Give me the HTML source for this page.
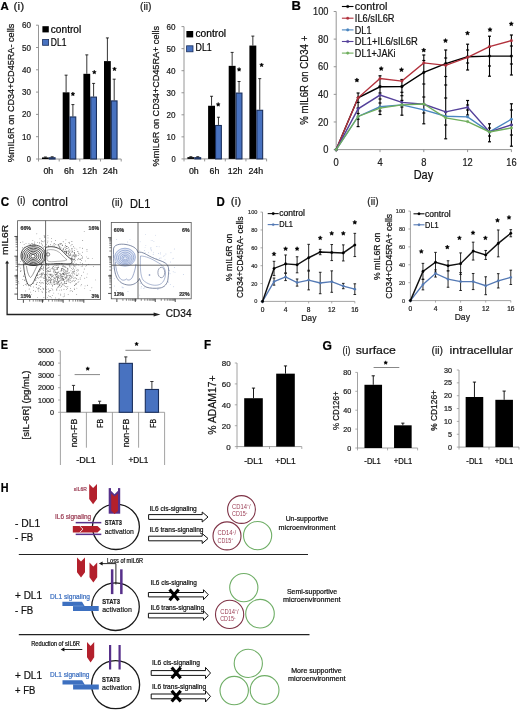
<!DOCTYPE html>
<html><head><meta charset="utf-8"><title>Figure</title>
<style>
html,body{margin:0;padding:0;background:#fff;}
body{width:520px;height:710px;overflow:hidden;}
svg{display:block;font-family:"Liberation Sans", sans-serif;filter:blur(0.3px);}
</style></head>
<body>
<svg width="520" height="710" viewBox="0 0 520 710">
<rect x="0" y="0" width="520" height="710" fill="#fff"/>
<line x1="38.5" y1="25.2" x2="38.5" y2="159" stroke="#8a8a8a" stroke-width="0.9" />
<line x1="38.5" y1="159" x2="121.2" y2="159" stroke="#8a8a8a" stroke-width="0.9" />
<line x1="36" y1="159" x2="38.5" y2="159" stroke="#8a8a8a" stroke-width="0.9" />
<text x="31" y="162.02" font-size="8.4" fill="#222" stroke="#222" stroke-width="0.22" text-anchor="end" textLength="4.2" lengthAdjust="spacingAndGlyphs">0</text>
<line x1="36" y1="136.7" x2="38.5" y2="136.7" stroke="#8a8a8a" stroke-width="0.9" />
<text x="31" y="139.72" font-size="8.4" fill="#222" stroke="#222" stroke-width="0.22" text-anchor="end" textLength="9" lengthAdjust="spacingAndGlyphs">10</text>
<line x1="36" y1="114.4" x2="38.5" y2="114.4" stroke="#8a8a8a" stroke-width="0.9" />
<text x="31" y="117.42" font-size="8.4" fill="#222" stroke="#222" stroke-width="0.22" text-anchor="end" textLength="9" lengthAdjust="spacingAndGlyphs">20</text>
<line x1="36" y1="92.1" x2="38.5" y2="92.1" stroke="#8a8a8a" stroke-width="0.9" />
<text x="31" y="95.12" font-size="8.4" fill="#222" stroke="#222" stroke-width="0.22" text-anchor="end" textLength="9" lengthAdjust="spacingAndGlyphs">30</text>
<line x1="36" y1="69.8" x2="38.5" y2="69.8" stroke="#8a8a8a" stroke-width="0.9" />
<text x="31" y="72.82" font-size="8.4" fill="#222" stroke="#222" stroke-width="0.22" text-anchor="end" textLength="9" lengthAdjust="spacingAndGlyphs">40</text>
<line x1="36" y1="47.5" x2="38.5" y2="47.5" stroke="#8a8a8a" stroke-width="0.9" />
<text x="31" y="50.52" font-size="8.4" fill="#222" stroke="#222" stroke-width="0.22" text-anchor="end" textLength="9" lengthAdjust="spacingAndGlyphs">50</text>
<line x1="36" y1="25.2" x2="38.5" y2="25.2" stroke="#8a8a8a" stroke-width="0.9" />
<text x="31" y="28.22" font-size="8.4" fill="#222" stroke="#222" stroke-width="0.22" text-anchor="end" textLength="9" lengthAdjust="spacingAndGlyphs">60</text>
<line x1="38.5" y1="159" x2="38.5" y2="161.5" stroke="#8a8a8a" stroke-width="0.9" />
<line x1="59.2" y1="159" x2="59.2" y2="161.5" stroke="#8a8a8a" stroke-width="0.9" />
<line x1="79.8" y1="159" x2="79.8" y2="161.5" stroke="#8a8a8a" stroke-width="0.9" />
<line x1="100.5" y1="159" x2="100.5" y2="161.5" stroke="#8a8a8a" stroke-width="0.9" />
<line x1="121.2" y1="159" x2="121.2" y2="161.5" stroke="#8a8a8a" stroke-width="0.9" />
<rect x="42" y="157.44" width="6.8" height="1.56" fill="#000" />
<rect x="49.35" y="157.77" width="5.7" height="1.23" fill="#4872c0" stroke="#1a2f5c" stroke-width="1.1" />
<line x1="45.4" y1="156.99" x2="45.4" y2="157.44" stroke="#000" stroke-width="0.8" />
<line x1="43.9" y1="156.99" x2="46.9" y2="156.99" stroke="#000" stroke-width="0.8" />
<line x1="52.2" y1="156.77" x2="52.2" y2="157.22" stroke="#000" stroke-width="0.8" />
<line x1="50.7" y1="156.77" x2="53.7" y2="156.77" stroke="#000" stroke-width="0.8" />
<rect x="62.7" y="92.32" width="6.8" height="66.68" fill="#000" />
<rect x="70.05" y="116.96" width="5.7" height="42.04" fill="#4872c0" stroke="#1a2f5c" stroke-width="1.1" />
<line x1="66.1" y1="75.15" x2="66.1" y2="92.32" stroke="#000" stroke-width="0.8" />
<line x1="64.6" y1="75.15" x2="67.6" y2="75.15" stroke="#000" stroke-width="0.8" />
<line x1="72.9" y1="104.59" x2="72.9" y2="116.41" stroke="#000" stroke-width="0.8" />
<line x1="71.4" y1="104.59" x2="74.4" y2="104.59" stroke="#000" stroke-width="0.8" />
<rect x="83.4" y="73.81" width="6.8" height="85.19" fill="#000" />
<rect x="90.75" y="97.11" width="5.7" height="61.89" fill="#4872c0" stroke="#1a2f5c" stroke-width="1.1" />
<line x1="86.8" y1="54.86" x2="86.8" y2="73.81" stroke="#000" stroke-width="0.8" />
<line x1="85.3" y1="54.86" x2="88.3" y2="54.86" stroke="#000" stroke-width="0.8" />
<line x1="93.6" y1="83.4" x2="93.6" y2="96.56" stroke="#000" stroke-width="0.8" />
<line x1="92.1" y1="83.4" x2="95.1" y2="83.4" stroke="#000" stroke-width="0.8" />
<rect x="104" y="61.1" width="6.8" height="97.9" fill="#000" />
<rect x="111.35" y="100.9" width="5.7" height="58.1" fill="#4872c0" stroke="#1a2f5c" stroke-width="1.1" />
<line x1="107.4" y1="37.91" x2="107.4" y2="61.1" stroke="#000" stroke-width="0.8" />
<line x1="105.9" y1="37.91" x2="108.9" y2="37.91" stroke="#000" stroke-width="0.8" />
<line x1="114.2" y1="79.17" x2="114.2" y2="100.35" stroke="#000" stroke-width="0.8" />
<line x1="112.7" y1="79.17" x2="115.7" y2="79.17" stroke="#000" stroke-width="0.8" />
<text x="48.3" y="174.2" font-size="8.8" fill="#111" stroke="#111" stroke-width="0.22" text-anchor="middle">0h</text>
<text x="69" y="174.2" font-size="8.8" fill="#111" stroke="#111" stroke-width="0.22" text-anchor="middle">6h</text>
<text x="89.7" y="174.2" font-size="8.8" fill="#111" stroke="#111" stroke-width="0.22" text-anchor="middle">12h</text>
<text x="110.3" y="174.2" font-size="8.8" fill="#111" stroke="#111" stroke-width="0.22" text-anchor="middle">24h</text>
<polygon points="72.9,91.97 73.5,93.18 74.83,93.37 73.86,94.31 74.09,95.64 72.9,95.01 71.71,95.64 71.94,94.31 70.97,93.37 72.3,93.18" fill="#000" stroke="#000" stroke-width="0.5" stroke-linejoin="round"/>
<polygon points="94.3,70.17 94.9,71.38 96.23,71.57 95.26,72.51 95.49,73.84 94.3,73.21 93.11,73.84 93.34,72.51 92.37,71.57 93.7,71.38" fill="#000" stroke="#000" stroke-width="0.5" stroke-linejoin="round"/>
<polygon points="114.5,66.97 115.1,68.18 116.43,68.37 115.46,69.31 115.69,70.64 114.5,70.01 113.31,70.64 113.54,69.31 112.57,68.37 113.9,68.18" fill="#000" stroke="#000" stroke-width="0.5" stroke-linejoin="round"/>
<rect x="42.4" y="26.2" width="6.4" height="6.2" fill="#000" />
<text x="50.8" y="32.6" font-size="10.6" fill="#000" stroke="#000" stroke-width="0.22" textLength="30.4" lengthAdjust="spacingAndGlyphs">control</text>
<rect x="42.6" y="39.4" width="6" height="5.9" fill="#4872c0" stroke="#1a2f5c" stroke-width="0.8" />
<text x="50.8" y="45.8" font-size="10.6" fill="#000" stroke="#000" stroke-width="0.22" textLength="15.6" lengthAdjust="spacingAndGlyphs">DL1</text>
<text x="0.6" y="9.6" font-size="11.2" fill="#000" stroke="#000" stroke-width="0.22" font-weight="bold" textLength="8.3" lengthAdjust="spacingAndGlyphs">A</text>
<text x="13.6" y="10" font-size="10.6" fill="#222" stroke="#222" stroke-width="0.22" textLength="10.6" lengthAdjust="spacingAndGlyphs">(i)</text>
<text transform="translate(14.2,93) rotate(-90)" font-size="9.8" fill="#111" stroke="#111" stroke-width="0.22" text-anchor="middle" textLength="138.5" lengthAdjust="spacingAndGlyphs">%mIL6R on CD34+CD45RA- cells</text>
<line x1="184" y1="26.6" x2="184" y2="158.9" stroke="#8a8a8a" stroke-width="0.9" />
<line x1="184" y1="158.9" x2="266.6" y2="158.9" stroke="#8a8a8a" stroke-width="0.9" />
<line x1="181.5" y1="158.9" x2="184" y2="158.9" stroke="#8a8a8a" stroke-width="0.9" />
<text x="175.6" y="161.92" font-size="8.4" fill="#222" stroke="#222" stroke-width="0.22" text-anchor="end" textLength="4.2" lengthAdjust="spacingAndGlyphs">0</text>
<line x1="181.5" y1="136.85" x2="184" y2="136.85" stroke="#8a8a8a" stroke-width="0.9" />
<text x="175.6" y="139.87" font-size="8.4" fill="#222" stroke="#222" stroke-width="0.22" text-anchor="end" textLength="9" lengthAdjust="spacingAndGlyphs">10</text>
<line x1="181.5" y1="114.8" x2="184" y2="114.8" stroke="#8a8a8a" stroke-width="0.9" />
<text x="175.6" y="117.82" font-size="8.4" fill="#222" stroke="#222" stroke-width="0.22" text-anchor="end" textLength="9" lengthAdjust="spacingAndGlyphs">20</text>
<line x1="181.5" y1="92.75" x2="184" y2="92.75" stroke="#8a8a8a" stroke-width="0.9" />
<text x="175.6" y="95.77" font-size="8.4" fill="#222" stroke="#222" stroke-width="0.22" text-anchor="end" textLength="9" lengthAdjust="spacingAndGlyphs">30</text>
<line x1="181.5" y1="70.7" x2="184" y2="70.7" stroke="#8a8a8a" stroke-width="0.9" />
<text x="175.6" y="73.72" font-size="8.4" fill="#222" stroke="#222" stroke-width="0.22" text-anchor="end" textLength="9" lengthAdjust="spacingAndGlyphs">40</text>
<line x1="181.5" y1="48.65" x2="184" y2="48.65" stroke="#8a8a8a" stroke-width="0.9" />
<text x="175.6" y="51.67" font-size="8.4" fill="#222" stroke="#222" stroke-width="0.22" text-anchor="end" textLength="9" lengthAdjust="spacingAndGlyphs">50</text>
<line x1="181.5" y1="26.6" x2="184" y2="26.6" stroke="#8a8a8a" stroke-width="0.9" />
<text x="175.6" y="29.62" font-size="8.4" fill="#222" stroke="#222" stroke-width="0.22" text-anchor="end" textLength="9" lengthAdjust="spacingAndGlyphs">60</text>
<line x1="184" y1="158.9" x2="184" y2="161.4" stroke="#8a8a8a" stroke-width="0.9" />
<line x1="204.65" y1="158.9" x2="204.65" y2="161.4" stroke="#8a8a8a" stroke-width="0.9" />
<line x1="225.3" y1="158.9" x2="225.3" y2="161.4" stroke="#8a8a8a" stroke-width="0.9" />
<line x1="245.95" y1="158.9" x2="245.95" y2="161.4" stroke="#8a8a8a" stroke-width="0.9" />
<line x1="266.6" y1="158.9" x2="266.6" y2="161.4" stroke="#8a8a8a" stroke-width="0.9" />
<rect x="187.4" y="157.14" width="6.9" height="1.76" fill="#000" />
<rect x="194.85" y="157.69" width="5.8" height="1.21" fill="#4872c0" stroke="#1a2f5c" stroke-width="1.1" />
<line x1="190.85" y1="156.69" x2="190.85" y2="157.14" stroke="#000" stroke-width="0.8" />
<line x1="189.35" y1="156.69" x2="192.35" y2="156.69" stroke="#000" stroke-width="0.8" />
<line x1="197.75" y1="156.69" x2="197.75" y2="157.14" stroke="#000" stroke-width="0.8" />
<line x1="196.25" y1="156.69" x2="199.25" y2="156.69" stroke="#000" stroke-width="0.8" />
<rect x="208.1" y="105.76" width="6.9" height="53.14" fill="#000" />
<rect x="215.55" y="125.49" width="5.8" height="33.41" fill="#4872c0" stroke="#1a2f5c" stroke-width="1.1" />
<line x1="211.55" y1="96.28" x2="211.55" y2="105.76" stroke="#000" stroke-width="0.8" />
<line x1="210.05" y1="96.28" x2="213.05" y2="96.28" stroke="#000" stroke-width="0.8" />
<line x1="218.45" y1="117.23" x2="218.45" y2="124.94" stroke="#000" stroke-width="0.8" />
<line x1="216.95" y1="117.23" x2="219.95" y2="117.23" stroke="#000" stroke-width="0.8" />
<rect x="228.7" y="65.85" width="6.9" height="93.05" fill="#000" />
<rect x="236.15" y="93.08" width="5.8" height="65.82" fill="#4872c0" stroke="#1a2f5c" stroke-width="1.1" />
<line x1="232.15" y1="52.4" x2="232.15" y2="65.85" stroke="#000" stroke-width="0.8" />
<line x1="230.65" y1="52.4" x2="233.65" y2="52.4" stroke="#000" stroke-width="0.8" />
<line x1="239.05" y1="81.5" x2="239.05" y2="92.53" stroke="#000" stroke-width="0.8" />
<line x1="237.55" y1="81.5" x2="240.55" y2="81.5" stroke="#000" stroke-width="0.8" />
<rect x="249.4" y="45.56" width="6.9" height="113.34" fill="#000" />
<rect x="256.85" y="110.28" width="5.8" height="48.62" fill="#4872c0" stroke="#1a2f5c" stroke-width="1.1" />
<line x1="252.85" y1="36.08" x2="252.85" y2="45.56" stroke="#000" stroke-width="0.8" />
<line x1="251.35" y1="36.08" x2="254.35" y2="36.08" stroke="#000" stroke-width="0.8" />
<line x1="259.75" y1="78.64" x2="259.75" y2="109.73" stroke="#000" stroke-width="0.8" />
<line x1="258.25" y1="78.64" x2="261.25" y2="78.64" stroke="#000" stroke-width="0.8" />
<text x="193.8" y="174.2" font-size="8.8" fill="#111" stroke="#111" stroke-width="0.22" text-anchor="middle">0h</text>
<text x="214.5" y="174.2" font-size="8.8" fill="#111" stroke="#111" stroke-width="0.22" text-anchor="middle">6h</text>
<text x="235.1" y="174.2" font-size="8.8" fill="#111" stroke="#111" stroke-width="0.22" text-anchor="middle">12h</text>
<text x="255.8" y="174.2" font-size="8.8" fill="#111" stroke="#111" stroke-width="0.22" text-anchor="middle">24h</text>
<polygon points="218.2,102.47 218.8,103.68 220.13,103.87 219.16,104.81 219.39,106.14 218.2,105.51 217.01,106.14 217.24,104.81 216.27,103.87 217.6,103.68" fill="#000" stroke="#000" stroke-width="0.5" stroke-linejoin="round"/>
<polygon points="239.1,67.47 239.7,68.68 241.03,68.87 240.06,69.81 240.29,71.14 239.1,70.51 237.91,71.14 238.14,69.81 237.17,68.87 238.5,68.68" fill="#000" stroke="#000" stroke-width="0.5" stroke-linejoin="round"/>
<polygon points="261.6,62.98 262.2,64.18 263.53,64.37 262.56,65.31 262.79,66.64 261.6,66.01 260.41,66.64 260.64,65.31 259.67,64.37 261,64.18" fill="#000" stroke="#000" stroke-width="0.5" stroke-linejoin="round"/>
<rect x="186.4" y="31" width="6.8" height="6.4" fill="#000" />
<text x="195.5" y="37.2" font-size="10.6" fill="#000" stroke="#000" stroke-width="0.22" textLength="30.6" lengthAdjust="spacingAndGlyphs">control</text>
<rect x="186.6" y="45.8" width="6.4" height="6" fill="#4872c0" stroke="#1a2f5c" stroke-width="0.8" />
<text x="195.5" y="50.8" font-size="10.6" fill="#000" stroke="#000" stroke-width="0.22" textLength="16.2" lengthAdjust="spacingAndGlyphs">DL1</text>
<text x="140" y="10" font-size="10.6" fill="#222" stroke="#222" stroke-width="0.22" textLength="11.5" lengthAdjust="spacingAndGlyphs">(ii)</text>
<text transform="translate(159,96.2) rotate(-90)" font-size="9.8" fill="#111" stroke="#111" stroke-width="0.22" text-anchor="middle" textLength="140.5" lengthAdjust="spacingAndGlyphs">%mIL6R on CD34+CD45RA+ cells</text>
<line x1="336.2" y1="11.5" x2="336.2" y2="149.6" stroke="#8a8a8a" stroke-width="0.9" />
<line x1="336.2" y1="149.6" x2="511.4" y2="149.6" stroke="#8a8a8a" stroke-width="0.9" />
<line x1="333.7" y1="149.6" x2="336.2" y2="149.6" stroke="#8a8a8a" stroke-width="0.9" />
<text x="328.4" y="153.2" font-size="10.2" fill="#222" stroke="#222" stroke-width="0.22" text-anchor="end" textLength="5.2" lengthAdjust="spacingAndGlyphs">0</text>
<line x1="333.7" y1="121.98" x2="336.2" y2="121.98" stroke="#8a8a8a" stroke-width="0.9" />
<text x="328.4" y="125.58" font-size="10.2" fill="#222" stroke="#222" stroke-width="0.22" text-anchor="end" textLength="10.3" lengthAdjust="spacingAndGlyphs">20</text>
<line x1="333.7" y1="94.36" x2="336.2" y2="94.36" stroke="#8a8a8a" stroke-width="0.9" />
<text x="328.4" y="97.96" font-size="10.2" fill="#222" stroke="#222" stroke-width="0.22" text-anchor="end" textLength="10.3" lengthAdjust="spacingAndGlyphs">40</text>
<line x1="333.7" y1="66.74" x2="336.2" y2="66.74" stroke="#8a8a8a" stroke-width="0.9" />
<text x="328.4" y="70.34" font-size="10.2" fill="#222" stroke="#222" stroke-width="0.22" text-anchor="end" textLength="10.3" lengthAdjust="spacingAndGlyphs">60</text>
<line x1="333.7" y1="39.12" x2="336.2" y2="39.12" stroke="#8a8a8a" stroke-width="0.9" />
<text x="328.4" y="42.72" font-size="10.2" fill="#222" stroke="#222" stroke-width="0.22" text-anchor="end" textLength="10.3" lengthAdjust="spacingAndGlyphs">80</text>
<line x1="333.7" y1="11.5" x2="336.2" y2="11.5" stroke="#8a8a8a" stroke-width="0.9" />
<text x="328.4" y="15.1" font-size="10.2" fill="#222" stroke="#222" stroke-width="0.22" text-anchor="end" textLength="15.4" lengthAdjust="spacingAndGlyphs">100</text>
<line x1="336.2" y1="149.6" x2="336.2" y2="152.1" stroke="#8a8a8a" stroke-width="0.9" />
<text x="336.2" y="165.6" font-size="10.2" fill="#222" stroke="#222" stroke-width="0.22" text-anchor="middle" textLength="5.2" lengthAdjust="spacingAndGlyphs">0</text>
<line x1="380" y1="149.6" x2="380" y2="152.1" stroke="#8a8a8a" stroke-width="0.9" />
<text x="380" y="165.6" font-size="10.2" fill="#222" stroke="#222" stroke-width="0.22" text-anchor="middle" textLength="5.2" lengthAdjust="spacingAndGlyphs">4</text>
<line x1="423.8" y1="149.6" x2="423.8" y2="152.1" stroke="#8a8a8a" stroke-width="0.9" />
<text x="423.8" y="165.6" font-size="10.2" fill="#222" stroke="#222" stroke-width="0.22" text-anchor="middle" textLength="5.2" lengthAdjust="spacingAndGlyphs">8</text>
<line x1="467.6" y1="149.6" x2="467.6" y2="152.1" stroke="#8a8a8a" stroke-width="0.9" />
<text x="467.6" y="165.6" font-size="10.2" fill="#222" stroke="#222" stroke-width="0.22" text-anchor="middle" textLength="10.3" lengthAdjust="spacingAndGlyphs">12</text>
<line x1="511.4" y1="149.6" x2="511.4" y2="152.1" stroke="#8a8a8a" stroke-width="0.9" />
<text x="511.4" y="165.6" font-size="10.2" fill="#222" stroke="#222" stroke-width="0.22" text-anchor="middle" textLength="10.3" lengthAdjust="spacingAndGlyphs">16</text>
<text x="423.4" y="178.8" font-size="12.6" fill="#111" stroke="#111" stroke-width="0.22" text-anchor="middle" textLength="19.5" lengthAdjust="spacingAndGlyphs">Day</text>
<text transform="translate(307.8,80.2) rotate(-90)" font-size="11.2" fill="#111" stroke="#111" stroke-width="0.22" text-anchor="middle" textLength="89" lengthAdjust="spacingAndGlyphs">% mIL6R on CD34 +</text>
<text x="291.4" y="10.4" font-size="12.8" fill="#000" stroke="#000" stroke-width="0.22" font-weight="bold" textLength="9.4" lengthAdjust="spacingAndGlyphs">B</text>
<line x1="358.1" y1="93" x2="358.1" y2="126.6" stroke="#000" stroke-width="1.1" />
<line x1="356.6" y1="93" x2="359.6" y2="93" stroke="#000" stroke-width="1.2" />
<line x1="356.6" y1="102.4" x2="359.6" y2="102.4" stroke="#000" stroke-width="1.2" />
<line x1="356.6" y1="108" x2="359.6" y2="108" stroke="#000" stroke-width="1.2" />
<line x1="356.6" y1="113.5" x2="359.6" y2="113.5" stroke="#000" stroke-width="1.2" />
<line x1="356.6" y1="119.2" x2="359.6" y2="119.2" stroke="#000" stroke-width="1.2" />
<line x1="356.6" y1="126.6" x2="359.6" y2="126.6" stroke="#000" stroke-width="1.2" />
<line x1="380" y1="75.8" x2="380" y2="114.5" stroke="#000" stroke-width="1.1" />
<line x1="378.5" y1="75.8" x2="381.5" y2="75.8" stroke="#000" stroke-width="1.2" />
<line x1="378.5" y1="86.2" x2="381.5" y2="86.2" stroke="#000" stroke-width="1.2" />
<line x1="378.5" y1="93" x2="381.5" y2="93" stroke="#000" stroke-width="1.2" />
<line x1="378.5" y1="99" x2="381.5" y2="99" stroke="#000" stroke-width="1.2" />
<line x1="378.5" y1="103" x2="381.5" y2="103" stroke="#000" stroke-width="1.2" />
<line x1="378.5" y1="111" x2="381.5" y2="111" stroke="#000" stroke-width="1.2" />
<line x1="378.5" y1="114.5" x2="381.5" y2="114.5" stroke="#000" stroke-width="1.2" />
<line x1="401.9" y1="79.5" x2="401.9" y2="115.2" stroke="#000" stroke-width="1.1" />
<line x1="400.4" y1="79.5" x2="403.4" y2="79.5" stroke="#000" stroke-width="1.2" />
<line x1="400.4" y1="86.2" x2="403.4" y2="86.2" stroke="#000" stroke-width="1.2" />
<line x1="400.4" y1="92.3" x2="403.4" y2="92.3" stroke="#000" stroke-width="1.2" />
<line x1="400.4" y1="95.7" x2="403.4" y2="95.7" stroke="#000" stroke-width="1.2" />
<line x1="400.4" y1="100.4" x2="403.4" y2="100.4" stroke="#000" stroke-width="1.2" />
<line x1="400.4" y1="107" x2="403.4" y2="107" stroke="#000" stroke-width="1.2" />
<line x1="400.4" y1="115.2" x2="403.4" y2="115.2" stroke="#000" stroke-width="1.2" />
<line x1="423.8" y1="55" x2="423.8" y2="123.8" stroke="#000" stroke-width="1.1" />
<line x1="422.3" y1="55" x2="425.3" y2="55" stroke="#000" stroke-width="1.2" />
<line x1="422.3" y1="60.5" x2="425.3" y2="60.5" stroke="#000" stroke-width="1.2" />
<line x1="422.3" y1="84" x2="425.3" y2="84" stroke="#000" stroke-width="1.2" />
<line x1="422.3" y1="97" x2="425.3" y2="97" stroke="#000" stroke-width="1.2" />
<line x1="422.3" y1="104" x2="425.3" y2="104" stroke="#000" stroke-width="1.2" />
<line x1="422.3" y1="113" x2="425.3" y2="113" stroke="#000" stroke-width="1.2" />
<line x1="422.3" y1="123.8" x2="425.3" y2="123.8" stroke="#000" stroke-width="1.2" />
<line x1="445.7" y1="50" x2="445.7" y2="138.8" stroke="#000" stroke-width="1.1" />
<line x1="444.2" y1="50" x2="447.2" y2="50" stroke="#000" stroke-width="1.2" />
<line x1="444.2" y1="58" x2="447.2" y2="58" stroke="#000" stroke-width="1.2" />
<line x1="444.2" y1="76.5" x2="447.2" y2="76.5" stroke="#000" stroke-width="1.2" />
<line x1="444.2" y1="85" x2="447.2" y2="85" stroke="#000" stroke-width="1.2" />
<line x1="444.2" y1="98" x2="447.2" y2="98" stroke="#000" stroke-width="1.2" />
<line x1="444.2" y1="112" x2="447.2" y2="112" stroke="#000" stroke-width="1.2" />
<line x1="444.2" y1="125" x2="447.2" y2="125" stroke="#000" stroke-width="1.2" />
<line x1="444.2" y1="138.8" x2="447.2" y2="138.8" stroke="#000" stroke-width="1.2" />
<line x1="467.6" y1="44.2" x2="467.6" y2="70" stroke="#000" stroke-width="1.1" />
<line x1="467.6" y1="100.5" x2="467.6" y2="115" stroke="#000" stroke-width="1.1" />
<line x1="466.1" y1="44.2" x2="469.1" y2="44.2" stroke="#000" stroke-width="1.2" />
<line x1="466.1" y1="50" x2="469.1" y2="50" stroke="#000" stroke-width="1.2" />
<line x1="466.1" y1="63" x2="469.1" y2="63" stroke="#000" stroke-width="1.2" />
<line x1="466.1" y1="70" x2="469.1" y2="70" stroke="#000" stroke-width="1.2" />
<line x1="466.1" y1="100.5" x2="469.1" y2="100.5" stroke="#000" stroke-width="1.2" />
<line x1="466.1" y1="105" x2="469.1" y2="105" stroke="#000" stroke-width="1.2" />
<line x1="466.1" y1="110" x2="469.1" y2="110" stroke="#000" stroke-width="1.2" />
<line x1="466.1" y1="115" x2="469.1" y2="115" stroke="#000" stroke-width="1.2" />
<line x1="489.5" y1="36.2" x2="489.5" y2="76.2" stroke="#000" stroke-width="1.1" />
<line x1="489.5" y1="123.8" x2="489.5" y2="141.8" stroke="#000" stroke-width="1.1" />
<line x1="488" y1="36.2" x2="491" y2="36.2" stroke="#000" stroke-width="1.2" />
<line x1="488" y1="47" x2="491" y2="47" stroke="#000" stroke-width="1.2" />
<line x1="488" y1="66" x2="491" y2="66" stroke="#000" stroke-width="1.2" />
<line x1="488" y1="76.2" x2="491" y2="76.2" stroke="#000" stroke-width="1.2" />
<line x1="488" y1="123.8" x2="491" y2="123.8" stroke="#000" stroke-width="1.2" />
<line x1="488" y1="128" x2="491" y2="128" stroke="#000" stroke-width="1.2" />
<line x1="488" y1="136" x2="491" y2="136" stroke="#000" stroke-width="1.2" />
<line x1="488" y1="141.8" x2="491" y2="141.8" stroke="#000" stroke-width="1.2" />
<line x1="511.4" y1="35" x2="511.4" y2="75" stroke="#000" stroke-width="1.1" />
<line x1="511.4" y1="103.8" x2="511.4" y2="146.2" stroke="#000" stroke-width="1.1" />
<line x1="509.9" y1="35" x2="512.9" y2="35" stroke="#000" stroke-width="1.2" />
<line x1="509.9" y1="46" x2="512.9" y2="46" stroke="#000" stroke-width="1.2" />
<line x1="509.9" y1="64" x2="512.9" y2="64" stroke="#000" stroke-width="1.2" />
<line x1="509.9" y1="75" x2="512.9" y2="75" stroke="#000" stroke-width="1.2" />
<line x1="509.9" y1="103.8" x2="512.9" y2="103.8" stroke="#000" stroke-width="1.2" />
<line x1="509.9" y1="110" x2="512.9" y2="110" stroke="#000" stroke-width="1.2" />
<line x1="509.9" y1="125" x2="512.9" y2="125" stroke="#000" stroke-width="1.2" />
<line x1="509.9" y1="135" x2="512.9" y2="135" stroke="#000" stroke-width="1.2" />
<line x1="509.9" y1="146.2" x2="512.9" y2="146.2" stroke="#000" stroke-width="1.2" />
<polyline points="336.2,149.6 358.1,97.81 380,86.76 401.9,86.63 423.8,72.4 445.7,63.56 467.6,56.8 489.5,56.11 511.4,56.11" fill="none" stroke="#000000" stroke-width="1.4" />
<circle cx="336.2" cy="149.6" r="1.3" fill="#000000" stroke="#000000" stroke-width="0.3"/>
<circle cx="358.1" cy="97.81" r="1.3" fill="#000000" stroke="#000000" stroke-width="0.3"/>
<circle cx="380" cy="86.76" r="1.3" fill="#000000" stroke="#000000" stroke-width="0.3"/>
<circle cx="401.9" cy="86.63" r="1.3" fill="#000000" stroke="#000000" stroke-width="0.3"/>
<circle cx="423.8" cy="72.4" r="1.3" fill="#000000" stroke="#000000" stroke-width="0.3"/>
<circle cx="445.7" cy="63.56" r="1.3" fill="#000000" stroke="#000000" stroke-width="0.3"/>
<circle cx="467.6" cy="56.8" r="1.3" fill="#000000" stroke="#000000" stroke-width="0.3"/>
<circle cx="489.5" cy="56.11" r="1.3" fill="#000000" stroke="#000000" stroke-width="0.3"/>
<circle cx="511.4" cy="56.11" r="1.3" fill="#000000" stroke="#000000" stroke-width="0.3"/>
<polyline points="336.2,149.6 358.1,97.81 380,78.48 401.9,81.1 423.8,62.87 445.7,65.36 467.6,57.35 489.5,46.58 511.4,40.64" fill="none" stroke="#b2313c" stroke-width="1.4" />
<circle cx="336.2" cy="149.6" r="1.3" fill="#b2313c" stroke="#b2313c" stroke-width="0.3"/>
<circle cx="358.1" cy="97.81" r="1.3" fill="#b2313c" stroke="#b2313c" stroke-width="0.3"/>
<circle cx="380" cy="78.48" r="1.3" fill="#b2313c" stroke="#b2313c" stroke-width="0.3"/>
<circle cx="401.9" cy="81.1" r="1.3" fill="#b2313c" stroke="#b2313c" stroke-width="0.3"/>
<circle cx="423.8" cy="62.87" r="1.3" fill="#b2313c" stroke="#b2313c" stroke-width="0.3"/>
<circle cx="445.7" cy="65.36" r="1.3" fill="#b2313c" stroke="#b2313c" stroke-width="0.3"/>
<circle cx="467.6" cy="57.35" r="1.3" fill="#b2313c" stroke="#b2313c" stroke-width="0.3"/>
<circle cx="489.5" cy="46.58" r="1.3" fill="#b2313c" stroke="#b2313c" stroke-width="0.3"/>
<circle cx="511.4" cy="40.64" r="1.3" fill="#b2313c" stroke="#b2313c" stroke-width="0.3"/>
<polyline points="336.2,149.6 358.1,116.46 380,106.79 401.9,104.86 423.8,109.83 445.7,116.18 467.6,116.87 489.5,131.92 511.4,119.22" fill="none" stroke="#4a86c0" stroke-width="1.4" />
<circle cx="336.2" cy="149.6" r="1.3" fill="#4a86c0" stroke="#4a86c0" stroke-width="0.3"/>
<circle cx="358.1" cy="116.46" r="1.3" fill="#4a86c0" stroke="#4a86c0" stroke-width="0.3"/>
<circle cx="380" cy="106.79" r="1.3" fill="#4a86c0" stroke="#4a86c0" stroke-width="0.3"/>
<circle cx="401.9" cy="104.86" r="1.3" fill="#4a86c0" stroke="#4a86c0" stroke-width="0.3"/>
<circle cx="423.8" cy="109.83" r="1.3" fill="#4a86c0" stroke="#4a86c0" stroke-width="0.3"/>
<circle cx="445.7" cy="116.18" r="1.3" fill="#4a86c0" stroke="#4a86c0" stroke-width="0.3"/>
<circle cx="467.6" cy="116.87" r="1.3" fill="#4a86c0" stroke="#4a86c0" stroke-width="0.3"/>
<circle cx="489.5" cy="131.92" r="1.3" fill="#4a86c0" stroke="#4a86c0" stroke-width="0.3"/>
<circle cx="511.4" cy="119.22" r="1.3" fill="#4a86c0" stroke="#4a86c0" stroke-width="0.3"/>
<polyline points="336.2,149.6 358.1,108.86 380,95.05 401.9,102.37 423.8,104.3 445.7,111.9 467.6,107.34 489.5,131.92 511.4,124.88" fill="none" stroke="#54409a" stroke-width="1.4" />
<circle cx="336.2" cy="149.6" r="1.3" fill="#54409a" stroke="#54409a" stroke-width="0.3"/>
<circle cx="358.1" cy="108.86" r="1.3" fill="#54409a" stroke="#54409a" stroke-width="0.3"/>
<circle cx="380" cy="95.05" r="1.3" fill="#54409a" stroke="#54409a" stroke-width="0.3"/>
<circle cx="401.9" cy="102.37" r="1.3" fill="#54409a" stroke="#54409a" stroke-width="0.3"/>
<circle cx="423.8" cy="104.3" r="1.3" fill="#54409a" stroke="#54409a" stroke-width="0.3"/>
<circle cx="445.7" cy="111.9" r="1.3" fill="#54409a" stroke="#54409a" stroke-width="0.3"/>
<circle cx="467.6" cy="107.34" r="1.3" fill="#54409a" stroke="#54409a" stroke-width="0.3"/>
<circle cx="489.5" cy="131.92" r="1.3" fill="#54409a" stroke="#54409a" stroke-width="0.3"/>
<circle cx="511.4" cy="124.88" r="1.3" fill="#54409a" stroke="#54409a" stroke-width="0.3"/>
<polyline points="336.2,149.6 358.1,116.46 380,108.17 401.9,104.86 423.8,104.03 445.7,117.84 467.6,121.57 489.5,131.92 511.4,127.92" fill="none" stroke="#6fae5d" stroke-width="1.4" />
<circle cx="336.2" cy="149.6" r="1.3" fill="#6fae5d" stroke="#6fae5d" stroke-width="0.3"/>
<circle cx="358.1" cy="116.46" r="1.3" fill="#6fae5d" stroke="#6fae5d" stroke-width="0.3"/>
<circle cx="380" cy="108.17" r="1.3" fill="#6fae5d" stroke="#6fae5d" stroke-width="0.3"/>
<circle cx="401.9" cy="104.86" r="1.3" fill="#6fae5d" stroke="#6fae5d" stroke-width="0.3"/>
<circle cx="423.8" cy="104.03" r="1.3" fill="#6fae5d" stroke="#6fae5d" stroke-width="0.3"/>
<circle cx="445.7" cy="117.84" r="1.3" fill="#6fae5d" stroke="#6fae5d" stroke-width="0.3"/>
<circle cx="467.6" cy="121.57" r="1.3" fill="#6fae5d" stroke="#6fae5d" stroke-width="0.3"/>
<circle cx="489.5" cy="131.92" r="1.3" fill="#6fae5d" stroke="#6fae5d" stroke-width="0.3"/>
<circle cx="511.4" cy="127.92" r="1.3" fill="#6fae5d" stroke="#6fae5d" stroke-width="0.3"/>
<polygon points="356.9,77.95 357.56,79.29 359.04,79.5 357.97,80.55 358.22,82.02 356.9,81.33 355.58,82.02 355.83,80.55 354.76,79.5 356.24,79.29" fill="#000" stroke="#000" stroke-width="0.5" stroke-linejoin="round"/>
<polygon points="381.2,66.45 381.86,67.79 383.34,68 382.27,69.05 382.52,70.52 381.2,69.83 379.88,70.52 380.13,69.05 379.06,68 380.54,67.79" fill="#000" stroke="#000" stroke-width="0.5" stroke-linejoin="round"/>
<polygon points="401.5,67.55 402.16,68.89 403.64,69.1 402.57,70.15 402.82,71.62 401.5,70.92 400.18,71.62 400.43,70.15 399.36,69.1 400.84,68.89" fill="#000" stroke="#000" stroke-width="0.5" stroke-linejoin="round"/>
<polygon points="423.75,47.95 424.41,49.29 425.89,49.5 424.82,50.55 425.07,52.02 423.75,51.33 422.43,52.02 422.68,50.55 421.61,49.5 423.09,49.29" fill="#000" stroke="#000" stroke-width="0.5" stroke-linejoin="round"/>
<polygon points="445.5,38.45 446.16,39.79 447.64,40 446.57,41.05 446.82,42.52 445.5,41.83 444.18,42.52 444.43,41.05 443.36,40 444.84,39.79" fill="#000" stroke="#000" stroke-width="0.5" stroke-linejoin="round"/>
<polygon points="467.5,30.95 468.16,32.29 469.64,32.5 468.57,33.55 468.82,35.02 467.5,34.33 466.18,35.02 466.43,33.55 465.36,32.5 466.84,32.29" fill="#000" stroke="#000" stroke-width="0.5" stroke-linejoin="round"/>
<polygon points="490,27.45 490.66,28.79 492.14,29 491.07,30.05 491.32,31.52 490,30.82 488.68,31.52 488.93,30.05 487.86,29 489.34,28.79" fill="#000" stroke="#000" stroke-width="0.5" stroke-linejoin="round"/>
<polygon points="511.25,21.7 511.91,23.04 513.39,23.25 512.32,24.3 512.57,25.77 511.25,25.07 509.93,25.77 510.18,24.3 509.11,23.25 510.59,23.04" fill="#000" stroke="#000" stroke-width="0.5" stroke-linejoin="round"/>
<line x1="341.9" y1="6.5" x2="353.5" y2="6.5" stroke="#000000" stroke-width="1.1" />
<circle cx="347.7" cy="6.5" r="1.3" fill="#000000" stroke="#000000" stroke-width="0.3"/>
<text x="354.8" y="10.3" font-size="10.6" fill="#111" stroke="#111" stroke-width="0.22" textLength="32.7" lengthAdjust="spacingAndGlyphs">control</text>
<line x1="341.9" y1="18.2" x2="353.5" y2="18.2" stroke="#b2313c" stroke-width="1.1" />
<circle cx="347.7" cy="18.2" r="1.3" fill="#b2313c" stroke="#b2313c" stroke-width="0.3"/>
<text x="354.8" y="22" font-size="10.6" fill="#111" stroke="#111" stroke-width="0.22" textLength="39.8" lengthAdjust="spacingAndGlyphs">IL6/sIL6R</text>
<line x1="341.9" y1="29.9" x2="353.5" y2="29.9" stroke="#4a86c0" stroke-width="1.1" />
<circle cx="347.7" cy="29.9" r="1.3" fill="#4a86c0" stroke="#4a86c0" stroke-width="0.3"/>
<text x="354.8" y="33.7" font-size="10.6" fill="#111" stroke="#111" stroke-width="0.22" textLength="16.7" lengthAdjust="spacingAndGlyphs">DL1</text>
<line x1="341.9" y1="41.5" x2="353.5" y2="41.5" stroke="#54409a" stroke-width="1.1" />
<circle cx="347.7" cy="41.5" r="1.3" fill="#54409a" stroke="#54409a" stroke-width="0.3"/>
<text x="354.8" y="45.3" font-size="10.6" fill="#111" stroke="#111" stroke-width="0.22" textLength="63" lengthAdjust="spacingAndGlyphs">DL1+IL6/sIL6R</text>
<line x1="341.9" y1="53.1" x2="353.5" y2="53.1" stroke="#6fae5d" stroke-width="1.1" />
<circle cx="347.7" cy="53.1" r="1.3" fill="#6fae5d" stroke="#6fae5d" stroke-width="0.3"/>
<text x="354.8" y="56.9" font-size="10.6" fill="#111" stroke="#111" stroke-width="0.22" textLength="40.8" lengthAdjust="spacingAndGlyphs">DL1+JAKi</text>
<text x="0.8" y="206" font-size="12.4" fill="#000" stroke="#000" stroke-width="0.22" font-weight="bold" textLength="8.4" lengthAdjust="spacingAndGlyphs">C</text>
<text x="17" y="204" font-size="11" fill="#222" stroke="#222" stroke-width="0.22" textLength="8.4" lengthAdjust="spacingAndGlyphs">(i)</text>
<text x="32.3" y="205.7" font-size="12.6" fill="#111" stroke="#111" stroke-width="0.22" textLength="35.6" lengthAdjust="spacingAndGlyphs">control</text>
<text x="111.6" y="206.2" font-size="11" fill="#222" stroke="#222" stroke-width="0.22" textLength="11.2" lengthAdjust="spacingAndGlyphs">(ii)</text>
<text x="130" y="207.5" font-size="12.6" fill="#111" stroke="#111" stroke-width="0.22" textLength="20.3" lengthAdjust="spacingAndGlyphs">DL1</text>
<text transform="translate(8.4,239.9) rotate(-90)" font-size="9.2" fill="#111" stroke="#111" stroke-width="0.22" text-anchor="middle" textLength="30.4" lengthAdjust="spacingAndGlyphs">mIL6R</text>
<polyline points="7.1,262.5 7.1,314.5 154,314.5" fill="none" stroke="#222" stroke-width="1.3" />
<polygon points="7.1,260.4 5.1,263.6 9.1,263.6" fill="#222" />
<polygon points="160.4,314.5 153.6,312.4 153.6,316.6" fill="#222" />
<text x="165.8" y="316.6" font-size="10" fill="#111" stroke="#111" stroke-width="0.22" textLength="25.7" lengthAdjust="spacingAndGlyphs">CD34</text>
<rect x="17.6" y="220.7" width="82.8" height="78.9" fill="#fff" stroke="#555" stroke-width="0.8" />
<line x1="14.4" y1="294.08" x2="17.6" y2="294.08" stroke="#222" stroke-width="0.8" />
<line x1="15.6" y1="288.14" x2="17.6" y2="288.14" stroke="#333" stroke-width="0.6" />
<line x1="15.6" y1="284.67" x2="17.6" y2="284.67" stroke="#333" stroke-width="0.6" />
<line x1="15.6" y1="282.2" x2="17.6" y2="282.2" stroke="#333" stroke-width="0.6" />
<line x1="15.6" y1="280.29" x2="17.6" y2="280.29" stroke="#333" stroke-width="0.6" />
<line x1="15.6" y1="278.73" x2="17.6" y2="278.73" stroke="#333" stroke-width="0.6" />
<line x1="15.6" y1="277.41" x2="17.6" y2="277.41" stroke="#333" stroke-width="0.6" />
<line x1="15.6" y1="276.26" x2="17.6" y2="276.26" stroke="#333" stroke-width="0.6" />
<line x1="15.6" y1="275.25" x2="17.6" y2="275.25" stroke="#333" stroke-width="0.6" />
<line x1="14.4" y1="275.93" x2="17.6" y2="275.93" stroke="#222" stroke-width="0.8" />
<line x1="15.6" y1="269.99" x2="17.6" y2="269.99" stroke="#333" stroke-width="0.6" />
<line x1="15.6" y1="266.52" x2="17.6" y2="266.52" stroke="#333" stroke-width="0.6" />
<line x1="15.6" y1="264.05" x2="17.6" y2="264.05" stroke="#333" stroke-width="0.6" />
<line x1="15.6" y1="262.14" x2="17.6" y2="262.14" stroke="#333" stroke-width="0.6" />
<line x1="15.6" y1="260.58" x2="17.6" y2="260.58" stroke="#333" stroke-width="0.6" />
<line x1="15.6" y1="259.26" x2="17.6" y2="259.26" stroke="#333" stroke-width="0.6" />
<line x1="15.6" y1="258.12" x2="17.6" y2="258.12" stroke="#333" stroke-width="0.6" />
<line x1="15.6" y1="257.11" x2="17.6" y2="257.11" stroke="#333" stroke-width="0.6" />
<line x1="14.4" y1="256.2" x2="17.6" y2="256.2" stroke="#222" stroke-width="0.8" />
<line x1="15.6" y1="250.27" x2="17.6" y2="250.27" stroke="#333" stroke-width="0.6" />
<line x1="15.6" y1="246.79" x2="17.6" y2="246.79" stroke="#333" stroke-width="0.6" />
<line x1="15.6" y1="244.33" x2="17.6" y2="244.33" stroke="#333" stroke-width="0.6" />
<line x1="15.6" y1="242.42" x2="17.6" y2="242.42" stroke="#333" stroke-width="0.6" />
<line x1="15.6" y1="240.86" x2="17.6" y2="240.86" stroke="#333" stroke-width="0.6" />
<line x1="15.6" y1="239.54" x2="17.6" y2="239.54" stroke="#333" stroke-width="0.6" />
<line x1="15.6" y1="238.39" x2="17.6" y2="238.39" stroke="#333" stroke-width="0.6" />
<line x1="15.6" y1="237.38" x2="17.6" y2="237.38" stroke="#333" stroke-width="0.6" />
<line x1="14.4" y1="236.48" x2="17.6" y2="236.48" stroke="#222" stroke-width="0.8" />
<line x1="23.4" y1="299.6" x2="23.4" y2="302.8" stroke="#222" stroke-width="0.8" />
<line x1="29.63" y1="299.6" x2="29.63" y2="301.6" stroke="#333" stroke-width="0.6" />
<line x1="33.27" y1="299.6" x2="33.27" y2="301.6" stroke="#333" stroke-width="0.6" />
<line x1="35.86" y1="299.6" x2="35.86" y2="301.6" stroke="#333" stroke-width="0.6" />
<line x1="37.86" y1="299.6" x2="37.86" y2="301.6" stroke="#333" stroke-width="0.6" />
<line x1="39.5" y1="299.6" x2="39.5" y2="301.6" stroke="#333" stroke-width="0.6" />
<line x1="40.89" y1="299.6" x2="40.89" y2="301.6" stroke="#333" stroke-width="0.6" />
<line x1="42.09" y1="299.6" x2="42.09" y2="301.6" stroke="#333" stroke-width="0.6" />
<line x1="43.15" y1="299.6" x2="43.15" y2="301.6" stroke="#333" stroke-width="0.6" />
<line x1="42.44" y1="299.6" x2="42.44" y2="302.8" stroke="#222" stroke-width="0.8" />
<line x1="48.67" y1="299.6" x2="48.67" y2="301.6" stroke="#333" stroke-width="0.6" />
<line x1="52.32" y1="299.6" x2="52.32" y2="301.6" stroke="#333" stroke-width="0.6" />
<line x1="54.9" y1="299.6" x2="54.9" y2="301.6" stroke="#333" stroke-width="0.6" />
<line x1="56.91" y1="299.6" x2="56.91" y2="301.6" stroke="#333" stroke-width="0.6" />
<line x1="58.55" y1="299.6" x2="58.55" y2="301.6" stroke="#333" stroke-width="0.6" />
<line x1="59.93" y1="299.6" x2="59.93" y2="301.6" stroke="#333" stroke-width="0.6" />
<line x1="61.13" y1="299.6" x2="61.13" y2="301.6" stroke="#333" stroke-width="0.6" />
<line x1="62.19" y1="299.6" x2="62.19" y2="301.6" stroke="#333" stroke-width="0.6" />
<line x1="63.14" y1="299.6" x2="63.14" y2="302.8" stroke="#222" stroke-width="0.8" />
<line x1="69.37" y1="299.6" x2="69.37" y2="301.6" stroke="#333" stroke-width="0.6" />
<line x1="73.02" y1="299.6" x2="73.02" y2="301.6" stroke="#333" stroke-width="0.6" />
<line x1="75.6" y1="299.6" x2="75.6" y2="301.6" stroke="#333" stroke-width="0.6" />
<line x1="77.61" y1="299.6" x2="77.61" y2="301.6" stroke="#333" stroke-width="0.6" />
<line x1="79.25" y1="299.6" x2="79.25" y2="301.6" stroke="#333" stroke-width="0.6" />
<line x1="80.63" y1="299.6" x2="80.63" y2="301.6" stroke="#333" stroke-width="0.6" />
<line x1="81.83" y1="299.6" x2="81.83" y2="301.6" stroke="#333" stroke-width="0.6" />
<line x1="82.89" y1="299.6" x2="82.89" y2="301.6" stroke="#333" stroke-width="0.6" />
<line x1="83.84" y1="299.6" x2="83.84" y2="302.8" stroke="#222" stroke-width="0.8" />
<circle cx="55.19" cy="279.6" r="0.42" fill="#4a4a4a"/>
<circle cx="55.51" cy="272.16" r="0.42" fill="#4a4a4a"/>
<circle cx="47.77" cy="273.08" r="0.42" fill="#4a4a4a"/>
<circle cx="70.23" cy="278.82" r="0.42" fill="#4a4a4a"/>
<circle cx="69.41" cy="277.24" r="0.42" fill="#4a4a4a"/>
<circle cx="62.34" cy="276.67" r="0.42" fill="#4a4a4a"/>
<circle cx="39.67" cy="282.7" r="0.42" fill="#4a4a4a"/>
<circle cx="63.57" cy="279.49" r="0.42" fill="#4a4a4a"/>
<circle cx="39.39" cy="259.31" r="0.42" fill="#4a4a4a"/>
<circle cx="48.21" cy="270.79" r="0.42" fill="#4a4a4a"/>
<circle cx="61.36" cy="274.59" r="0.42" fill="#4a4a4a"/>
<circle cx="63.73" cy="269.22" r="0.42" fill="#4a4a4a"/>
<circle cx="61.4" cy="278.55" r="0.42" fill="#4a4a4a"/>
<circle cx="50.73" cy="290.46" r="0.42" fill="#4a4a4a"/>
<circle cx="64.12" cy="285.77" r="0.42" fill="#4a4a4a"/>
<circle cx="51.18" cy="268.34" r="0.42" fill="#4a4a4a"/>
<circle cx="54.22" cy="274.04" r="0.42" fill="#4a4a4a"/>
<circle cx="64.95" cy="277.24" r="0.42" fill="#4a4a4a"/>
<circle cx="53.08" cy="266.39" r="0.42" fill="#4a4a4a"/>
<circle cx="52.27" cy="285.99" r="0.42" fill="#4a4a4a"/>
<circle cx="49.11" cy="277.2" r="0.42" fill="#4a4a4a"/>
<circle cx="62.69" cy="261.59" r="0.42" fill="#4a4a4a"/>
<circle cx="58.53" cy="286.76" r="0.42" fill="#4a4a4a"/>
<circle cx="35.84" cy="272.11" r="0.42" fill="#4a4a4a"/>
<circle cx="56.83" cy="267.64" r="0.42" fill="#4a4a4a"/>
<circle cx="63.47" cy="274.44" r="0.42" fill="#4a4a4a"/>
<circle cx="41.89" cy="282.45" r="0.42" fill="#4a4a4a"/>
<circle cx="65.36" cy="283.51" r="0.42" fill="#4a4a4a"/>
<circle cx="73.85" cy="278.26" r="0.42" fill="#4a4a4a"/>
<circle cx="59.31" cy="263.31" r="0.42" fill="#4a4a4a"/>
<circle cx="64.77" cy="269.49" r="0.42" fill="#4a4a4a"/>
<circle cx="53.02" cy="263.62" r="0.42" fill="#4a4a4a"/>
<circle cx="47.36" cy="270.22" r="0.42" fill="#4a4a4a"/>
<circle cx="72.18" cy="256.71" r="0.42" fill="#4a4a4a"/>
<circle cx="41.97" cy="277.15" r="0.42" fill="#4a4a4a"/>
<circle cx="73.88" cy="280.21" r="0.42" fill="#4a4a4a"/>
<circle cx="37.1" cy="252.34" r="0.42" fill="#4a4a4a"/>
<circle cx="61.93" cy="268.37" r="0.42" fill="#4a4a4a"/>
<circle cx="45.68" cy="283.8" r="0.42" fill="#4a4a4a"/>
<circle cx="70.12" cy="276.42" r="0.42" fill="#4a4a4a"/>
<circle cx="60.7" cy="278.91" r="0.42" fill="#4a4a4a"/>
<circle cx="75.53" cy="280.57" r="0.42" fill="#4a4a4a"/>
<circle cx="63.71" cy="279.93" r="0.42" fill="#4a4a4a"/>
<circle cx="40.75" cy="286.54" r="0.42" fill="#4a4a4a"/>
<circle cx="68.51" cy="279.77" r="0.42" fill="#4a4a4a"/>
<circle cx="36.29" cy="269.3" r="0.42" fill="#4a4a4a"/>
<circle cx="67.27" cy="258.7" r="0.42" fill="#4a4a4a"/>
<circle cx="55.98" cy="284.18" r="0.42" fill="#4a4a4a"/>
<circle cx="43.58" cy="289.49" r="0.42" fill="#4a4a4a"/>
<circle cx="64.07" cy="273.65" r="0.42" fill="#4a4a4a"/>
<circle cx="61.57" cy="280.85" r="0.42" fill="#4a4a4a"/>
<circle cx="59.32" cy="285.31" r="0.42" fill="#4a4a4a"/>
<circle cx="50.72" cy="271.27" r="0.42" fill="#4a4a4a"/>
<circle cx="69.46" cy="275.24" r="0.42" fill="#4a4a4a"/>
<circle cx="48.31" cy="283.52" r="0.42" fill="#4a4a4a"/>
<circle cx="74.12" cy="271" r="0.42" fill="#4a4a4a"/>
<circle cx="42.82" cy="273.79" r="0.42" fill="#4a4a4a"/>
<circle cx="56.36" cy="272.32" r="0.42" fill="#4a4a4a"/>
<circle cx="73.45" cy="265.76" r="0.42" fill="#4a4a4a"/>
<circle cx="71.87" cy="263.59" r="0.42" fill="#4a4a4a"/>
<circle cx="49.34" cy="280.68" r="0.42" fill="#4a4a4a"/>
<circle cx="70.42" cy="282.73" r="0.42" fill="#4a4a4a"/>
<circle cx="61.8" cy="276.28" r="0.42" fill="#4a4a4a"/>
<circle cx="59.68" cy="280.18" r="0.42" fill="#4a4a4a"/>
<circle cx="56.06" cy="277.5" r="0.42" fill="#4a4a4a"/>
<circle cx="64.3" cy="275.01" r="0.42" fill="#4a4a4a"/>
<circle cx="66.4" cy="280.09" r="0.42" fill="#4a4a4a"/>
<circle cx="80.12" cy="277.92" r="0.42" fill="#4a4a4a"/>
<circle cx="53.3" cy="271.65" r="0.42" fill="#4a4a4a"/>
<circle cx="57.86" cy="283.31" r="0.42" fill="#4a4a4a"/>
<circle cx="54.3" cy="278.47" r="0.42" fill="#4a4a4a"/>
<circle cx="78.21" cy="251.92" r="0.42" fill="#4a4a4a"/>
<circle cx="45.64" cy="277.2" r="0.42" fill="#4a4a4a"/>
<circle cx="62.38" cy="277.15" r="0.42" fill="#4a4a4a"/>
<circle cx="53.26" cy="280.9" r="0.42" fill="#4a4a4a"/>
<circle cx="61.1" cy="270.3" r="0.42" fill="#4a4a4a"/>
<circle cx="84.73" cy="278.2" r="0.42" fill="#4a4a4a"/>
<circle cx="51.9" cy="274.1" r="0.42" fill="#4a4a4a"/>
<circle cx="55.52" cy="274.44" r="0.42" fill="#4a4a4a"/>
<circle cx="27.99" cy="270.62" r="0.42" fill="#4a4a4a"/>
<circle cx="69.09" cy="264.48" r="0.42" fill="#4a4a4a"/>
<circle cx="57.27" cy="283.58" r="0.42" fill="#4a4a4a"/>
<circle cx="67.42" cy="288.42" r="0.42" fill="#4a4a4a"/>
<circle cx="39.28" cy="271.82" r="0.42" fill="#4a4a4a"/>
<circle cx="54.25" cy="280.61" r="0.42" fill="#4a4a4a"/>
<circle cx="70.01" cy="250.85" r="0.42" fill="#4a4a4a"/>
<circle cx="69.98" cy="261.97" r="0.42" fill="#4a4a4a"/>
<circle cx="65.51" cy="261.57" r="0.42" fill="#4a4a4a"/>
<circle cx="59.93" cy="285.75" r="0.42" fill="#4a4a4a"/>
<circle cx="56.36" cy="276.72" r="0.42" fill="#4a4a4a"/>
<circle cx="66.77" cy="276.27" r="0.42" fill="#4a4a4a"/>
<circle cx="57.03" cy="288.8" r="0.42" fill="#4a4a4a"/>
<circle cx="69.53" cy="272.36" r="0.42" fill="#4a4a4a"/>
<circle cx="88.2" cy="264.68" r="0.42" fill="#4a4a4a"/>
<circle cx="68.06" cy="272.61" r="0.42" fill="#4a4a4a"/>
<circle cx="59.46" cy="281.35" r="0.42" fill="#4a4a4a"/>
<circle cx="60.44" cy="280.75" r="0.42" fill="#4a4a4a"/>
<circle cx="41.2" cy="261.41" r="0.42" fill="#4a4a4a"/>
<circle cx="64.76" cy="266.33" r="0.42" fill="#4a4a4a"/>
<circle cx="46.71" cy="261.77" r="0.42" fill="#4a4a4a"/>
<circle cx="71.93" cy="281.72" r="0.42" fill="#4a4a4a"/>
<circle cx="74.2" cy="266.56" r="0.42" fill="#4a4a4a"/>
<circle cx="58.01" cy="264.74" r="0.42" fill="#4a4a4a"/>
<circle cx="66.43" cy="289.3" r="0.42" fill="#4a4a4a"/>
<circle cx="48.21" cy="289.04" r="0.42" fill="#4a4a4a"/>
<circle cx="68.87" cy="273.4" r="0.42" fill="#4a4a4a"/>
<circle cx="36.31" cy="287.66" r="0.42" fill="#4a4a4a"/>
<circle cx="56.94" cy="269.57" r="0.42" fill="#4a4a4a"/>
<circle cx="62.4" cy="278.69" r="0.42" fill="#4a4a4a"/>
<circle cx="74.48" cy="265.82" r="0.42" fill="#4a4a4a"/>
<circle cx="70.5" cy="288.39" r="0.42" fill="#4a4a4a"/>
<circle cx="73.97" cy="273.37" r="0.42" fill="#4a4a4a"/>
<circle cx="49.82" cy="284.17" r="0.42" fill="#4a4a4a"/>
<circle cx="59.27" cy="276.12" r="0.42" fill="#4a4a4a"/>
<circle cx="73.67" cy="272.63" r="0.42" fill="#4a4a4a"/>
<circle cx="32.74" cy="271.52" r="0.42" fill="#4a4a4a"/>
<circle cx="37.61" cy="282.37" r="0.42" fill="#4a4a4a"/>
<circle cx="61.49" cy="269.5" r="0.42" fill="#4a4a4a"/>
<circle cx="57.89" cy="282.49" r="0.42" fill="#4a4a4a"/>
<circle cx="58.87" cy="286.94" r="0.42" fill="#4a4a4a"/>
<circle cx="57.33" cy="284.36" r="0.42" fill="#4a4a4a"/>
<circle cx="74.41" cy="289.49" r="0.42" fill="#4a4a4a"/>
<circle cx="50.61" cy="282.92" r="0.42" fill="#4a4a4a"/>
<circle cx="37.36" cy="265.25" r="0.42" fill="#4a4a4a"/>
<circle cx="36.41" cy="284.62" r="0.42" fill="#4a4a4a"/>
<circle cx="44.45" cy="274.89" r="0.42" fill="#4a4a4a"/>
<circle cx="55.89" cy="274.74" r="0.42" fill="#4a4a4a"/>
<circle cx="51.49" cy="277.1" r="0.42" fill="#4a4a4a"/>
<circle cx="77.7" cy="275.4" r="0.42" fill="#4a4a4a"/>
<circle cx="63.84" cy="284" r="0.42" fill="#4a4a4a"/>
<circle cx="55.82" cy="263.66" r="0.42" fill="#4a4a4a"/>
<circle cx="51.89" cy="284.66" r="0.42" fill="#4a4a4a"/>
<circle cx="39.89" cy="269.62" r="0.42" fill="#4a4a4a"/>
<circle cx="69.08" cy="282.13" r="0.42" fill="#4a4a4a"/>
<circle cx="58.08" cy="282.25" r="0.42" fill="#4a4a4a"/>
<circle cx="59.83" cy="264.39" r="0.42" fill="#4a4a4a"/>
<circle cx="40.8" cy="269.25" r="0.42" fill="#4a4a4a"/>
<circle cx="68.15" cy="269.91" r="0.42" fill="#4a4a4a"/>
<circle cx="48.07" cy="268.06" r="0.42" fill="#4a4a4a"/>
<circle cx="41.15" cy="273.94" r="0.42" fill="#4a4a4a"/>
<circle cx="45.02" cy="278.28" r="0.42" fill="#4a4a4a"/>
<circle cx="32.04" cy="277.95" r="0.42" fill="#4a4a4a"/>
<circle cx="50.94" cy="257.52" r="0.42" fill="#4a4a4a"/>
<circle cx="65.97" cy="272.52" r="0.42" fill="#4a4a4a"/>
<circle cx="33.47" cy="267.12" r="0.42" fill="#4a4a4a"/>
<circle cx="61.2" cy="270.87" r="0.42" fill="#4a4a4a"/>
<circle cx="66.58" cy="281.73" r="0.42" fill="#4a4a4a"/>
<circle cx="65.33" cy="277.94" r="0.42" fill="#4a4a4a"/>
<circle cx="72.67" cy="280.94" r="0.42" fill="#4a4a4a"/>
<circle cx="62.96" cy="256.24" r="0.42" fill="#4a4a4a"/>
<circle cx="67.86" cy="286.78" r="0.42" fill="#4a4a4a"/>
<circle cx="54.73" cy="270.77" r="0.42" fill="#4a4a4a"/>
<circle cx="79.34" cy="259.18" r="0.42" fill="#4a4a4a"/>
<circle cx="63.16" cy="296.81" r="0.42" fill="#4a4a4a"/>
<circle cx="47.8" cy="281.21" r="0.42" fill="#4a4a4a"/>
<circle cx="78.75" cy="273.92" r="0.42" fill="#4a4a4a"/>
<circle cx="64.17" cy="283.12" r="0.42" fill="#4a4a4a"/>
<circle cx="48.04" cy="274.2" r="0.42" fill="#4a4a4a"/>
<circle cx="61.22" cy="282.43" r="0.42" fill="#4a4a4a"/>
<circle cx="57.62" cy="273.24" r="0.42" fill="#4a4a4a"/>
<circle cx="46.82" cy="271.77" r="0.42" fill="#4a4a4a"/>
<circle cx="67.81" cy="275.92" r="0.42" fill="#4a4a4a"/>
<circle cx="48.62" cy="267.43" r="0.42" fill="#4a4a4a"/>
<circle cx="87.33" cy="285.26" r="0.42" fill="#4a4a4a"/>
<circle cx="65.01" cy="251.66" r="0.42" fill="#4a4a4a"/>
<circle cx="64.84" cy="279.33" r="0.42" fill="#4a4a4a"/>
<circle cx="76.53" cy="278.85" r="0.42" fill="#4a4a4a"/>
<circle cx="57.26" cy="279.7" r="0.42" fill="#4a4a4a"/>
<circle cx="36.61" cy="284.3" r="0.42" fill="#4a4a4a"/>
<circle cx="61.57" cy="268.68" r="0.42" fill="#4a4a4a"/>
<circle cx="72.58" cy="291.28" r="0.42" fill="#4a4a4a"/>
<circle cx="42.57" cy="269" r="0.42" fill="#4a4a4a"/>
<circle cx="61.2" cy="276.65" r="0.42" fill="#4a4a4a"/>
<circle cx="53.62" cy="266.23" r="0.42" fill="#4a4a4a"/>
<circle cx="81.33" cy="284.34" r="0.42" fill="#4a4a4a"/>
<circle cx="44.86" cy="262.89" r="0.42" fill="#4a4a4a"/>
<circle cx="76.73" cy="283.9" r="0.42" fill="#4a4a4a"/>
<circle cx="78.03" cy="282.29" r="0.42" fill="#4a4a4a"/>
<circle cx="48.41" cy="277.35" r="0.42" fill="#4a4a4a"/>
<circle cx="34.24" cy="268.27" r="0.42" fill="#4a4a4a"/>
<circle cx="57.35" cy="279.7" r="0.42" fill="#4a4a4a"/>
<circle cx="50" cy="273.88" r="0.42" fill="#4a4a4a"/>
<circle cx="63.04" cy="278.39" r="0.42" fill="#4a4a4a"/>
<circle cx="65.02" cy="276.88" r="0.42" fill="#4a4a4a"/>
<circle cx="54.44" cy="282.1" r="0.42" fill="#4a4a4a"/>
<circle cx="58.54" cy="267.57" r="0.42" fill="#4a4a4a"/>
<circle cx="51.11" cy="275" r="0.42" fill="#4a4a4a"/>
<circle cx="56.79" cy="276.41" r="0.42" fill="#4a4a4a"/>
<circle cx="57.99" cy="276.58" r="0.42" fill="#4a4a4a"/>
<circle cx="56.52" cy="263.67" r="0.42" fill="#4a4a4a"/>
<circle cx="62.63" cy="284.48" r="0.42" fill="#4a4a4a"/>
<circle cx="62.78" cy="273.3" r="0.42" fill="#4a4a4a"/>
<circle cx="62.91" cy="266.31" r="0.42" fill="#4a4a4a"/>
<circle cx="37.14" cy="275.54" r="0.42" fill="#4a4a4a"/>
<circle cx="47.76" cy="281.66" r="0.42" fill="#4a4a4a"/>
<circle cx="46.08" cy="251.34" r="0.42" fill="#4a4a4a"/>
<circle cx="46.57" cy="289.2" r="0.42" fill="#4a4a4a"/>
<circle cx="53.8" cy="262.68" r="0.42" fill="#4a4a4a"/>
<circle cx="49.6" cy="279.69" r="0.42" fill="#4a4a4a"/>
<circle cx="63.47" cy="276.59" r="0.42" fill="#4a4a4a"/>
<circle cx="74.32" cy="281.36" r="0.42" fill="#4a4a4a"/>
<circle cx="57.77" cy="280.37" r="0.42" fill="#4a4a4a"/>
<circle cx="76.2" cy="283.74" r="0.42" fill="#4a4a4a"/>
<circle cx="69.26" cy="265.25" r="0.42" fill="#4a4a4a"/>
<circle cx="56.37" cy="281.57" r="0.42" fill="#4a4a4a"/>
<circle cx="54.74" cy="284.62" r="0.42" fill="#4a4a4a"/>
<circle cx="64.56" cy="283.17" r="0.42" fill="#4a4a4a"/>
<circle cx="55.66" cy="297.92" r="0.42" fill="#4a4a4a"/>
<circle cx="71.64" cy="273.06" r="0.42" fill="#4a4a4a"/>
<circle cx="59" cy="298.36" r="0.42" fill="#4a4a4a"/>
<circle cx="54.22" cy="282.87" r="0.42" fill="#4a4a4a"/>
<circle cx="68.78" cy="275.06" r="0.42" fill="#4a4a4a"/>
<circle cx="45.16" cy="276.69" r="0.42" fill="#4a4a4a"/>
<circle cx="61.95" cy="285.17" r="0.42" fill="#4a4a4a"/>
<circle cx="66.61" cy="275.22" r="0.42" fill="#4a4a4a"/>
<circle cx="67.39" cy="279.86" r="0.42" fill="#4a4a4a"/>
<circle cx="60.27" cy="275.5" r="0.42" fill="#4a4a4a"/>
<circle cx="55.32" cy="281.18" r="0.42" fill="#4a4a4a"/>
<circle cx="46.4" cy="269.34" r="0.42" fill="#4a4a4a"/>
<circle cx="58.05" cy="261.82" r="0.42" fill="#4a4a4a"/>
<circle cx="53.21" cy="256.92" r="0.42" fill="#4a4a4a"/>
<circle cx="50.49" cy="280.12" r="0.42" fill="#4a4a4a"/>
<circle cx="64.23" cy="274.51" r="0.42" fill="#4a4a4a"/>
<circle cx="55.45" cy="262.25" r="0.42" fill="#4a4a4a"/>
<circle cx="78.11" cy="279.64" r="0.42" fill="#4a4a4a"/>
<circle cx="70.03" cy="267.06" r="0.42" fill="#4a4a4a"/>
<circle cx="55.96" cy="258.62" r="0.42" fill="#4a4a4a"/>
<circle cx="66.59" cy="283.42" r="0.42" fill="#4a4a4a"/>
<circle cx="37.13" cy="274.53" r="0.42" fill="#4a4a4a"/>
<circle cx="64.93" cy="259.14" r="0.42" fill="#4a4a4a"/>
<circle cx="37.92" cy="265.41" r="0.42" fill="#4a4a4a"/>
<circle cx="51.08" cy="262.37" r="0.42" fill="#4a4a4a"/>
<circle cx="58.35" cy="277.25" r="0.42" fill="#4a4a4a"/>
<circle cx="64.97" cy="281.32" r="0.42" fill="#4a4a4a"/>
<circle cx="74.53" cy="285.48" r="0.42" fill="#4a4a4a"/>
<circle cx="43.57" cy="270.45" r="0.42" fill="#4a4a4a"/>
<circle cx="46.34" cy="265.31" r="0.42" fill="#4a4a4a"/>
<circle cx="57.11" cy="275.05" r="0.42" fill="#4a4a4a"/>
<circle cx="63.39" cy="260.72" r="0.42" fill="#4a4a4a"/>
<circle cx="44.39" cy="274.79" r="0.42" fill="#4a4a4a"/>
<circle cx="55.81" cy="272.2" r="0.42" fill="#4a4a4a"/>
<circle cx="57.3" cy="268.16" r="0.42" fill="#4a4a4a"/>
<circle cx="65.71" cy="278.19" r="0.42" fill="#4a4a4a"/>
<circle cx="57.03" cy="268.95" r="0.42" fill="#4a4a4a"/>
<circle cx="56.08" cy="250.51" r="0.42" fill="#4a4a4a"/>
<circle cx="47.21" cy="275.34" r="0.42" fill="#4a4a4a"/>
<circle cx="41.45" cy="276.8" r="0.42" fill="#4a4a4a"/>
<circle cx="59.62" cy="262.6" r="0.42" fill="#4a4a4a"/>
<circle cx="55.24" cy="272.18" r="0.42" fill="#4a4a4a"/>
<circle cx="63.06" cy="280.51" r="0.42" fill="#4a4a4a"/>
<circle cx="57.6" cy="267.34" r="0.42" fill="#4a4a4a"/>
<circle cx="56.41" cy="274.41" r="0.42" fill="#4a4a4a"/>
<circle cx="66.08" cy="277.65" r="0.42" fill="#4a4a4a"/>
<circle cx="50.05" cy="262.81" r="0.42" fill="#4a4a4a"/>
<circle cx="53.9" cy="268.34" r="0.42" fill="#4a4a4a"/>
<circle cx="45.77" cy="273.96" r="0.42" fill="#4a4a4a"/>
<circle cx="52.6" cy="275.95" r="0.42" fill="#4a4a4a"/>
<circle cx="63.76" cy="271.28" r="0.42" fill="#4a4a4a"/>
<circle cx="83.57" cy="272.11" r="0.42" fill="#4a4a4a"/>
<circle cx="70.12" cy="276.09" r="0.42" fill="#4a4a4a"/>
<circle cx="70.28" cy="253.62" r="0.42" fill="#4a4a4a"/>
<circle cx="49.73" cy="277.22" r="0.42" fill="#4a4a4a"/>
<circle cx="64.63" cy="296.03" r="0.42" fill="#4a4a4a"/>
<circle cx="61.55" cy="286.52" r="0.42" fill="#4a4a4a"/>
<circle cx="66.43" cy="283.53" r="0.42" fill="#4a4a4a"/>
<circle cx="63.61" cy="273.6" r="0.42" fill="#4a4a4a"/>
<circle cx="63.6" cy="265.3" r="0.42" fill="#4a4a4a"/>
<circle cx="71" cy="265.85" r="0.42" fill="#4a4a4a"/>
<circle cx="60.74" cy="294.09" r="0.42" fill="#4a4a4a"/>
<circle cx="55.54" cy="275.18" r="0.42" fill="#4a4a4a"/>
<circle cx="70.79" cy="275.24" r="0.42" fill="#4a4a4a"/>
<circle cx="49.12" cy="277.32" r="0.42" fill="#4a4a4a"/>
<circle cx="64.4" cy="281.39" r="0.42" fill="#4a4a4a"/>
<circle cx="49.5" cy="290.77" r="0.42" fill="#4a4a4a"/>
<circle cx="76.33" cy="275.16" r="0.42" fill="#4a4a4a"/>
<circle cx="60.95" cy="271.14" r="0.42" fill="#4a4a4a"/>
<circle cx="73.56" cy="268.66" r="0.42" fill="#4a4a4a"/>
<circle cx="65.42" cy="270.68" r="0.42" fill="#4a4a4a"/>
<circle cx="50.37" cy="281.47" r="0.42" fill="#4a4a4a"/>
<circle cx="72.67" cy="274.91" r="0.42" fill="#4a4a4a"/>
<circle cx="50.55" cy="282.3" r="0.42" fill="#4a4a4a"/>
<circle cx="57.46" cy="277.8" r="0.42" fill="#4a4a4a"/>
<circle cx="74.75" cy="285.18" r="0.42" fill="#4a4a4a"/>
<circle cx="52.28" cy="295.55" r="0.42" fill="#4a4a4a"/>
<circle cx="58.04" cy="282.07" r="0.42" fill="#4a4a4a"/>
<circle cx="50.88" cy="274.6" r="0.42" fill="#4a4a4a"/>
<circle cx="38.75" cy="291.08" r="0.42" fill="#4a4a4a"/>
<circle cx="73.02" cy="264.06" r="0.42" fill="#4a4a4a"/>
<circle cx="41.44" cy="260.41" r="0.42" fill="#4a4a4a"/>
<circle cx="70.93" cy="270.86" r="0.42" fill="#4a4a4a"/>
<circle cx="57.33" cy="272.19" r="0.42" fill="#4a4a4a"/>
<circle cx="56.67" cy="265.21" r="0.42" fill="#4a4a4a"/>
<circle cx="58.27" cy="262.06" r="0.42" fill="#4a4a4a"/>
<circle cx="57.21" cy="277.78" r="0.42" fill="#4a4a4a"/>
<circle cx="63.14" cy="272.91" r="0.42" fill="#4a4a4a"/>
<circle cx="48.06" cy="276.44" r="0.42" fill="#4a4a4a"/>
<circle cx="52.67" cy="289.09" r="0.42" fill="#4a4a4a"/>
<circle cx="66.44" cy="273.96" r="0.42" fill="#4a4a4a"/>
<circle cx="52.82" cy="268.68" r="0.42" fill="#4a4a4a"/>
<circle cx="47.69" cy="271.82" r="0.42" fill="#4a4a4a"/>
<circle cx="61.24" cy="279.64" r="0.42" fill="#4a4a4a"/>
<circle cx="64.26" cy="293.89" r="0.42" fill="#4a4a4a"/>
<circle cx="50.25" cy="275.12" r="0.42" fill="#4a4a4a"/>
<circle cx="88.74" cy="258.2" r="0.42" fill="#4a4a4a"/>
<circle cx="52.26" cy="276.53" r="0.42" fill="#4a4a4a"/>
<circle cx="59.7" cy="278.67" r="0.42" fill="#4a4a4a"/>
<circle cx="55.37" cy="278.3" r="0.42" fill="#4a4a4a"/>
<circle cx="58.58" cy="281.94" r="0.42" fill="#4a4a4a"/>
<circle cx="37.18" cy="267.03" r="0.42" fill="#4a4a4a"/>
<circle cx="57.98" cy="265.71" r="0.42" fill="#4a4a4a"/>
<circle cx="46.51" cy="280.65" r="0.42" fill="#4a4a4a"/>
<circle cx="50.85" cy="280.71" r="0.42" fill="#4a4a4a"/>
<circle cx="66.2" cy="277.76" r="0.42" fill="#4a4a4a"/>
<circle cx="63.59" cy="274.06" r="0.42" fill="#4a4a4a"/>
<circle cx="42.5" cy="274.73" r="0.42" fill="#4a4a4a"/>
<circle cx="63" cy="270.24" r="0.42" fill="#4a4a4a"/>
<circle cx="56.91" cy="281.74" r="0.42" fill="#4a4a4a"/>
<circle cx="48.34" cy="280.76" r="0.42" fill="#4a4a4a"/>
<circle cx="78.49" cy="270.01" r="0.42" fill="#4a4a4a"/>
<circle cx="59.61" cy="273.65" r="0.42" fill="#4a4a4a"/>
<circle cx="74.94" cy="277.85" r="0.42" fill="#4a4a4a"/>
<circle cx="67.88" cy="268.79" r="0.42" fill="#4a4a4a"/>
<circle cx="57.82" cy="274.91" r="0.42" fill="#4a4a4a"/>
<circle cx="38.46" cy="287.97" r="0.42" fill="#4a4a4a"/>
<circle cx="67.89" cy="259.26" r="0.42" fill="#4a4a4a"/>
<circle cx="66.19" cy="273.82" r="0.42" fill="#4a4a4a"/>
<circle cx="62.93" cy="278.3" r="0.42" fill="#4a4a4a"/>
<circle cx="41.51" cy="273.09" r="0.42" fill="#4a4a4a"/>
<circle cx="74.42" cy="269.83" r="0.42" fill="#4a4a4a"/>
<circle cx="46.75" cy="262.76" r="0.42" fill="#4a4a4a"/>
<circle cx="44.57" cy="278.02" r="0.42" fill="#4a4a4a"/>
<circle cx="76.62" cy="278.86" r="0.42" fill="#4a4a4a"/>
<circle cx="60.7" cy="295.1" r="0.42" fill="#4a4a4a"/>
<circle cx="52.29" cy="268.93" r="0.42" fill="#4a4a4a"/>
<circle cx="63.81" cy="279.94" r="0.42" fill="#4a4a4a"/>
<circle cx="46.84" cy="264.47" r="0.42" fill="#4a4a4a"/>
<circle cx="61.2" cy="277.23" r="0.42" fill="#4a4a4a"/>
<circle cx="43.62" cy="273.18" r="0.42" fill="#4a4a4a"/>
<circle cx="52.03" cy="279.14" r="0.42" fill="#4a4a4a"/>
<circle cx="56.72" cy="274.23" r="0.42" fill="#4a4a4a"/>
<circle cx="54.11" cy="284.48" r="0.42" fill="#4a4a4a"/>
<circle cx="73.3" cy="271.7" r="0.42" fill="#4a4a4a"/>
<circle cx="67.31" cy="268.18" r="0.42" fill="#4a4a4a"/>
<circle cx="58.79" cy="281.75" r="0.42" fill="#4a4a4a"/>
<circle cx="74.66" cy="271.56" r="0.42" fill="#4a4a4a"/>
<circle cx="57.19" cy="276.77" r="0.42" fill="#4a4a4a"/>
<circle cx="41.52" cy="275.14" r="0.42" fill="#4a4a4a"/>
<circle cx="50.57" cy="278.34" r="0.42" fill="#4a4a4a"/>
<circle cx="45.57" cy="257.21" r="0.42" fill="#4a4a4a"/>
<circle cx="58.42" cy="277.35" r="0.42" fill="#4a4a4a"/>
<circle cx="51.96" cy="283" r="0.42" fill="#4a4a4a"/>
<circle cx="55" cy="269.55" r="0.42" fill="#4a4a4a"/>
<circle cx="63.26" cy="260.89" r="0.42" fill="#4a4a4a"/>
<circle cx="50.55" cy="274.81" r="0.42" fill="#4a4a4a"/>
<circle cx="67.34" cy="273.54" r="0.42" fill="#4a4a4a"/>
<circle cx="61.39" cy="269.1" r="0.42" fill="#4a4a4a"/>
<circle cx="61.32" cy="289.97" r="0.42" fill="#4a4a4a"/>
<circle cx="50.45" cy="296.3" r="0.42" fill="#4a4a4a"/>
<circle cx="50.92" cy="275.15" r="0.42" fill="#4a4a4a"/>
<circle cx="59.91" cy="284.22" r="0.42" fill="#4a4a4a"/>
<circle cx="44.39" cy="256.1" r="0.42" fill="#4a4a4a"/>
<circle cx="64.67" cy="282.16" r="0.42" fill="#4a4a4a"/>
<circle cx="60.25" cy="277.29" r="0.42" fill="#4a4a4a"/>
<circle cx="68.22" cy="278.32" r="0.42" fill="#4a4a4a"/>
<circle cx="76.3" cy="263.86" r="0.42" fill="#4a4a4a"/>
<circle cx="53.87" cy="244" r="0.42" fill="#4a4a4a"/>
<circle cx="66.94" cy="271.65" r="0.42" fill="#4a4a4a"/>
<circle cx="68.16" cy="294.39" r="0.42" fill="#4a4a4a"/>
<circle cx="57.94" cy="272.71" r="0.42" fill="#4a4a4a"/>
<circle cx="52.5" cy="267.46" r="0.42" fill="#4a4a4a"/>
<circle cx="51.07" cy="280.75" r="0.42" fill="#4a4a4a"/>
<circle cx="58.41" cy="275.6" r="0.42" fill="#4a4a4a"/>
<circle cx="56.09" cy="283.23" r="0.42" fill="#4a4a4a"/>
<circle cx="63.43" cy="273.72" r="0.42" fill="#4a4a4a"/>
<circle cx="65.31" cy="273.63" r="0.42" fill="#4a4a4a"/>
<circle cx="45.32" cy="288.1" r="0.42" fill="#4a4a4a"/>
<circle cx="63.12" cy="266.38" r="0.42" fill="#4a4a4a"/>
<circle cx="69.87" cy="278.1" r="0.42" fill="#4a4a4a"/>
<circle cx="40.79" cy="289.49" r="0.42" fill="#4a4a4a"/>
<circle cx="61.67" cy="283.02" r="0.42" fill="#4a4a4a"/>
<circle cx="60.18" cy="273.65" r="0.42" fill="#4a4a4a"/>
<circle cx="40.97" cy="283.74" r="0.42" fill="#4a4a4a"/>
<circle cx="58.33" cy="272.42" r="0.42" fill="#4a4a4a"/>
<circle cx="61.86" cy="275.7" r="0.42" fill="#4a4a4a"/>
<circle cx="65.43" cy="271.66" r="0.42" fill="#4a4a4a"/>
<circle cx="57.6" cy="255.75" r="0.42" fill="#4a4a4a"/>
<circle cx="53.34" cy="281.08" r="0.42" fill="#4a4a4a"/>
<circle cx="72.7" cy="271.72" r="0.42" fill="#4a4a4a"/>
<circle cx="56.67" cy="289.25" r="0.42" fill="#4a4a4a"/>
<circle cx="54.42" cy="281.61" r="0.42" fill="#4a4a4a"/>
<circle cx="76.46" cy="275.36" r="0.42" fill="#4a4a4a"/>
<circle cx="71.5" cy="268.61" r="0.42" fill="#4a4a4a"/>
<circle cx="60.28" cy="274.3" r="0.42" fill="#4a4a4a"/>
<circle cx="59.26" cy="285.17" r="0.42" fill="#4a4a4a"/>
<circle cx="84.29" cy="269.01" r="0.42" fill="#4a4a4a"/>
<circle cx="51.67" cy="279.48" r="0.42" fill="#4a4a4a"/>
<circle cx="46.39" cy="279.47" r="0.42" fill="#4a4a4a"/>
<circle cx="64.29" cy="272.5" r="0.42" fill="#4a4a4a"/>
<circle cx="63.84" cy="261.06" r="0.42" fill="#4a4a4a"/>
<circle cx="66.36" cy="261.1" r="0.42" fill="#4a4a4a"/>
<circle cx="50.34" cy="269.99" r="0.42" fill="#4a4a4a"/>
<circle cx="53.59" cy="282.73" r="0.42" fill="#4a4a4a"/>
<circle cx="58.9" cy="271.42" r="0.42" fill="#4a4a4a"/>
<circle cx="63.98" cy="289.23" r="0.42" fill="#4a4a4a"/>
<circle cx="58.07" cy="278.29" r="0.42" fill="#4a4a4a"/>
<circle cx="71.64" cy="277.41" r="0.42" fill="#4a4a4a"/>
<circle cx="43.88" cy="297.41" r="0.42" fill="#4a4a4a"/>
<circle cx="82.29" cy="257.14" r="0.42" fill="#4a4a4a"/>
<circle cx="57.57" cy="278.76" r="0.42" fill="#4a4a4a"/>
<circle cx="68.62" cy="281.02" r="0.42" fill="#4a4a4a"/>
<circle cx="55.01" cy="265.52" r="0.42" fill="#4a4a4a"/>
<circle cx="59.13" cy="284.3" r="0.42" fill="#4a4a4a"/>
<circle cx="46.01" cy="265.76" r="0.42" fill="#4a4a4a"/>
<circle cx="57.73" cy="257.56" r="0.42" fill="#4a4a4a"/>
<circle cx="55.14" cy="271.07" r="0.42" fill="#4a4a4a"/>
<circle cx="62.96" cy="268.68" r="0.42" fill="#4a4a4a"/>
<circle cx="48.3" cy="271.45" r="0.42" fill="#4a4a4a"/>
<circle cx="57.45" cy="269.02" r="0.42" fill="#4a4a4a"/>
<circle cx="58.13" cy="281.75" r="0.42" fill="#4a4a4a"/>
<circle cx="71.04" cy="290.34" r="0.42" fill="#4a4a4a"/>
<circle cx="49.38" cy="271.22" r="0.42" fill="#4a4a4a"/>
<circle cx="30.69" cy="292.09" r="0.42" fill="#4a4a4a"/>
<circle cx="50.03" cy="274.7" r="0.42" fill="#4a4a4a"/>
<circle cx="63.75" cy="262.77" r="0.42" fill="#4a4a4a"/>
<circle cx="63.1" cy="274.76" r="0.42" fill="#4a4a4a"/>
<circle cx="37.91" cy="277.63" r="0.42" fill="#4a4a4a"/>
<circle cx="71.14" cy="258.19" r="0.42" fill="#4a4a4a"/>
<circle cx="66.88" cy="276.88" r="0.42" fill="#4a4a4a"/>
<circle cx="63.22" cy="278.97" r="0.42" fill="#4a4a4a"/>
<circle cx="72.34" cy="272.99" r="0.42" fill="#4a4a4a"/>
<circle cx="67.61" cy="271.31" r="0.42" fill="#4a4a4a"/>
<circle cx="66.01" cy="267.67" r="0.42" fill="#4a4a4a"/>
<circle cx="56.81" cy="290.58" r="0.42" fill="#4a4a4a"/>
<circle cx="62.9" cy="273.58" r="0.42" fill="#4a4a4a"/>
<circle cx="45.41" cy="267.89" r="0.42" fill="#4a4a4a"/>
<circle cx="60.13" cy="283.45" r="0.42" fill="#4a4a4a"/>
<circle cx="62.69" cy="279.72" r="0.42" fill="#4a4a4a"/>
<circle cx="57.54" cy="287.17" r="0.42" fill="#4a4a4a"/>
<circle cx="53.7" cy="270.05" r="0.42" fill="#4a4a4a"/>
<circle cx="67.77" cy="275.57" r="0.42" fill="#4a4a4a"/>
<circle cx="54.94" cy="269.82" r="0.42" fill="#4a4a4a"/>
<circle cx="55.17" cy="280.61" r="0.42" fill="#4a4a4a"/>
<circle cx="61.89" cy="264.11" r="0.42" fill="#4a4a4a"/>
<circle cx="62.69" cy="276.61" r="0.42" fill="#4a4a4a"/>
<circle cx="47" cy="281.96" r="0.42" fill="#4a4a4a"/>
<circle cx="54.92" cy="271.98" r="0.42" fill="#4a4a4a"/>
<circle cx="66.75" cy="286.89" r="0.42" fill="#4a4a4a"/>
<circle cx="50.43" cy="278.94" r="0.42" fill="#4a4a4a"/>
<circle cx="48.36" cy="295.83" r="0.42" fill="#4a4a4a"/>
<circle cx="52.57" cy="285.75" r="0.42" fill="#4a4a4a"/>
<circle cx="50.88" cy="282.3" r="0.42" fill="#4a4a4a"/>
<circle cx="82.41" cy="252.13" r="0.42" fill="#4a4a4a"/>
<circle cx="53.22" cy="279.5" r="0.42" fill="#4a4a4a"/>
<circle cx="56.98" cy="268.98" r="0.42" fill="#4a4a4a"/>
<circle cx="81.67" cy="275.72" r="0.42" fill="#4a4a4a"/>
<circle cx="39.91" cy="282.69" r="0.42" fill="#4a4a4a"/>
<circle cx="39.06" cy="285.36" r="0.42" fill="#4a4a4a"/>
<circle cx="51.64" cy="276.3" r="0.42" fill="#4a4a4a"/>
<circle cx="71.87" cy="276.06" r="0.42" fill="#4a4a4a"/>
<circle cx="42.7" cy="259.74" r="0.42" fill="#4a4a4a"/>
<circle cx="74.64" cy="259.07" r="0.42" fill="#333"/>
<circle cx="56.66" cy="259.73" r="0.42" fill="#333"/>
<circle cx="68.47" cy="258.56" r="0.42" fill="#333"/>
<circle cx="43.67" cy="253.34" r="0.42" fill="#333"/>
<circle cx="72.1" cy="259.03" r="0.42" fill="#333"/>
<circle cx="71.93" cy="241.49" r="0.42" fill="#333"/>
<circle cx="65.52" cy="257.71" r="0.42" fill="#333"/>
<circle cx="86.97" cy="249.75" r="0.42" fill="#333"/>
<circle cx="61.04" cy="255.2" r="0.42" fill="#333"/>
<circle cx="71.97" cy="252.56" r="0.42" fill="#333"/>
<circle cx="74.33" cy="250.67" r="0.42" fill="#333"/>
<circle cx="66.4" cy="252.1" r="0.42" fill="#333"/>
<circle cx="65.42" cy="251.2" r="0.42" fill="#333"/>
<circle cx="49.62" cy="261.01" r="0.42" fill="#333"/>
<circle cx="66.73" cy="251.93" r="0.42" fill="#333"/>
<circle cx="65.81" cy="260.45" r="0.42" fill="#333"/>
<circle cx="55.2" cy="254.39" r="0.42" fill="#333"/>
<circle cx="68.85" cy="257.89" r="0.42" fill="#333"/>
<circle cx="60.98" cy="243.41" r="0.42" fill="#333"/>
<circle cx="75.19" cy="256.81" r="0.42" fill="#333"/>
<circle cx="64.12" cy="253.47" r="0.42" fill="#333"/>
<circle cx="66.37" cy="252.66" r="0.42" fill="#333"/>
<circle cx="54.78" cy="250.93" r="0.42" fill="#333"/>
<circle cx="58.63" cy="251.63" r="0.42" fill="#333"/>
<circle cx="53.57" cy="258.5" r="0.42" fill="#333"/>
<circle cx="52.21" cy="258.63" r="0.42" fill="#333"/>
<circle cx="54.87" cy="256.94" r="0.42" fill="#333"/>
<circle cx="76.37" cy="256.12" r="0.42" fill="#333"/>
<circle cx="57.42" cy="255.27" r="0.42" fill="#333"/>
<circle cx="65.33" cy="245.46" r="0.42" fill="#333"/>
<circle cx="58.53" cy="255.9" r="0.42" fill="#333"/>
<circle cx="59.78" cy="255.44" r="0.42" fill="#333"/>
<circle cx="70.61" cy="259.22" r="0.42" fill="#333"/>
<circle cx="72.15" cy="258.24" r="0.42" fill="#333"/>
<circle cx="61.41" cy="254.9" r="0.42" fill="#333"/>
<circle cx="61.56" cy="253.28" r="0.42" fill="#333"/>
<circle cx="62.38" cy="245.51" r="0.42" fill="#333"/>
<circle cx="61" cy="254.87" r="0.42" fill="#333"/>
<circle cx="55.23" cy="254.87" r="0.42" fill="#333"/>
<circle cx="68.64" cy="254.1" r="0.42" fill="#333"/>
<circle cx="82.69" cy="240.66" r="0.42" fill="#333"/>
<circle cx="62.14" cy="244.96" r="0.42" fill="#333"/>
<circle cx="72.82" cy="269.6" r="0.42" fill="#333"/>
<circle cx="41.48" cy="255.7" r="0.42" fill="#333"/>
<circle cx="68.67" cy="253.34" r="0.42" fill="#333"/>
<circle cx="68.96" cy="242.66" r="0.42" fill="#333"/>
<circle cx="71.67" cy="257.05" r="0.42" fill="#333"/>
<circle cx="64.21" cy="251.77" r="0.42" fill="#333"/>
<circle cx="69.75" cy="252.33" r="0.42" fill="#333"/>
<circle cx="66.01" cy="252.19" r="0.42" fill="#333"/>
<circle cx="43.78" cy="254.83" r="0.42" fill="#333"/>
<circle cx="65.82" cy="259.15" r="0.42" fill="#333"/>
<circle cx="56.12" cy="254.82" r="0.42" fill="#333"/>
<circle cx="69.55" cy="255.8" r="0.42" fill="#333"/>
<circle cx="75.18" cy="265.95" r="0.42" fill="#333"/>
<circle cx="55.82" cy="244.44" r="0.42" fill="#333"/>
<circle cx="71.71" cy="263.41" r="0.42" fill="#333"/>
<circle cx="72.3" cy="259.48" r="0.42" fill="#333"/>
<circle cx="58.43" cy="251.08" r="0.42" fill="#333"/>
<circle cx="72" cy="249.99" r="0.42" fill="#333"/>
<circle cx="47.68" cy="249.51" r="0.42" fill="#333"/>
<circle cx="86.43" cy="265.58" r="0.42" fill="#333"/>
<circle cx="57.82" cy="250.99" r="0.42" fill="#333"/>
<circle cx="66.08" cy="250.88" r="0.42" fill="#333"/>
<circle cx="75.79" cy="254.57" r="0.42" fill="#333"/>
<circle cx="54.22" cy="262.2" r="0.42" fill="#333"/>
<circle cx="58.75" cy="256.22" r="0.42" fill="#333"/>
<circle cx="63.89" cy="253.27" r="0.42" fill="#333"/>
<circle cx="66.92" cy="251.19" r="0.42" fill="#333"/>
<circle cx="47.4" cy="242.86" r="0.42" fill="#333"/>
<circle cx="52.6" cy="250.83" r="0.42" fill="#333"/>
<circle cx="63.79" cy="255.3" r="0.42" fill="#333"/>
<circle cx="69" cy="255.66" r="0.42" fill="#333"/>
<circle cx="56.86" cy="251.1" r="0.42" fill="#333"/>
<circle cx="44.93" cy="254.07" r="0.42" fill="#333"/>
<circle cx="68.36" cy="257.91" r="0.42" fill="#333"/>
<circle cx="62.91" cy="254.04" r="0.42" fill="#333"/>
<circle cx="72.43" cy="255.08" r="0.42" fill="#333"/>
<circle cx="70.64" cy="258.2" r="0.42" fill="#333"/>
<circle cx="65.92" cy="262.19" r="0.42" fill="#333"/>
<circle cx="58.85" cy="253.03" r="0.42" fill="#333"/>
<circle cx="56.73" cy="250.62" r="0.42" fill="#333"/>
<circle cx="78" cy="264.68" r="0.42" fill="#333"/>
<circle cx="64.21" cy="258.13" r="0.42" fill="#333"/>
<circle cx="74.58" cy="259.44" r="0.42" fill="#333"/>
<circle cx="74.85" cy="248.05" r="0.42" fill="#333"/>
<circle cx="58.25" cy="257.49" r="0.42" fill="#333"/>
<circle cx="76.92" cy="255.57" r="0.42" fill="#333"/>
<circle cx="56.27" cy="253.05" r="0.42" fill="#333"/>
<circle cx="58.05" cy="250.28" r="0.42" fill="#333"/>
<circle cx="77.51" cy="251.56" r="0.42" fill="#333"/>
<circle cx="64.18" cy="266.89" r="0.42" fill="#333"/>
<circle cx="74.66" cy="256.85" r="0.42" fill="#333"/>
<circle cx="58.49" cy="257.26" r="0.42" fill="#333"/>
<circle cx="78.6" cy="258.43" r="0.42" fill="#333"/>
<circle cx="75.35" cy="255.54" r="0.42" fill="#333"/>
<circle cx="68.65" cy="253.89" r="0.42" fill="#333"/>
<circle cx="67.84" cy="262.15" r="0.42" fill="#333"/>
<circle cx="51.12" cy="254.66" r="0.42" fill="#333"/>
<circle cx="66.16" cy="251.86" r="0.42" fill="#333"/>
<circle cx="61.23" cy="259.33" r="0.42" fill="#333"/>
<circle cx="82.01" cy="258.46" r="0.42" fill="#333"/>
<circle cx="66.94" cy="246.47" r="0.42" fill="#333"/>
<circle cx="81.35" cy="255.42" r="0.42" fill="#333"/>
<circle cx="63.7" cy="248.85" r="0.42" fill="#333"/>
<circle cx="63.49" cy="248.97" r="0.42" fill="#333"/>
<circle cx="64.64" cy="257.56" r="0.42" fill="#333"/>
<circle cx="64.28" cy="256.54" r="0.42" fill="#333"/>
<circle cx="56.33" cy="262.86" r="0.42" fill="#333"/>
<circle cx="58.12" cy="245" r="0.42" fill="#333"/>
<circle cx="62.31" cy="250.8" r="0.42" fill="#333"/>
<circle cx="54.91" cy="253.05" r="0.42" fill="#333"/>
<circle cx="66.62" cy="248.5" r="0.42" fill="#333"/>
<circle cx="62.76" cy="262.85" r="0.42" fill="#333"/>
<circle cx="70.14" cy="254.16" r="0.42" fill="#333"/>
<circle cx="65.15" cy="254.34" r="0.42" fill="#333"/>
<circle cx="63.57" cy="259.03" r="0.42" fill="#333"/>
<circle cx="63.17" cy="241.78" r="0.42" fill="#333"/>
<circle cx="63.81" cy="250.11" r="0.42" fill="#333"/>
<circle cx="69.86" cy="251.64" r="0.42" fill="#333"/>
<circle cx="65.34" cy="266.98" r="0.42" fill="#333"/>
<circle cx="54.58" cy="248.81" r="0.42" fill="#333"/>
<circle cx="51.3" cy="241.83" r="0.42" fill="#333"/>
<circle cx="47.09" cy="257" r="0.42" fill="#333"/>
<circle cx="58.26" cy="244.73" r="0.42" fill="#333"/>
<circle cx="50.66" cy="258.39" r="0.42" fill="#333"/>
<circle cx="57.02" cy="252.98" r="0.42" fill="#333"/>
<circle cx="66.97" cy="262.46" r="0.42" fill="#333"/>
<circle cx="81.47" cy="260.68" r="0.42" fill="#333"/>
<circle cx="65.29" cy="256.01" r="0.42" fill="#333"/>
<circle cx="80.22" cy="262.86" r="0.42" fill="#333"/>
<circle cx="61.21" cy="257.52" r="0.42" fill="#333"/>
<circle cx="66.58" cy="255.29" r="0.42" fill="#333"/>
<circle cx="59.5" cy="247.7" r="0.42" fill="#333"/>
<circle cx="59.19" cy="246.51" r="0.42" fill="#333"/>
<circle cx="75.01" cy="257.95" r="0.42" fill="#333"/>
<circle cx="53.15" cy="262.68" r="0.42" fill="#333"/>
<circle cx="72.03" cy="244.5" r="0.42" fill="#333"/>
<circle cx="80.57" cy="259.45" r="0.42" fill="#333"/>
<circle cx="82.58" cy="248.23" r="0.42" fill="#333"/>
<circle cx="68.78" cy="257.33" r="0.42" fill="#333"/>
<circle cx="65.82" cy="255.94" r="0.42" fill="#333"/>
<circle cx="73.48" cy="246.78" r="0.42" fill="#333"/>
<circle cx="52.82" cy="247.33" r="0.42" fill="#333"/>
<circle cx="58.98" cy="251.67" r="0.42" fill="#333"/>
<circle cx="67.31" cy="256.47" r="0.42" fill="#333"/>
<circle cx="64.28" cy="251.28" r="0.42" fill="#333"/>
<circle cx="60.02" cy="260.24" r="0.42" fill="#333"/>
<circle cx="70.87" cy="255.56" r="0.42" fill="#333"/>
<circle cx="61.1" cy="263.54" r="0.42" fill="#333"/>
<circle cx="58.65" cy="258.57" r="0.42" fill="#333"/>
<circle cx="74.38" cy="253.54" r="0.42" fill="#333"/>
<circle cx="71.43" cy="248.86" r="0.42" fill="#333"/>
<circle cx="73.11" cy="256.1" r="0.42" fill="#333"/>
<circle cx="49.72" cy="258.68" r="0.42" fill="#333"/>
<circle cx="55.97" cy="262.05" r="0.42" fill="#333"/>
<circle cx="57.89" cy="254.09" r="0.42" fill="#333"/>
<circle cx="66.55" cy="253.17" r="0.42" fill="#333"/>
<circle cx="66.34" cy="251.96" r="0.42" fill="#333"/>
<circle cx="70.05" cy="255.03" r="0.42" fill="#333"/>
<circle cx="65.9" cy="239.86" r="0.42" fill="#333"/>
<circle cx="74.45" cy="255.18" r="0.42" fill="#333"/>
<circle cx="47.96" cy="255.53" r="0.42" fill="#333"/>
<circle cx="68.2" cy="260.89" r="0.42" fill="#333"/>
<circle cx="54.26" cy="263.51" r="0.42" fill="#333"/>
<circle cx="62.57" cy="268.17" r="0.42" fill="#333"/>
<circle cx="62.68" cy="258.74" r="0.42" fill="#333"/>
<circle cx="60.7" cy="248.86" r="0.42" fill="#333"/>
<circle cx="73.87" cy="259.98" r="0.42" fill="#333"/>
<circle cx="77.85" cy="259.71" r="0.42" fill="#333"/>
<circle cx="58.84" cy="245.86" r="0.42" fill="#333"/>
<circle cx="58.14" cy="251.29" r="0.42" fill="#333"/>
<circle cx="56.66" cy="258.2" r="0.42" fill="#333"/>
<circle cx="66.95" cy="253.52" r="0.42" fill="#333"/>
<circle cx="65.55" cy="254.2" r="0.42" fill="#333"/>
<circle cx="65.92" cy="259.14" r="0.42" fill="#333"/>
<circle cx="72.64" cy="251.23" r="0.42" fill="#333"/>
<circle cx="50.44" cy="262.85" r="0.42" fill="#333"/>
<circle cx="65.03" cy="261.08" r="0.42" fill="#333"/>
<circle cx="49.21" cy="253.19" r="0.42" fill="#333"/>
<circle cx="64.24" cy="247.07" r="0.42" fill="#333"/>
<circle cx="59.36" cy="258.98" r="0.42" fill="#333"/>
<circle cx="73.71" cy="263.77" r="0.42" fill="#333"/>
<circle cx="56.23" cy="247.29" r="0.42" fill="#333"/>
<circle cx="68.68" cy="260.17" r="0.42" fill="#333"/>
<circle cx="65.74" cy="247.84" r="0.42" fill="#333"/>
<circle cx="71.04" cy="259.36" r="0.42" fill="#333"/>
<circle cx="68.98" cy="252.32" r="0.42" fill="#333"/>
<circle cx="66.74" cy="259.35" r="0.42" fill="#333"/>
<circle cx="58.97" cy="244.86" r="0.42" fill="#333"/>
<circle cx="66.96" cy="257.64" r="0.42" fill="#333"/>
<circle cx="64.12" cy="259.89" r="0.42" fill="#333"/>
<circle cx="58.72" cy="254.55" r="0.42" fill="#333"/>
<circle cx="61.25" cy="258.14" r="0.42" fill="#333"/>
<circle cx="78.36" cy="253.62" r="0.42" fill="#333"/>
<circle cx="82.49" cy="263.41" r="0.42" fill="#333"/>
<circle cx="71.12" cy="258.23" r="0.42" fill="#333"/>
<circle cx="79.94" cy="254.01" r="0.42" fill="#333"/>
<circle cx="62.99" cy="249.16" r="0.42" fill="#333"/>
<circle cx="68.26" cy="262.4" r="0.42" fill="#333"/>
<circle cx="68.79" cy="257.33" r="0.42" fill="#333"/>
<circle cx="62.19" cy="255.93" r="0.42" fill="#333"/>
<circle cx="51.17" cy="260.77" r="0.42" fill="#333"/>
<circle cx="60.31" cy="248.92" r="0.42" fill="#333"/>
<circle cx="57.24" cy="250.46" r="0.42" fill="#333"/>
<circle cx="71.7" cy="260.82" r="0.42" fill="#333"/>
<circle cx="51.78" cy="260.09" r="0.42" fill="#333"/>
<circle cx="71.99" cy="251.81" r="0.42" fill="#333"/>
<circle cx="50.62" cy="250.9" r="0.42" fill="#333"/>
<circle cx="58.3" cy="256.88" r="0.42" fill="#333"/>
<circle cx="60.78" cy="243.84" r="0.42" fill="#333"/>
<circle cx="66.1" cy="246.56" r="0.42" fill="#333"/>
<circle cx="72.15" cy="248.36" r="0.42" fill="#333"/>
<circle cx="57.76" cy="250.3" r="0.42" fill="#333"/>
<circle cx="59.12" cy="262.14" r="0.42" fill="#333"/>
<circle cx="71.67" cy="258.31" r="0.42" fill="#333"/>
<circle cx="66.87" cy="246.49" r="0.42" fill="#333"/>
<circle cx="59.31" cy="251.97" r="0.42" fill="#333"/>
<circle cx="55.2" cy="257.8" r="0.42" fill="#333"/>
<circle cx="57.33" cy="251.1" r="0.42" fill="#333"/>
<circle cx="54.6" cy="243.68" r="0.42" fill="#333"/>
<circle cx="69.36" cy="262.32" r="0.42" fill="#333"/>
<circle cx="65.57" cy="249.63" r="0.42" fill="#333"/>
<circle cx="39.65" cy="255.95" r="0.42" fill="#333"/>
<circle cx="74.95" cy="256.63" r="0.42" fill="#333"/>
<circle cx="72.34" cy="263.13" r="0.42" fill="#333"/>
<circle cx="74.14" cy="252.57" r="0.42" fill="#333"/>
<circle cx="73.47" cy="259.27" r="0.42" fill="#333"/>
<circle cx="50.17" cy="252.77" r="0.42" fill="#333"/>
<circle cx="51.19" cy="254.4" r="0.42" fill="#333"/>
<circle cx="69.2" cy="249.13" r="0.42" fill="#333"/>
<circle cx="45.5" cy="262.14" r="0.42" fill="#333"/>
<circle cx="67.39" cy="263.09" r="0.42" fill="#333"/>
<circle cx="52.09" cy="260.83" r="0.42" fill="#333"/>
<circle cx="82.67" cy="266.04" r="0.42" fill="#333"/>
<circle cx="62.11" cy="256.48" r="0.42" fill="#333"/>
<circle cx="62.61" cy="260.49" r="0.42" fill="#333"/>
<circle cx="73.34" cy="255.48" r="0.42" fill="#333"/>
<circle cx="51.77" cy="259.08" r="0.42" fill="#333"/>
<circle cx="59.77" cy="258.46" r="0.42" fill="#333"/>
<circle cx="66.37" cy="263.93" r="0.42" fill="#333"/>
<circle cx="74.24" cy="252.52" r="0.42" fill="#333"/>
<circle cx="67.14" cy="264.7" r="0.42" fill="#333"/>
<circle cx="59.16" cy="257.38" r="0.42" fill="#333"/>
<circle cx="74.72" cy="261.91" r="0.42" fill="#333"/>
<circle cx="68.67" cy="247.74" r="0.42" fill="#333"/>
<circle cx="52.65" cy="256.36" r="0.42" fill="#333"/>
<circle cx="67.49" cy="269.01" r="0.42" fill="#333"/>
<circle cx="56.25" cy="261.26" r="0.42" fill="#333"/>
<circle cx="70.93" cy="245.81" r="0.42" fill="#333"/>
<circle cx="56.64" cy="255.91" r="0.42" fill="#333"/>
<circle cx="59.56" cy="254.15" r="0.42" fill="#333"/>
<circle cx="68.23" cy="250.55" r="0.42" fill="#333"/>
<circle cx="68.2" cy="251.5" r="0.42" fill="#333"/>
<circle cx="59.1" cy="257.95" r="0.42" fill="#333"/>
<circle cx="58.84" cy="256.58" r="0.42" fill="#333"/>
<circle cx="78.39" cy="255.15" r="0.42" fill="#333"/>
<circle cx="62.69" cy="259.04" r="0.42" fill="#333"/>
<circle cx="60.71" cy="260.96" r="0.42" fill="#333"/>
<circle cx="52.45" cy="258.4" r="0.42" fill="#333"/>
<circle cx="29.9" cy="266.01" r="0.42" fill="#444"/>
<circle cx="48.16" cy="265.5" r="0.42" fill="#444"/>
<circle cx="48.05" cy="280.58" r="0.42" fill="#444"/>
<circle cx="45.62" cy="264.23" r="0.42" fill="#444"/>
<circle cx="43.59" cy="288.57" r="0.42" fill="#444"/>
<circle cx="33.07" cy="272.71" r="0.42" fill="#444"/>
<circle cx="53.65" cy="275.77" r="0.42" fill="#444"/>
<circle cx="30.62" cy="267.7" r="0.42" fill="#444"/>
<circle cx="37.57" cy="277.3" r="0.42" fill="#444"/>
<circle cx="35.42" cy="291.21" r="0.42" fill="#444"/>
<circle cx="31.38" cy="278.73" r="0.42" fill="#444"/>
<circle cx="45.67" cy="263.96" r="0.42" fill="#444"/>
<circle cx="42.31" cy="292.32" r="0.42" fill="#444"/>
<circle cx="23.16" cy="263.02" r="0.42" fill="#444"/>
<circle cx="25.69" cy="255.54" r="0.42" fill="#444"/>
<circle cx="37.62" cy="255.44" r="0.42" fill="#444"/>
<circle cx="37.99" cy="288.53" r="0.42" fill="#444"/>
<circle cx="21.08" cy="270.84" r="0.42" fill="#444"/>
<circle cx="18.66" cy="281.79" r="0.42" fill="#444"/>
<circle cx="28.1" cy="271.34" r="0.42" fill="#444"/>
<circle cx="34.44" cy="279.45" r="0.42" fill="#444"/>
<circle cx="31.23" cy="274.15" r="0.42" fill="#444"/>
<circle cx="29.63" cy="275.15" r="0.42" fill="#444"/>
<circle cx="24.62" cy="274.64" r="0.42" fill="#444"/>
<circle cx="49.32" cy="274.8" r="0.42" fill="#444"/>
<circle cx="23.92" cy="276.57" r="0.42" fill="#444"/>
<circle cx="26.22" cy="257.49" r="0.42" fill="#444"/>
<circle cx="28.11" cy="281.37" r="0.42" fill="#444"/>
<circle cx="37.07" cy="273.03" r="0.42" fill="#444"/>
<circle cx="26.59" cy="263.21" r="0.42" fill="#444"/>
<circle cx="44.8" cy="276.45" r="0.42" fill="#444"/>
<circle cx="26.39" cy="252.89" r="0.42" fill="#444"/>
<circle cx="24.81" cy="273.23" r="0.42" fill="#444"/>
<circle cx="35.68" cy="272.42" r="0.42" fill="#444"/>
<circle cx="31.77" cy="260.27" r="0.42" fill="#444"/>
<circle cx="25.59" cy="290.89" r="0.42" fill="#444"/>
<circle cx="27.95" cy="282.45" r="0.42" fill="#444"/>
<circle cx="20.45" cy="271.26" r="0.42" fill="#444"/>
<circle cx="36.09" cy="284.37" r="0.42" fill="#444"/>
<circle cx="25.02" cy="279.95" r="0.42" fill="#444"/>
<circle cx="37.09" cy="266.62" r="0.42" fill="#444"/>
<circle cx="37.82" cy="265.02" r="0.42" fill="#444"/>
<circle cx="27.63" cy="273.81" r="0.42" fill="#444"/>
<circle cx="26" cy="259.37" r="0.42" fill="#444"/>
<circle cx="30.6" cy="281.63" r="0.42" fill="#444"/>
<circle cx="30.76" cy="286.66" r="0.42" fill="#444"/>
<circle cx="24.72" cy="260.88" r="0.42" fill="#444"/>
<circle cx="46.41" cy="277.99" r="0.42" fill="#444"/>
<circle cx="41.56" cy="265.73" r="0.42" fill="#444"/>
<circle cx="40.44" cy="276.6" r="0.42" fill="#444"/>
<circle cx="39.19" cy="274.25" r="0.42" fill="#444"/>
<circle cx="43.65" cy="267.51" r="0.42" fill="#444"/>
<circle cx="26.29" cy="259.22" r="0.42" fill="#444"/>
<circle cx="43.28" cy="266.62" r="0.42" fill="#444"/>
<circle cx="25.65" cy="264.6" r="0.42" fill="#444"/>
<circle cx="30.44" cy="261.29" r="0.42" fill="#444"/>
<circle cx="31.68" cy="267.73" r="0.42" fill="#444"/>
<circle cx="29.59" cy="264.41" r="0.42" fill="#444"/>
<circle cx="34.29" cy="269.39" r="0.42" fill="#444"/>
<circle cx="34.92" cy="276.49" r="0.42" fill="#444"/>
<circle cx="36.72" cy="252.11" r="0.42" fill="#444"/>
<circle cx="29.71" cy="266.04" r="0.42" fill="#444"/>
<circle cx="40.19" cy="258.22" r="0.42" fill="#444"/>
<circle cx="28.28" cy="271.06" r="0.42" fill="#444"/>
<circle cx="31.31" cy="283.91" r="0.42" fill="#444"/>
<circle cx="30.46" cy="283.65" r="0.42" fill="#444"/>
<circle cx="22.28" cy="255.88" r="0.42" fill="#444"/>
<circle cx="43.75" cy="278.36" r="0.42" fill="#444"/>
<circle cx="37.9" cy="275.23" r="0.42" fill="#444"/>
<circle cx="37.87" cy="261.84" r="0.42" fill="#444"/>
<circle cx="41.59" cy="268.68" r="0.42" fill="#444"/>
<circle cx="41.89" cy="274.88" r="0.42" fill="#444"/>
<circle cx="43.02" cy="272.63" r="0.42" fill="#444"/>
<circle cx="30.84" cy="276.43" r="0.42" fill="#444"/>
<circle cx="30.6" cy="268.55" r="0.42" fill="#444"/>
<circle cx="34.82" cy="275.44" r="0.42" fill="#444"/>
<circle cx="46.13" cy="274.46" r="0.42" fill="#444"/>
<circle cx="49.04" cy="292.03" r="0.42" fill="#444"/>
<circle cx="47.73" cy="284.61" r="0.42" fill="#444"/>
<circle cx="35.04" cy="275.37" r="0.42" fill="#444"/>
<circle cx="32.86" cy="266.69" r="0.42" fill="#444"/>
<circle cx="33.47" cy="267.59" r="0.42" fill="#444"/>
<circle cx="47.12" cy="279.34" r="0.42" fill="#444"/>
<circle cx="30.43" cy="254.84" r="0.42" fill="#444"/>
<circle cx="33.57" cy="269.84" r="0.42" fill="#444"/>
<circle cx="25.31" cy="262.64" r="0.42" fill="#444"/>
<circle cx="33.75" cy="272.52" r="0.42" fill="#444"/>
<circle cx="45.55" cy="275.34" r="0.42" fill="#444"/>
<circle cx="35.34" cy="270.28" r="0.42" fill="#444"/>
<circle cx="29.16" cy="288.99" r="0.42" fill="#444"/>
<circle cx="42" cy="291.16" r="0.42" fill="#444"/>
<circle cx="31.2" cy="274.3" r="0.42" fill="#444"/>
<circle cx="26.95" cy="283.67" r="0.42" fill="#444"/>
<circle cx="22.86" cy="279.65" r="0.42" fill="#444"/>
<circle cx="42.77" cy="288.11" r="0.42" fill="#444"/>
<circle cx="26.48" cy="284.9" r="0.42" fill="#444"/>
<circle cx="28.29" cy="266.43" r="0.42" fill="#444"/>
<circle cx="23.42" cy="285.56" r="0.42" fill="#444"/>
<circle cx="47.19" cy="268.06" r="0.42" fill="#444"/>
<circle cx="27.92" cy="270.61" r="0.42" fill="#444"/>
<circle cx="54.06" cy="284.04" r="0.42" fill="#444"/>
<circle cx="29.66" cy="256.06" r="0.42" fill="#444"/>
<circle cx="28.62" cy="285.87" r="0.42" fill="#444"/>
<circle cx="48.94" cy="271.34" r="0.42" fill="#444"/>
<circle cx="28.47" cy="268.9" r="0.42" fill="#444"/>
<circle cx="18.91" cy="283.08" r="0.42" fill="#444"/>
<circle cx="25.31" cy="284.63" r="0.42" fill="#444"/>
<circle cx="20.34" cy="261.3" r="0.42" fill="#444"/>
<circle cx="36.31" cy="266.36" r="0.42" fill="#444"/>
<circle cx="40.25" cy="274.08" r="0.42" fill="#444"/>
<circle cx="24.6" cy="280.22" r="0.42" fill="#444"/>
<circle cx="40.74" cy="254.87" r="0.42" fill="#444"/>
<circle cx="48.61" cy="278.97" r="0.42" fill="#444"/>
<circle cx="40.08" cy="255.4" r="0.42" fill="#444"/>
<circle cx="28.24" cy="270.51" r="0.42" fill="#444"/>
<circle cx="42.62" cy="259.4" r="0.42" fill="#444"/>
<circle cx="26.93" cy="253.7" r="0.42" fill="#444"/>
<circle cx="32.07" cy="277.46" r="0.42" fill="#444"/>
<circle cx="20.51" cy="268.09" r="0.42" fill="#444"/>
<circle cx="38.08" cy="289.85" r="0.42" fill="#444"/>
<circle cx="39.31" cy="270.96" r="0.42" fill="#444"/>
<circle cx="24.58" cy="264.64" r="0.42" fill="#444"/>
<circle cx="28.69" cy="275.47" r="0.42" fill="#444"/>
<circle cx="33.6" cy="290.67" r="0.42" fill="#444"/>
<circle cx="36.3" cy="263.28" r="0.42" fill="#444"/>
<circle cx="46.35" cy="283.49" r="0.42" fill="#444"/>
<circle cx="34.81" cy="266.79" r="0.42" fill="#444"/>
<circle cx="19.03" cy="263.78" r="0.42" fill="#444"/>
<circle cx="41.29" cy="265.97" r="0.42" fill="#444"/>
<circle cx="23.44" cy="275.96" r="0.42" fill="#444"/>
<circle cx="35.95" cy="280.06" r="0.42" fill="#444"/>
<circle cx="39.24" cy="288.09" r="0.42" fill="#444"/>
<circle cx="27.29" cy="283.79" r="0.42" fill="#444"/>
<circle cx="26.1" cy="280.94" r="0.42" fill="#444"/>
<circle cx="35.43" cy="276.43" r="0.42" fill="#444"/>
<circle cx="41.74" cy="273.83" r="0.42" fill="#444"/>
<circle cx="42.9" cy="282.75" r="0.42" fill="#444"/>
<circle cx="35.08" cy="268.33" r="0.42" fill="#444"/>
<circle cx="27.97" cy="268.72" r="0.42" fill="#444"/>
<circle cx="32.38" cy="273.75" r="0.42" fill="#444"/>
<circle cx="57.85" cy="280.38" r="0.42" fill="#444"/>
<circle cx="40.15" cy="265.39" r="0.42" fill="#444"/>
<circle cx="28.32" cy="270.81" r="0.42" fill="#444"/>
<circle cx="35.54" cy="263.64" r="0.42" fill="#444"/>
<circle cx="46.9" cy="268.37" r="0.42" fill="#444"/>
<circle cx="42.63" cy="250.64" r="0.42" fill="#444"/>
<circle cx="33.94" cy="276.78" r="0.42" fill="#444"/>
<circle cx="35.53" cy="280.02" r="0.42" fill="#444"/>
<circle cx="36.24" cy="275.62" r="0.42" fill="#444"/>
<circle cx="18.86" cy="266.87" r="0.42" fill="#444"/>
<circle cx="36.46" cy="272.05" r="0.42" fill="#444"/>
<circle cx="27.43" cy="268.18" r="0.42" fill="#444"/>
<circle cx="48.76" cy="291.31" r="0.42" fill="#444"/>
<circle cx="33.53" cy="286.88" r="0.42" fill="#444"/>
<circle cx="21.3" cy="254.65" r="0.42" fill="#444"/>
<circle cx="30.14" cy="265.25" r="0.42" fill="#444"/>
<circle cx="29.53" cy="275.88" r="0.42" fill="#444"/>
<circle cx="58.2" cy="267.39" r="0.42" fill="#444"/>
<circle cx="34.4" cy="276.76" r="0.42" fill="#444"/>
<circle cx="33.73" cy="283.31" r="0.42" fill="#444"/>
<circle cx="55.53" cy="240.54" r="0.42" fill="#555"/>
<circle cx="37.78" cy="246.41" r="0.42" fill="#555"/>
<circle cx="39.92" cy="238.81" r="0.42" fill="#555"/>
<circle cx="41.78" cy="249.15" r="0.42" fill="#555"/>
<circle cx="36.81" cy="233.8" r="0.42" fill="#555"/>
<circle cx="31.89" cy="243.47" r="0.42" fill="#555"/>
<circle cx="20.45" cy="242.51" r="0.42" fill="#555"/>
<circle cx="43.67" cy="251.26" r="0.42" fill="#555"/>
<circle cx="35.75" cy="251.09" r="0.42" fill="#555"/>
<circle cx="29.36" cy="248.43" r="0.42" fill="#555"/>
<circle cx="36.44" cy="251.33" r="0.42" fill="#555"/>
<circle cx="35.23" cy="247.14" r="0.42" fill="#555"/>
<circle cx="34.52" cy="244.13" r="0.42" fill="#555"/>
<circle cx="60.57" cy="251.09" r="0.42" fill="#555"/>
<circle cx="40.72" cy="261.75" r="0.42" fill="#555"/>
<circle cx="51.43" cy="238.66" r="0.42" fill="#555"/>
<circle cx="43.65" cy="253.03" r="0.42" fill="#555"/>
<circle cx="56.73" cy="255.89" r="0.42" fill="#555"/>
<circle cx="44.48" cy="240.94" r="0.42" fill="#555"/>
<circle cx="26.42" cy="249.61" r="0.42" fill="#555"/>
<circle cx="41.55" cy="241.87" r="0.42" fill="#555"/>
<circle cx="31.77" cy="245.6" r="0.42" fill="#555"/>
<circle cx="36.67" cy="250.02" r="0.42" fill="#555"/>
<circle cx="32.84" cy="240.58" r="0.42" fill="#555"/>
<circle cx="49.67" cy="257.58" r="0.42" fill="#555"/>
<circle cx="34.83" cy="254.15" r="0.42" fill="#555"/>
<circle cx="40.89" cy="251.96" r="0.42" fill="#555"/>
<circle cx="41.3" cy="243.42" r="0.42" fill="#555"/>
<circle cx="42.31" cy="254.06" r="0.42" fill="#555"/>
<circle cx="26.14" cy="259.8" r="0.42" fill="#555"/>
<circle cx="58.99" cy="258.94" r="0.42" fill="#555"/>
<circle cx="57.88" cy="252.45" r="0.42" fill="#555"/>
<circle cx="32.28" cy="244.4" r="0.42" fill="#555"/>
<circle cx="27.06" cy="248.7" r="0.42" fill="#555"/>
<circle cx="35.64" cy="252.02" r="0.42" fill="#555"/>
<circle cx="61.04" cy="247.84" r="0.42" fill="#555"/>
<circle cx="43.44" cy="250.85" r="0.42" fill="#555"/>
<circle cx="39.01" cy="246.75" r="0.42" fill="#555"/>
<circle cx="34.65" cy="243.05" r="0.42" fill="#555"/>
<circle cx="37.96" cy="247.86" r="0.42" fill="#555"/>
<circle cx="39.52" cy="242.87" r="0.42" fill="#555"/>
<circle cx="36.43" cy="248.29" r="0.42" fill="#555"/>
<circle cx="42.65" cy="241.62" r="0.42" fill="#555"/>
<circle cx="40.61" cy="253.9" r="0.42" fill="#555"/>
<circle cx="42.57" cy="245.79" r="0.42" fill="#555"/>
<circle cx="30.6" cy="246.58" r="0.42" fill="#555"/>
<circle cx="44.02" cy="257.32" r="0.42" fill="#555"/>
<circle cx="34.26" cy="244.14" r="0.42" fill="#555"/>
<circle cx="40.13" cy="249.23" r="0.42" fill="#555"/>
<circle cx="26.01" cy="243.58" r="0.42" fill="#555"/>
<circle cx="34.88" cy="252.03" r="0.42" fill="#555"/>
<circle cx="22.88" cy="241.89" r="0.42" fill="#555"/>
<circle cx="41.49" cy="240.65" r="0.42" fill="#555"/>
<circle cx="37.2" cy="250.11" r="0.42" fill="#555"/>
<circle cx="34.78" cy="241.89" r="0.42" fill="#555"/>
<circle cx="35.34" cy="246.01" r="0.42" fill="#555"/>
<circle cx="39.7" cy="242.97" r="0.42" fill="#555"/>
<circle cx="48.01" cy="237.95" r="0.42" fill="#555"/>
<circle cx="34.06" cy="248.05" r="0.42" fill="#555"/>
<circle cx="46.58" cy="244.35" r="0.42" fill="#555"/>
<circle cx="42" cy="244.6" r="0.42" fill="#555"/>
<circle cx="44.12" cy="258.42" r="0.42" fill="#555"/>
<circle cx="31.59" cy="250.66" r="0.42" fill="#555"/>
<circle cx="25.8" cy="253.84" r="0.42" fill="#555"/>
<circle cx="49.32" cy="248.21" r="0.42" fill="#555"/>
<circle cx="23.52" cy="250.41" r="0.42" fill="#555"/>
<circle cx="48.64" cy="254.54" r="0.42" fill="#555"/>
<circle cx="44.94" cy="237.02" r="0.42" fill="#555"/>
<circle cx="28.52" cy="256.53" r="0.42" fill="#555"/>
<circle cx="22.51" cy="254.79" r="0.42" fill="#555"/>
<circle cx="56.71" cy="252.57" r="0.42" fill="#555"/>
<circle cx="48.32" cy="246" r="0.42" fill="#555"/>
<circle cx="22.52" cy="247.38" r="0.42" fill="#555"/>
<circle cx="33.81" cy="247.71" r="0.42" fill="#555"/>
<circle cx="43.66" cy="247.13" r="0.42" fill="#555"/>
<circle cx="38.11" cy="250.54" r="0.42" fill="#555"/>
<circle cx="35.94" cy="259.06" r="0.42" fill="#555"/>
<circle cx="40.87" cy="248.51" r="0.42" fill="#555"/>
<circle cx="33.72" cy="244.25" r="0.42" fill="#555"/>
<circle cx="50.79" cy="248.9" r="0.42" fill="#555"/>
<circle cx="24.13" cy="244.63" r="0.42" fill="#555"/>
<circle cx="34.5" cy="245.33" r="0.42" fill="#555"/>
<circle cx="47.93" cy="241.03" r="0.42" fill="#555"/>
<circle cx="41.41" cy="248.86" r="0.42" fill="#555"/>
<circle cx="23.04" cy="248.28" r="0.42" fill="#555"/>
<circle cx="34.96" cy="251.01" r="0.42" fill="#555"/>
<circle cx="31.05" cy="249.82" r="0.42" fill="#555"/>
<circle cx="44.63" cy="254.25" r="0.42" fill="#555"/>
<circle cx="35.86" cy="244.41" r="0.42" fill="#555"/>
<circle cx="47.91" cy="235.45" r="0.42" fill="#555"/>
<circle cx="27.2" cy="252.03" r="0.42" fill="#555"/>
<circle cx="43.18" cy="241.81" r="0.42" fill="#555"/>
<circle cx="37.68" cy="242.62" r="0.42" fill="#555"/>
<circle cx="36.6" cy="253.41" r="0.42" fill="#555"/>
<circle cx="44.14" cy="235.51" r="0.42" fill="#555"/>
<circle cx="44.48" cy="237.32" r="0.42" fill="#555"/>
<circle cx="48.53" cy="250.39" r="0.42" fill="#555"/>
<circle cx="60.78" cy="244.34" r="0.42" fill="#555"/>
<circle cx="36.05" cy="254.28" r="0.42" fill="#555"/>
<circle cx="28.96" cy="243.77" r="0.42" fill="#555"/>
<circle cx="31.91" cy="247.56" r="0.42" fill="#555"/>
<circle cx="24.1" cy="250.91" r="0.42" fill="#555"/>
<circle cx="41.98" cy="248.43" r="0.42" fill="#555"/>
<circle cx="54.7" cy="246.03" r="0.42" fill="#555"/>
<circle cx="50.37" cy="244.72" r="0.42" fill="#555"/>
<circle cx="44.31" cy="236.39" r="0.42" fill="#555"/>
<circle cx="38.18" cy="246.95" r="0.42" fill="#555"/>
<circle cx="30.55" cy="244.34" r="0.42" fill="#555"/>
<circle cx="32.18" cy="243.68" r="0.42" fill="#555"/>
<circle cx="29.95" cy="244.85" r="0.42" fill="#555"/>
<circle cx="24.36" cy="247.19" r="0.42" fill="#555"/>
<circle cx="44.63" cy="246.5" r="0.42" fill="#555"/>
<circle cx="30.58" cy="256.14" r="0.42" fill="#555"/>
<circle cx="46.75" cy="253.53" r="0.42" fill="#555"/>
<circle cx="48.71" cy="246.04" r="0.42" fill="#555"/>
<circle cx="34.58" cy="254.68" r="0.42" fill="#555"/>
<circle cx="29.91" cy="247.28" r="0.42" fill="#555"/>
<circle cx="40.16" cy="250.24" r="0.42" fill="#555"/>
<circle cx="32.96" cy="253.9" r="0.42" fill="#555"/>
<circle cx="34.04" cy="252.35" r="0.42" fill="#555"/>
<circle cx="80.2" cy="279.23" r="0.42" fill="#777"/>
<circle cx="74.47" cy="253.76" r="0.42" fill="#777"/>
<circle cx="39.71" cy="261.34" r="0.42" fill="#777"/>
<circle cx="70.08" cy="291.01" r="0.42" fill="#777"/>
<circle cx="41.22" cy="274.29" r="0.42" fill="#777"/>
<circle cx="47.48" cy="259.75" r="0.42" fill="#777"/>
<circle cx="57.3" cy="279.68" r="0.42" fill="#777"/>
<circle cx="65.62" cy="286.51" r="0.42" fill="#777"/>
<circle cx="45.24" cy="282.45" r="0.42" fill="#777"/>
<circle cx="77.81" cy="270.97" r="0.42" fill="#777"/>
<circle cx="70.11" cy="262.11" r="0.42" fill="#777"/>
<circle cx="43.47" cy="264.33" r="0.42" fill="#777"/>
<circle cx="53.75" cy="293.1" r="0.42" fill="#777"/>
<circle cx="65.44" cy="274.37" r="0.42" fill="#777"/>
<circle cx="74.64" cy="259.09" r="0.42" fill="#777"/>
<circle cx="77.58" cy="275.27" r="0.42" fill="#777"/>
<circle cx="36.23" cy="278.42" r="0.42" fill="#777"/>
<circle cx="71.39" cy="276.34" r="0.42" fill="#777"/>
<circle cx="88.94" cy="264.2" r="0.42" fill="#777"/>
<circle cx="70.7" cy="280.48" r="0.42" fill="#777"/>
<circle cx="46.7" cy="286.8" r="0.42" fill="#777"/>
<circle cx="37.34" cy="251.8" r="0.42" fill="#777"/>
<circle cx="70.88" cy="254.76" r="0.42" fill="#777"/>
<circle cx="60.02" cy="246.97" r="0.42" fill="#777"/>
<circle cx="63.18" cy="254.13" r="0.42" fill="#777"/>
<circle cx="67.81" cy="248.54" r="0.42" fill="#777"/>
<circle cx="69.63" cy="266.27" r="0.42" fill="#777"/>
<circle cx="63.09" cy="269.05" r="0.42" fill="#777"/>
<circle cx="64.22" cy="251.5" r="0.42" fill="#777"/>
<circle cx="46.09" cy="263.64" r="0.42" fill="#777"/>
<circle cx="69.25" cy="242.21" r="0.42" fill="#777"/>
<circle cx="49.03" cy="261.46" r="0.42" fill="#777"/>
<circle cx="44.03" cy="274.58" r="0.42" fill="#777"/>
<circle cx="59.62" cy="258.51" r="0.42" fill="#777"/>
<circle cx="45.26" cy="281.3" r="0.42" fill="#777"/>
<circle cx="50.79" cy="278.19" r="0.42" fill="#777"/>
<circle cx="69.64" cy="243.49" r="0.42" fill="#777"/>
<circle cx="43.58" cy="270.04" r="0.42" fill="#777"/>
<circle cx="67.81" cy="280.92" r="0.42" fill="#777"/>
<circle cx="75.64" cy="284.48" r="0.42" fill="#777"/>
<circle cx="55.64" cy="267.05" r="0.42" fill="#777"/>
<circle cx="75.19" cy="264.04" r="0.42" fill="#777"/>
<circle cx="79.96" cy="247.75" r="0.42" fill="#777"/>
<circle cx="73.11" cy="267.57" r="0.42" fill="#777"/>
<circle cx="28.56" cy="283.72" r="0.42" fill="#777"/>
<circle cx="67.29" cy="270.29" r="0.42" fill="#777"/>
<circle cx="43.7" cy="263.48" r="0.42" fill="#777"/>
<circle cx="87.7" cy="258.42" r="0.42" fill="#777"/>
<circle cx="41.61" cy="268.15" r="0.42" fill="#777"/>
<circle cx="55.31" cy="257.23" r="0.42" fill="#777"/>
<circle cx="47.69" cy="284.67" r="0.42" fill="#777"/>
<circle cx="37.48" cy="297.39" r="0.42" fill="#777"/>
<circle cx="52.75" cy="254.7" r="0.42" fill="#777"/>
<circle cx="75.38" cy="277.9" r="0.42" fill="#777"/>
<circle cx="44.27" cy="280.48" r="0.42" fill="#777"/>
<circle cx="30.72" cy="257.07" r="0.42" fill="#777"/>
<circle cx="81.15" cy="266.42" r="0.42" fill="#777"/>
<circle cx="39.86" cy="277.2" r="0.42" fill="#777"/>
<circle cx="77.59" cy="269.69" r="0.42" fill="#777"/>
<circle cx="31.28" cy="265.15" r="0.42" fill="#777"/>
<circle cx="69.11" cy="280.76" r="0.42" fill="#777"/>
<circle cx="93.5" cy="266.46" r="0.42" fill="#777"/>
<circle cx="53.8" cy="269.46" r="0.42" fill="#777"/>
<circle cx="82.51" cy="256.82" r="0.42" fill="#777"/>
<circle cx="84.19" cy="231.51" r="0.42" fill="#777"/>
<circle cx="75.56" cy="260.54" r="0.42" fill="#777"/>
<circle cx="69.8" cy="279.64" r="0.42" fill="#777"/>
<circle cx="41.9" cy="268.79" r="0.42" fill="#777"/>
<circle cx="66.09" cy="278.22" r="0.42" fill="#777"/>
<circle cx="46.19" cy="256.12" r="0.42" fill="#777"/>
<circle cx="58.73" cy="266.89" r="0.42" fill="#777"/>
<circle cx="36.59" cy="283.02" r="0.42" fill="#777"/>
<circle cx="52.91" cy="290.1" r="0.42" fill="#777"/>
<circle cx="76.48" cy="270.29" r="0.42" fill="#777"/>
<circle cx="74.36" cy="254.43" r="0.42" fill="#777"/>
<circle cx="56.46" cy="261.93" r="0.42" fill="#777"/>
<circle cx="40.42" cy="270.24" r="0.42" fill="#777"/>
<circle cx="59.54" cy="290.1" r="0.42" fill="#777"/>
<circle cx="46.39" cy="263.5" r="0.42" fill="#777"/>
<circle cx="69.17" cy="275.65" r="0.42" fill="#777"/>
<circle cx="62.48" cy="263.36" r="0.42" fill="#777"/>
<circle cx="70.41" cy="275.04" r="0.42" fill="#777"/>
<circle cx="30.67" cy="266.33" r="0.42" fill="#777"/>
<circle cx="38.63" cy="253.46" r="0.42" fill="#777"/>
<circle cx="64.49" cy="270.84" r="0.42" fill="#777"/>
<circle cx="63.94" cy="257.74" r="0.42" fill="#777"/>
<circle cx="58.58" cy="257.22" r="0.42" fill="#777"/>
<circle cx="68.49" cy="279.64" r="0.42" fill="#777"/>
<circle cx="91.84" cy="287.73" r="0.42" fill="#777"/>
<circle cx="48.31" cy="263.59" r="0.42" fill="#777"/>
<circle cx="46.05" cy="274.28" r="0.42" fill="#777"/>
<circle cx="95.67" cy="279.92" r="0.42" fill="#777"/>
<circle cx="24.61" cy="252.4" r="0.42" fill="#777"/>
<circle cx="40.03" cy="277.21" r="0.42" fill="#777"/>
<circle cx="62.02" cy="274.2" r="0.42" fill="#777"/>
<circle cx="92.29" cy="258.42" r="0.42" fill="#777"/>
<circle cx="47.59" cy="297.52" r="0.42" fill="#777"/>
<circle cx="67.82" cy="259.1" r="0.42" fill="#777"/>
<circle cx="27.51" cy="248.66" r="0.42" fill="#777"/>
<circle cx="20.44" cy="270.96" r="0.42" fill="#777"/>
<circle cx="62.75" cy="283.9" r="0.42" fill="#777"/>
<circle cx="59.63" cy="260.29" r="0.42" fill="#777"/>
<circle cx="49.4" cy="296.62" r="0.42" fill="#777"/>
<circle cx="31.98" cy="272.43" r="0.42" fill="#777"/>
<circle cx="62.44" cy="278.63" r="0.42" fill="#777"/>
<circle cx="55.12" cy="276.99" r="0.42" fill="#777"/>
<circle cx="75.87" cy="267.94" r="0.42" fill="#777"/>
<circle cx="54.22" cy="267.39" r="0.42" fill="#777"/>
<circle cx="45.6" cy="267.09" r="0.42" fill="#777"/>
<circle cx="56.87" cy="272.94" r="0.42" fill="#777"/>
<circle cx="84.71" cy="288.31" r="0.42" fill="#777"/>
<circle cx="54.43" cy="278.44" r="0.42" fill="#777"/>
<circle cx="67.01" cy="280.66" r="0.42" fill="#777"/>
<circle cx="62.36" cy="273.72" r="0.42" fill="#777"/>
<circle cx="54.03" cy="259.02" r="0.42" fill="#777"/>
<circle cx="76.83" cy="288.18" r="0.42" fill="#777"/>
<circle cx="73.26" cy="276.1" r="0.42" fill="#777"/>
<circle cx="66.53" cy="263.7" r="0.42" fill="#777"/>
<circle cx="31.69" cy="279.29" r="0.42" fill="#777"/>
<circle cx="65.39" cy="262.24" r="0.42" fill="#777"/>
<circle cx="45.6" cy="287.89" r="0.42" fill="#777"/>
<circle cx="31.33" cy="294.67" r="0.42" fill="#777"/>
<circle cx="49.8" cy="269.69" r="0.42" fill="#777"/>
<circle cx="53.39" cy="272.17" r="0.42" fill="#777"/>
<circle cx="58.43" cy="259.52" r="0.42" fill="#777"/>
<circle cx="80.27" cy="259.01" r="0.42" fill="#777"/>
<circle cx="53.37" cy="277.76" r="0.42" fill="#777"/>
<circle cx="52.86" cy="263.92" r="0.42" fill="#777"/>
<circle cx="68.05" cy="264.85" r="0.42" fill="#777"/>
<circle cx="40.81" cy="268.57" r="0.42" fill="#777"/>
<circle cx="58.26" cy="293.87" r="0.42" fill="#777"/>
<circle cx="43.35" cy="283.57" r="0.42" fill="#777"/>
<circle cx="48.64" cy="265.02" r="0.42" fill="#777"/>
<circle cx="56.45" cy="273.79" r="0.42" fill="#777"/>
<circle cx="76.68" cy="294.5" r="0.42" fill="#777"/>
<circle cx="51.18" cy="288.62" r="0.42" fill="#777"/>
<circle cx="78.92" cy="281.38" r="0.42" fill="#777"/>
<circle cx="49.09" cy="282.61" r="0.42" fill="#777"/>
<circle cx="60.17" cy="274.95" r="0.42" fill="#777"/>
<circle cx="57.43" cy="279.3" r="0.42" fill="#777"/>
<circle cx="80.96" cy="285.83" r="0.42" fill="#777"/>
<circle cx="58.51" cy="283.94" r="0.42" fill="#777"/>
<circle cx="86.68" cy="256.91" r="0.42" fill="#777"/>
<circle cx="87.03" cy="251.31" r="0.42" fill="#777"/>
<circle cx="71.23" cy="278.32" r="0.42" fill="#777"/>
<circle cx="87.21" cy="273.9" r="0.42" fill="#777"/>
<circle cx="53.83" cy="258.84" r="0.42" fill="#777"/>
<circle cx="40.73" cy="280.72" r="0.42" fill="#777"/>
<circle cx="57.97" cy="259.95" r="0.42" fill="#777"/>
<circle cx="71.04" cy="259.29" r="0.42" fill="#777"/>
<circle cx="54.57" cy="263.58" r="0.42" fill="#777"/>
<circle cx="90.12" cy="290.48" r="0.42" fill="#777"/>
<circle cx="59.31" cy="248" r="0.42" fill="#777"/>
<circle cx="66.7" cy="271.01" r="0.42" fill="#777"/>
<circle cx="67.93" cy="277.92" r="0.42" fill="#777"/>
<circle cx="56.55" cy="282.95" r="0.42" fill="#777"/>
<circle cx="76.23" cy="272.95" r="0.42" fill="#777"/>
<circle cx="55.09" cy="263.27" r="0.42" fill="#777"/>
<circle cx="73.77" cy="254.61" r="0.42" fill="#777"/>
<circle cx="59.29" cy="259.5" r="0.42" fill="#777"/>
<circle cx="38.31" cy="278.45" r="0.42" fill="#777"/>
<circle cx="61.56" cy="270.5" r="0.42" fill="#777"/>
<circle cx="76.86" cy="249.08" r="0.42" fill="#777"/>
<circle cx="60.86" cy="274.04" r="0.42" fill="#777"/>
<circle cx="76.15" cy="254.81" r="0.42" fill="#777"/>
<circle cx="74.17" cy="273.07" r="0.42" fill="#777"/>
<circle cx="85.05" cy="285.94" r="0.42" fill="#777"/>
<circle cx="61.98" cy="264.06" r="0.42" fill="#777"/>
<circle cx="56.21" cy="256.83" r="0.42" fill="#777"/>
<circle cx="61.51" cy="243.7" r="0.42" fill="#777"/>
<circle cx="60.56" cy="275.96" r="0.42" fill="#777"/>
<circle cx="78.85" cy="265.14" r="0.42" fill="#777"/>
<circle cx="85.61" cy="260.88" r="0.42" fill="#777"/>
<circle cx="59.71" cy="243.71" r="0.42" fill="#777"/>
<circle cx="49.06" cy="258.92" r="0.42" fill="#777"/>
<circle cx="86.8" cy="277.25" r="0.42" fill="#777"/>
<circle cx="43.67" cy="277.3" r="0.42" fill="#777"/>
<circle cx="69.99" cy="266.81" r="0.42" fill="#777"/>
<circle cx="62.38" cy="265.83" r="0.42" fill="#777"/>
<circle cx="53" cy="245.77" r="0.42" fill="#777"/>
<circle cx="60.5" cy="287.56" r="0.42" fill="#777"/>
<circle cx="85.77" cy="266.19" r="0.42" fill="#777"/>
<circle cx="49.6" cy="267.11" r="0.42" fill="#777"/>
<circle cx="76.9" cy="274.8" r="0.42" fill="#777"/>
<circle cx="52.31" cy="274.95" r="0.42" fill="#777"/>
<circle cx="58.58" cy="277.04" r="0.42" fill="#777"/>
<circle cx="55.24" cy="249.9" r="0.42" fill="#777"/>
<circle cx="62.96" cy="280.38" r="0.42" fill="#777"/>
<circle cx="43.64" cy="268.53" r="0.42" fill="#777"/>
<circle cx="76.55" cy="264.89" r="0.42" fill="#777"/>
<circle cx="51.21" cy="297.71" r="0.42" fill="#777"/>
<circle cx="75.75" cy="284.02" r="0.42" fill="#777"/>
<circle cx="46.33" cy="292.27" r="0.42" fill="#777"/>
<circle cx="34.57" cy="262.93" r="0.42" fill="#777"/>
<circle cx="74.25" cy="288.13" r="0.42" fill="#777"/>
<circle cx="46.61" cy="260.95" r="0.42" fill="#777"/>
<circle cx="65.25" cy="243.73" r="0.42" fill="#777"/>
<circle cx="72.57" cy="277.62" r="0.42" fill="#777"/>
<circle cx="54.6" cy="277.32" r="0.42" fill="#777"/>
<circle cx="74.83" cy="274.21" r="0.42" fill="#777"/>
<path d="M45.5,247.5 C50,246 56,246.5 60.5,249.5 C64,252 66,255.5 69.5,258 C72.5,259.8 73,263 70,263.8 C66,264.4 62,263.2 57,263.6 C52,264 48,264.4 45.5,263.5 Z" fill="#fff" stroke="#222" stroke-width="0.8"/>
<path d="M47,250 C52,249 56,249.8 59.5,252.5 C62,254.8 64,257.5 67,259.8 C64,261.6 58,261 54,261.6 C50,262 47.5,261.8 47,259.5 Z" fill="none" stroke="#555" stroke-width="0.45"/>
<circle cx="48" cy="254.4" r="1.7" fill="none" stroke="#333" stroke-width="0.6"/>
<path d="M23.5,264 C24,272 25.5,280 28,284.5 C30,286.5 32.5,284.5 34.5,280 C36.5,275 39,270 42.5,264.5 Z" fill="#fff" stroke="#222" stroke-width="0.75"/>
<path d="M26.5,266 C27,271 28.5,276 30.5,277.5 C32.5,276 34.5,271 37,266" fill="none" stroke="#444" stroke-width="0.55"/>
<path d="M21,256 C21,248 27,245.2 34,245.2 C41,245.2 45.5,249 45.5,256 C45.5,262 41,265.5 34,265.5 C26,265.5 21,262 21,256 Z" fill="#fff" stroke="#222" stroke-width="0.8"/>
<ellipse cx="33.4" cy="256" rx="11.2" ry="9.4" fill="none" stroke="#1e1e1e" stroke-width="0.75"/>
<ellipse cx="33.32" cy="256.05" rx="9.4" ry="7.9" fill="none" stroke="#1e1e1e" stroke-width="0.75"/>
<ellipse cx="33.24" cy="256.1" rx="7.6" ry="6.4" fill="none" stroke="#1e1e1e" stroke-width="0.75"/>
<ellipse cx="33.16" cy="256.14" rx="5.8" ry="4.9" fill="none" stroke="#1e1e1e" stroke-width="0.75"/>
<ellipse cx="33.08" cy="256.19" rx="4" ry="3.4" fill="none" stroke="#1e1e1e" stroke-width="0.75"/>
<ellipse cx="33" cy="256.24" rx="2.2" ry="1.9" fill="none" stroke="#1e1e1e" stroke-width="0.75"/>
<line x1="45.6" y1="220.7" x2="45.6" y2="299.6" stroke="#444" stroke-width="0.8" />
<line x1="17.6" y1="264.7" x2="100.4" y2="264.7" stroke="#444" stroke-width="0.8" />
<text x="20.6" y="230.4" font-size="5.2" fill="#333" stroke="#333" stroke-width="0.22" font-weight="bold">66%</text>
<text x="99" y="230.4" font-size="5.2" fill="#333" stroke="#333" stroke-width="0.22" text-anchor="end" font-weight="bold">16%</text>
<text x="20.6" y="297.6" font-size="5.2" fill="#333" stroke="#333" stroke-width="0.22" font-weight="bold">15%</text>
<text x="99" y="297.6" font-size="5.2" fill="#333" stroke="#333" stroke-width="0.22" text-anchor="end" font-weight="bold">3%</text>
<rect x="111.3" y="222.4" width="79.9" height="76.4" fill="#fff" stroke="#555" stroke-width="0.8" />
<line x1="108.1" y1="293.45" x2="111.3" y2="293.45" stroke="#222" stroke-width="0.8" />
<line x1="109.3" y1="287.7" x2="111.3" y2="287.7" stroke="#333" stroke-width="0.6" />
<line x1="109.3" y1="284.34" x2="111.3" y2="284.34" stroke="#333" stroke-width="0.6" />
<line x1="109.3" y1="281.95" x2="111.3" y2="281.95" stroke="#333" stroke-width="0.6" />
<line x1="109.3" y1="280.1" x2="111.3" y2="280.1" stroke="#333" stroke-width="0.6" />
<line x1="109.3" y1="278.59" x2="111.3" y2="278.59" stroke="#333" stroke-width="0.6" />
<line x1="109.3" y1="277.31" x2="111.3" y2="277.31" stroke="#333" stroke-width="0.6" />
<line x1="109.3" y1="276.2" x2="111.3" y2="276.2" stroke="#333" stroke-width="0.6" />
<line x1="109.3" y1="275.23" x2="111.3" y2="275.23" stroke="#333" stroke-width="0.6" />
<line x1="108.1" y1="275.88" x2="111.3" y2="275.88" stroke="#222" stroke-width="0.8" />
<line x1="109.3" y1="270.13" x2="111.3" y2="270.13" stroke="#333" stroke-width="0.6" />
<line x1="109.3" y1="266.77" x2="111.3" y2="266.77" stroke="#333" stroke-width="0.6" />
<line x1="109.3" y1="264.38" x2="111.3" y2="264.38" stroke="#333" stroke-width="0.6" />
<line x1="109.3" y1="262.53" x2="111.3" y2="262.53" stroke="#333" stroke-width="0.6" />
<line x1="109.3" y1="261.02" x2="111.3" y2="261.02" stroke="#333" stroke-width="0.6" />
<line x1="109.3" y1="259.74" x2="111.3" y2="259.74" stroke="#333" stroke-width="0.6" />
<line x1="109.3" y1="258.63" x2="111.3" y2="258.63" stroke="#333" stroke-width="0.6" />
<line x1="109.3" y1="257.65" x2="111.3" y2="257.65" stroke="#333" stroke-width="0.6" />
<line x1="108.1" y1="256.78" x2="111.3" y2="256.78" stroke="#222" stroke-width="0.8" />
<line x1="109.3" y1="251.03" x2="111.3" y2="251.03" stroke="#333" stroke-width="0.6" />
<line x1="109.3" y1="247.67" x2="111.3" y2="247.67" stroke="#333" stroke-width="0.6" />
<line x1="109.3" y1="245.28" x2="111.3" y2="245.28" stroke="#333" stroke-width="0.6" />
<line x1="109.3" y1="243.43" x2="111.3" y2="243.43" stroke="#333" stroke-width="0.6" />
<line x1="109.3" y1="241.92" x2="111.3" y2="241.92" stroke="#333" stroke-width="0.6" />
<line x1="109.3" y1="240.64" x2="111.3" y2="240.64" stroke="#333" stroke-width="0.6" />
<line x1="109.3" y1="239.53" x2="111.3" y2="239.53" stroke="#333" stroke-width="0.6" />
<line x1="109.3" y1="238.55" x2="111.3" y2="238.55" stroke="#333" stroke-width="0.6" />
<line x1="108.1" y1="237.68" x2="111.3" y2="237.68" stroke="#222" stroke-width="0.8" />
<line x1="116.89" y1="298.8" x2="116.89" y2="302" stroke="#222" stroke-width="0.8" />
<line x1="122.91" y1="298.8" x2="122.91" y2="300.8" stroke="#333" stroke-width="0.6" />
<line x1="126.42" y1="298.8" x2="126.42" y2="300.8" stroke="#333" stroke-width="0.6" />
<line x1="128.92" y1="298.8" x2="128.92" y2="300.8" stroke="#333" stroke-width="0.6" />
<line x1="130.85" y1="298.8" x2="130.85" y2="300.8" stroke="#333" stroke-width="0.6" />
<line x1="132.44" y1="298.8" x2="132.44" y2="300.8" stroke="#333" stroke-width="0.6" />
<line x1="133.77" y1="298.8" x2="133.77" y2="300.8" stroke="#333" stroke-width="0.6" />
<line x1="134.93" y1="298.8" x2="134.93" y2="300.8" stroke="#333" stroke-width="0.6" />
<line x1="135.95" y1="298.8" x2="135.95" y2="300.8" stroke="#333" stroke-width="0.6" />
<line x1="135.27" y1="298.8" x2="135.27" y2="302" stroke="#222" stroke-width="0.8" />
<line x1="141.28" y1="298.8" x2="141.28" y2="300.8" stroke="#333" stroke-width="0.6" />
<line x1="144.8" y1="298.8" x2="144.8" y2="300.8" stroke="#333" stroke-width="0.6" />
<line x1="147.3" y1="298.8" x2="147.3" y2="300.8" stroke="#333" stroke-width="0.6" />
<line x1="149.23" y1="298.8" x2="149.23" y2="300.8" stroke="#333" stroke-width="0.6" />
<line x1="150.81" y1="298.8" x2="150.81" y2="300.8" stroke="#333" stroke-width="0.6" />
<line x1="152.15" y1="298.8" x2="152.15" y2="300.8" stroke="#333" stroke-width="0.6" />
<line x1="153.31" y1="298.8" x2="153.31" y2="300.8" stroke="#333" stroke-width="0.6" />
<line x1="154.33" y1="298.8" x2="154.33" y2="300.8" stroke="#333" stroke-width="0.6" />
<line x1="155.25" y1="298.8" x2="155.25" y2="302" stroke="#222" stroke-width="0.8" />
<line x1="161.26" y1="298.8" x2="161.26" y2="300.8" stroke="#333" stroke-width="0.6" />
<line x1="164.78" y1="298.8" x2="164.78" y2="300.8" stroke="#333" stroke-width="0.6" />
<line x1="167.27" y1="298.8" x2="167.27" y2="300.8" stroke="#333" stroke-width="0.6" />
<line x1="169.21" y1="298.8" x2="169.21" y2="300.8" stroke="#333" stroke-width="0.6" />
<line x1="170.79" y1="298.8" x2="170.79" y2="300.8" stroke="#333" stroke-width="0.6" />
<line x1="172.13" y1="298.8" x2="172.13" y2="300.8" stroke="#333" stroke-width="0.6" />
<line x1="173.28" y1="298.8" x2="173.28" y2="300.8" stroke="#333" stroke-width="0.6" />
<line x1="174.31" y1="298.8" x2="174.31" y2="300.8" stroke="#333" stroke-width="0.6" />
<line x1="175.22" y1="298.8" x2="175.22" y2="302" stroke="#222" stroke-width="0.8" />
<circle cx="158.07" cy="284.23" r="0.45" fill="#9fb2d8"/>
<circle cx="148.36" cy="272.41" r="0.45" fill="#9fb2d8"/>
<circle cx="147.93" cy="280.03" r="0.45" fill="#9fb2d8"/>
<circle cx="149.05" cy="275.14" r="0.45" fill="#9fb2d8"/>
<circle cx="154.33" cy="271.58" r="0.45" fill="#9fb2d8"/>
<circle cx="169.64" cy="270.26" r="0.45" fill="#9fb2d8"/>
<circle cx="166.73" cy="278.2" r="0.45" fill="#9fb2d8"/>
<circle cx="165.78" cy="269.56" r="0.45" fill="#9fb2d8"/>
<circle cx="161.98" cy="277.59" r="0.45" fill="#9fb2d8"/>
<circle cx="147.06" cy="273.34" r="0.45" fill="#9fb2d8"/>
<circle cx="151.76" cy="270.69" r="0.45" fill="#9fb2d8"/>
<circle cx="165.58" cy="264.73" r="0.45" fill="#9fb2d8"/>
<circle cx="136.74" cy="255.86" r="0.45" fill="#9fb2d8"/>
<circle cx="148.63" cy="265.39" r="0.45" fill="#9fb2d8"/>
<circle cx="153.14" cy="275.92" r="0.45" fill="#9fb2d8"/>
<circle cx="170" cy="273.69" r="0.45" fill="#9fb2d8"/>
<circle cx="157.47" cy="264.62" r="0.45" fill="#9fb2d8"/>
<circle cx="158.6" cy="282.8" r="0.45" fill="#9fb2d8"/>
<circle cx="165.94" cy="254.04" r="0.45" fill="#9fb2d8"/>
<circle cx="161.59" cy="284.75" r="0.45" fill="#9fb2d8"/>
<circle cx="160.97" cy="258.03" r="0.45" fill="#9fb2d8"/>
<circle cx="150.04" cy="276.09" r="0.45" fill="#9fb2d8"/>
<circle cx="157" cy="263.96" r="0.45" fill="#9fb2d8"/>
<circle cx="144.42" cy="279.38" r="0.45" fill="#9fb2d8"/>
<circle cx="140.15" cy="283.43" r="0.45" fill="#9fb2d8"/>
<circle cx="153.19" cy="273.61" r="0.45" fill="#9fb2d8"/>
<circle cx="140.16" cy="265.84" r="0.45" fill="#9fb2d8"/>
<circle cx="159.63" cy="258.26" r="0.45" fill="#9fb2d8"/>
<circle cx="172.93" cy="258.84" r="0.45" fill="#9fb2d8"/>
<circle cx="141.24" cy="271.37" r="0.45" fill="#9fb2d8"/>
<circle cx="157.63" cy="277.35" r="0.45" fill="#9fb2d8"/>
<circle cx="149.43" cy="269.2" r="0.45" fill="#9fb2d8"/>
<circle cx="150.73" cy="266.02" r="0.45" fill="#9fb2d8"/>
<circle cx="128.21" cy="279.32" r="0.45" fill="#9fb2d8"/>
<circle cx="155.41" cy="272.37" r="0.45" fill="#9fb2d8"/>
<circle cx="146.96" cy="273.17" r="0.45" fill="#9fb2d8"/>
<circle cx="152.87" cy="270.34" r="0.45" fill="#9fb2d8"/>
<circle cx="163.62" cy="256.11" r="0.45" fill="#9fb2d8"/>
<circle cx="155.42" cy="261.78" r="0.45" fill="#9fb2d8"/>
<circle cx="149.95" cy="283.96" r="0.45" fill="#9fb2d8"/>
<circle cx="142.59" cy="270.14" r="0.45" fill="#9fb2d8"/>
<circle cx="147.32" cy="279.21" r="0.45" fill="#9fb2d8"/>
<circle cx="143.59" cy="256.45" r="0.45" fill="#9fb2d8"/>
<circle cx="157.94" cy="267.94" r="0.45" fill="#9fb2d8"/>
<circle cx="149.93" cy="280.34" r="0.45" fill="#9fb2d8"/>
<circle cx="144.47" cy="267.77" r="0.45" fill="#9fb2d8"/>
<circle cx="154.42" cy="274.57" r="0.45" fill="#9fb2d8"/>
<circle cx="148.04" cy="279.95" r="0.45" fill="#9fb2d8"/>
<circle cx="174.53" cy="267.47" r="0.45" fill="#9fb2d8"/>
<circle cx="170.96" cy="252.77" r="0.45" fill="#9fb2d8"/>
<circle cx="166.51" cy="268.03" r="0.45" fill="#9fb2d8"/>
<circle cx="154.32" cy="268.06" r="0.45" fill="#9fb2d8"/>
<circle cx="146.89" cy="259.96" r="0.45" fill="#9fb2d8"/>
<circle cx="149.21" cy="282.2" r="0.45" fill="#9fb2d8"/>
<circle cx="163.95" cy="267.99" r="0.45" fill="#9fb2d8"/>
<circle cx="147.93" cy="264.93" r="0.45" fill="#9fb2d8"/>
<circle cx="141.48" cy="286.59" r="0.45" fill="#9fb2d8"/>
<circle cx="159.37" cy="272.01" r="0.45" fill="#9fb2d8"/>
<circle cx="148.28" cy="262.17" r="0.45" fill="#9fb2d8"/>
<circle cx="165.64" cy="277.75" r="0.45" fill="#9fb2d8"/>
<circle cx="143.85" cy="279.55" r="0.45" fill="#9fb2d8"/>
<circle cx="142.37" cy="276.55" r="0.45" fill="#9fb2d8"/>
<circle cx="143.77" cy="267.42" r="0.45" fill="#9fb2d8"/>
<circle cx="157.75" cy="274.74" r="0.45" fill="#9fb2d8"/>
<circle cx="162.71" cy="263.77" r="0.45" fill="#9fb2d8"/>
<circle cx="168.16" cy="282.62" r="0.45" fill="#9fb2d8"/>
<circle cx="152.9" cy="275.02" r="0.45" fill="#9fb2d8"/>
<circle cx="145.53" cy="269.68" r="0.45" fill="#9fb2d8"/>
<circle cx="140.32" cy="271.77" r="0.45" fill="#9fb2d8"/>
<circle cx="154.91" cy="282.61" r="0.45" fill="#9fb2d8"/>
<circle cx="162.1" cy="278.04" r="0.45" fill="#9fb2d8"/>
<circle cx="149.53" cy="269.06" r="0.45" fill="#9fb2d8"/>
<circle cx="149.73" cy="272.92" r="0.45" fill="#9fb2d8"/>
<circle cx="134.47" cy="277.66" r="0.45" fill="#9fb2d8"/>
<circle cx="137.96" cy="266.55" r="0.45" fill="#9fb2d8"/>
<circle cx="153.21" cy="266.56" r="0.45" fill="#9fb2d8"/>
<circle cx="168.96" cy="270.16" r="0.45" fill="#9fb2d8"/>
<circle cx="168.09" cy="281.14" r="0.45" fill="#9fb2d8"/>
<circle cx="148.23" cy="274.46" r="0.45" fill="#9fb2d8"/>
<circle cx="165.46" cy="268.12" r="0.45" fill="#9fb2d8"/>
<circle cx="153.85" cy="266.18" r="0.45" fill="#9fb2d8"/>
<circle cx="153.56" cy="267.94" r="0.45" fill="#9fb2d8"/>
<circle cx="153.79" cy="279.66" r="0.45" fill="#9fb2d8"/>
<circle cx="166.37" cy="272.15" r="0.45" fill="#9fb2d8"/>
<circle cx="154.94" cy="278.4" r="0.45" fill="#9fb2d8"/>
<circle cx="150.22" cy="261.85" r="0.45" fill="#9fb2d8"/>
<circle cx="163.66" cy="262.92" r="0.45" fill="#9fb2d8"/>
<circle cx="161.93" cy="262.67" r="0.45" fill="#9fb2d8"/>
<circle cx="170.57" cy="261.98" r="0.45" fill="#9fb2d8"/>
<circle cx="161.15" cy="283.96" r="0.45" fill="#9fb2d8"/>
<circle cx="143.77" cy="283.83" r="0.45" fill="#9fb2d8"/>
<circle cx="145.1" cy="255.76" r="0.45" fill="#9fb2d8"/>
<circle cx="159.93" cy="277.06" r="0.45" fill="#9fb2d8"/>
<circle cx="151.05" cy="249.18" r="0.45" fill="#9fb2d8"/>
<circle cx="152.47" cy="268.36" r="0.45" fill="#9fb2d8"/>
<circle cx="149.36" cy="268.5" r="0.45" fill="#9fb2d8"/>
<circle cx="135.82" cy="266.1" r="0.45" fill="#9fb2d8"/>
<circle cx="170.28" cy="284.36" r="0.45" fill="#9fb2d8"/>
<circle cx="149.53" cy="264.85" r="0.45" fill="#9fb2d8"/>
<circle cx="156.8" cy="280.17" r="0.45" fill="#9fb2d8"/>
<circle cx="159.94" cy="260.9" r="0.45" fill="#9fb2d8"/>
<circle cx="154.56" cy="272.21" r="0.45" fill="#9fb2d8"/>
<circle cx="166.81" cy="281.34" r="0.45" fill="#9fb2d8"/>
<circle cx="158.03" cy="281.51" r="0.45" fill="#9fb2d8"/>
<circle cx="149.21" cy="284.29" r="0.45" fill="#9fb2d8"/>
<circle cx="148.91" cy="274.42" r="0.45" fill="#9fb2d8"/>
<circle cx="161.82" cy="263.11" r="0.45" fill="#9fb2d8"/>
<circle cx="146.26" cy="255.81" r="0.45" fill="#9fb2d8"/>
<circle cx="154.58" cy="270.53" r="0.45" fill="#9fb2d8"/>
<circle cx="149.86" cy="275.31" r="0.45" fill="#9fb2d8"/>
<circle cx="132.68" cy="270.8" r="0.45" fill="#9fb2d8"/>
<circle cx="153.84" cy="268.7" r="0.45" fill="#9fb2d8"/>
<circle cx="160.62" cy="286.14" r="0.45" fill="#9fb2d8"/>
<circle cx="148.72" cy="262.88" r="0.45" fill="#9fb2d8"/>
<circle cx="147.2" cy="271.8" r="0.45" fill="#9fb2d8"/>
<circle cx="158.63" cy="263.56" r="0.45" fill="#9fb2d8"/>
<circle cx="162.59" cy="262.15" r="0.45" fill="#9fb2d8"/>
<circle cx="160.94" cy="274.69" r="0.45" fill="#9fb2d8"/>
<circle cx="157.45" cy="289.64" r="0.45" fill="#9fb2d8"/>
<circle cx="150.47" cy="269.57" r="0.45" fill="#9fb2d8"/>
<circle cx="157.57" cy="278.46" r="0.45" fill="#9fb2d8"/>
<circle cx="140.15" cy="273.38" r="0.45" fill="#9fb2d8"/>
<circle cx="145.88" cy="276.45" r="0.45" fill="#9fb2d8"/>
<circle cx="166.15" cy="271.45" r="0.45" fill="#9fb2d8"/>
<circle cx="151.98" cy="272.58" r="0.45" fill="#9fb2d8"/>
<circle cx="124.63" cy="277.66" r="0.45" fill="#9fb2d8"/>
<circle cx="158.39" cy="272.42" r="0.45" fill="#9fb2d8"/>
<circle cx="149.2" cy="264.69" r="0.45" fill="#9fb2d8"/>
<circle cx="151.28" cy="281.48" r="0.45" fill="#9fb2d8"/>
<circle cx="152.02" cy="282.64" r="0.45" fill="#9fb2d8"/>
<circle cx="128.31" cy="267.03" r="0.45" fill="#9fb2d8"/>
<circle cx="155.63" cy="270.88" r="0.45" fill="#9fb2d8"/>
<circle cx="137.06" cy="265.26" r="0.45" fill="#9fb2d8"/>
<circle cx="165" cy="259.84" r="0.45" fill="#9fb2d8"/>
<circle cx="143.49" cy="261.52" r="0.45" fill="#9fb2d8"/>
<circle cx="147.7" cy="276.55" r="0.45" fill="#9fb2d8"/>
<circle cx="158.7" cy="253.46" r="0.45" fill="#9fb2d8"/>
<circle cx="167.01" cy="265.88" r="0.45" fill="#9fb2d8"/>
<circle cx="147.35" cy="285.41" r="0.45" fill="#9fb2d8"/>
<circle cx="152.22" cy="260.29" r="0.45" fill="#9fb2d8"/>
<circle cx="146.87" cy="264.72" r="0.45" fill="#9fb2d8"/>
<circle cx="143.31" cy="268.12" r="0.45" fill="#9fb2d8"/>
<circle cx="161.42" cy="274.03" r="0.45" fill="#9fb2d8"/>
<circle cx="139.74" cy="295.08" r="0.45" fill="#9fb2d8"/>
<circle cx="143.5" cy="272" r="0.45" fill="#9fb2d8"/>
<circle cx="153.3" cy="277.58" r="0.45" fill="#9fb2d8"/>
<circle cx="149.85" cy="274.94" r="0.45" fill="#9fb2d8"/>
<circle cx="173.22" cy="271.83" r="0.45" fill="#9fb2d8"/>
<circle cx="142.61" cy="273.84" r="0.45" fill="#9fb2d8"/>
<circle cx="145.29" cy="267.8" r="0.45" fill="#9fb2d8"/>
<circle cx="154.81" cy="273.91" r="0.45" fill="#9fb2d8"/>
<circle cx="150.27" cy="278.33" r="0.45" fill="#9fb2d8"/>
<circle cx="151.15" cy="259.73" r="0.45" fill="#9fb2d8"/>
<circle cx="161.43" cy="267.85" r="0.45" fill="#9fb2d8"/>
<circle cx="164.64" cy="265.34" r="0.45" fill="#9fb2d8"/>
<circle cx="158.5" cy="273.72" r="0.45" fill="#9fb2d8"/>
<circle cx="127.11" cy="258.1" r="0.45" fill="#9fb2d8"/>
<circle cx="142.25" cy="283.15" r="0.45" fill="#9fb2d8"/>
<circle cx="134.87" cy="278.89" r="0.45" fill="#9fb2d8"/>
<circle cx="163.48" cy="275.28" r="0.45" fill="#9fb2d8"/>
<circle cx="159.47" cy="266.72" r="0.45" fill="#9fb2d8"/>
<circle cx="152.9" cy="272.94" r="0.45" fill="#9fb2d8"/>
<circle cx="157.04" cy="277.11" r="0.45" fill="#9fb2d8"/>
<circle cx="151.02" cy="264.94" r="0.45" fill="#9fb2d8"/>
<circle cx="147.6" cy="274.55" r="0.45" fill="#9fb2d8"/>
<circle cx="137.05" cy="260.17" r="0.45" fill="#9fb2d8"/>
<circle cx="149.05" cy="266.22" r="0.45" fill="#9fb2d8"/>
<circle cx="150.4" cy="247.99" r="0.45" fill="#9fb2d8"/>
<circle cx="149.73" cy="268.83" r="0.45" fill="#9fb2d8"/>
<circle cx="160.45" cy="253.9" r="0.45" fill="#9fb2d8"/>
<circle cx="150.06" cy="275.1" r="0.45" fill="#9fb2d8"/>
<circle cx="157.7" cy="281.34" r="0.45" fill="#9fb2d8"/>
<circle cx="163.13" cy="261.93" r="0.45" fill="#9fb2d8"/>
<circle cx="159.11" cy="268.1" r="0.45" fill="#9fb2d8"/>
<circle cx="145.29" cy="284.26" r="0.45" fill="#9fb2d8"/>
<circle cx="146.95" cy="263.61" r="0.45" fill="#9fb2d8"/>
<circle cx="149.08" cy="263.63" r="0.45" fill="#9fb2d8"/>
<circle cx="162.68" cy="274.29" r="0.45" fill="#9fb2d8"/>
<circle cx="166.46" cy="274.56" r="0.45" fill="#9fb2d8"/>
<circle cx="147.09" cy="280.06" r="0.45" fill="#9fb2d8"/>
<circle cx="146.7" cy="267" r="0.45" fill="#9fb2d8"/>
<circle cx="151.39" cy="271.34" r="0.45" fill="#9fb2d8"/>
<circle cx="164.49" cy="265.75" r="0.45" fill="#9fb2d8"/>
<circle cx="156.39" cy="270.76" r="0.45" fill="#9fb2d8"/>
<circle cx="140.89" cy="261.52" r="0.45" fill="#9fb2d8"/>
<circle cx="150.89" cy="274.5" r="0.45" fill="#9fb2d8"/>
<circle cx="156.08" cy="275.15" r="0.45" fill="#9fb2d8"/>
<circle cx="153.47" cy="267.12" r="0.45" fill="#9fb2d8"/>
<circle cx="157.11" cy="262.31" r="0.45" fill="#9fb2d8"/>
<circle cx="140.07" cy="268.12" r="0.45" fill="#9fb2d8"/>
<circle cx="139.23" cy="266.54" r="0.45" fill="#9fb2d8"/>
<circle cx="145.8" cy="266.19" r="0.45" fill="#9fb2d8"/>
<circle cx="152.57" cy="264.06" r="0.45" fill="#9fb2d8"/>
<circle cx="148.93" cy="256.17" r="0.45" fill="#9fb2d8"/>
<circle cx="154.4" cy="263.36" r="0.45" fill="#9fb2d8"/>
<circle cx="156.9" cy="246.47" r="0.45" fill="#9fb2d8"/>
<circle cx="145.27" cy="273.11" r="0.45" fill="#9fb2d8"/>
<circle cx="129.47" cy="267.87" r="0.45" fill="#9fb2d8"/>
<circle cx="153.91" cy="271.89" r="0.45" fill="#9fb2d8"/>
<circle cx="138.57" cy="272.99" r="0.45" fill="#9fb2d8"/>
<circle cx="154.44" cy="262.56" r="0.45" fill="#9fb2d8"/>
<circle cx="160.18" cy="270.57" r="0.45" fill="#9fb2d8"/>
<circle cx="153.18" cy="267.1" r="0.45" fill="#9fb2d8"/>
<circle cx="158.28" cy="271.84" r="0.45" fill="#9fb2d8"/>
<circle cx="163.97" cy="274.92" r="0.45" fill="#9fb2d8"/>
<circle cx="147.04" cy="269.06" r="0.45" fill="#9fb2d8"/>
<circle cx="161.86" cy="267.83" r="0.45" fill="#9fb2d8"/>
<circle cx="156.7" cy="275.54" r="0.45" fill="#9fb2d8"/>
<circle cx="151.27" cy="250.76" r="0.45" fill="#9fb2d8"/>
<circle cx="154.27" cy="272.86" r="0.45" fill="#9fb2d8"/>
<circle cx="154.31" cy="264.4" r="0.45" fill="#9fb2d8"/>
<circle cx="164.68" cy="269.83" r="0.45" fill="#9fb2d8"/>
<circle cx="146.97" cy="264.76" r="0.45" fill="#9fb2d8"/>
<circle cx="156.47" cy="261.51" r="0.45" fill="#9fb2d8"/>
<circle cx="143.32" cy="288.41" r="0.45" fill="#9fb2d8"/>
<circle cx="165.67" cy="280.17" r="0.45" fill="#9fb2d8"/>
<circle cx="166.2" cy="276.18" r="0.45" fill="#9fb2d8"/>
<circle cx="136.7" cy="281.4" r="0.45" fill="#9fb2d8"/>
<circle cx="164.98" cy="275.27" r="0.45" fill="#9fb2d8"/>
<circle cx="134.07" cy="281.82" r="0.45" fill="#9fb2d8"/>
<circle cx="166.21" cy="266.71" r="0.45" fill="#9fb2d8"/>
<circle cx="154.24" cy="277.77" r="0.45" fill="#9fb2d8"/>
<circle cx="152.18" cy="280.57" r="0.45" fill="#9fb2d8"/>
<circle cx="153.79" cy="277.02" r="0.45" fill="#9fb2d8"/>
<circle cx="153.83" cy="258.11" r="0.45" fill="#9fb2d8"/>
<circle cx="155.7" cy="282.43" r="0.45" fill="#9fb2d8"/>
<circle cx="164.03" cy="285.95" r="0.45" fill="#9fb2d8"/>
<circle cx="158.37" cy="265.8" r="0.45" fill="#9fb2d8"/>
<circle cx="153.18" cy="254.26" r="0.45" fill="#9fb2d8"/>
<circle cx="151.18" cy="278.91" r="0.45" fill="#9fb2d8"/>
<circle cx="132.03" cy="272.72" r="0.45" fill="#9fb2d8"/>
<circle cx="160.99" cy="282.59" r="0.45" fill="#9fb2d8"/>
<circle cx="144.02" cy="265.31" r="0.45" fill="#9fb2d8"/>
<circle cx="134.8" cy="262.1" r="0.45" fill="#9fb2d8"/>
<circle cx="158.18" cy="289.07" r="0.45" fill="#9fb2d8"/>
<circle cx="141.88" cy="283.04" r="0.45" fill="#9fb2d8"/>
<circle cx="157.15" cy="266.68" r="0.45" fill="#9fb2d8"/>
<circle cx="174.3" cy="248.97" r="0.45" fill="#9fb2d8"/>
<circle cx="152.34" cy="272.91" r="0.45" fill="#9fb2d8"/>
<circle cx="173.68" cy="286.71" r="0.45" fill="#9fb2d8"/>
<circle cx="174.99" cy="272.17" r="0.45" fill="#9fb2d8"/>
<circle cx="162.53" cy="282.93" r="0.45" fill="#9fb2d8"/>
<circle cx="157.97" cy="274.15" r="0.45" fill="#9fb2d8"/>
<circle cx="151.22" cy="267.43" r="0.45" fill="#9fb2d8"/>
<circle cx="141.06" cy="288.05" r="0.45" fill="#9fb2d8"/>
<circle cx="148.66" cy="252.81" r="0.45" fill="#9fb2d8"/>
<circle cx="155.57" cy="270.7" r="0.45" fill="#9fb2d8"/>
<circle cx="154.71" cy="286.88" r="0.45" fill="#9fb2d8"/>
<circle cx="151.97" cy="268.68" r="0.45" fill="#9fb2d8"/>
<circle cx="145.74" cy="270.8" r="0.45" fill="#9fb2d8"/>
<circle cx="148.73" cy="272.79" r="0.45" fill="#9fb2d8"/>
<circle cx="183.37" cy="274.44" r="0.45" fill="#9fb2d8"/>
<circle cx="144.67" cy="287.89" r="0.45" fill="#9fb2d8"/>
<circle cx="161.4" cy="278.14" r="0.45" fill="#9fb2d8"/>
<circle cx="159.95" cy="278.17" r="0.45" fill="#9fb2d8"/>
<circle cx="159.56" cy="283.35" r="0.45" fill="#9fb2d8"/>
<circle cx="162.79" cy="282.81" r="0.45" fill="#9fb2d8"/>
<circle cx="148.12" cy="270.98" r="0.45" fill="#9fb2d8"/>
<circle cx="145.91" cy="279.39" r="0.45" fill="#9fb2d8"/>
<circle cx="161.09" cy="266.92" r="0.45" fill="#9fb2d8"/>
<circle cx="127.98" cy="291.55" r="0.45" fill="#a9b9dc"/>
<circle cx="132.43" cy="255.14" r="0.45" fill="#a9b9dc"/>
<circle cx="123.37" cy="272.18" r="0.45" fill="#a9b9dc"/>
<circle cx="123.76" cy="269.76" r="0.45" fill="#a9b9dc"/>
<circle cx="132.04" cy="269.2" r="0.45" fill="#a9b9dc"/>
<circle cx="116.52" cy="272.96" r="0.45" fill="#a9b9dc"/>
<circle cx="123.34" cy="267.11" r="0.45" fill="#a9b9dc"/>
<circle cx="120.14" cy="252.53" r="0.45" fill="#a9b9dc"/>
<circle cx="115.5" cy="262.56" r="0.45" fill="#a9b9dc"/>
<circle cx="116.71" cy="239.56" r="0.45" fill="#a9b9dc"/>
<circle cx="131.83" cy="254.69" r="0.45" fill="#a9b9dc"/>
<circle cx="119.06" cy="271.18" r="0.45" fill="#a9b9dc"/>
<circle cx="118.76" cy="272.43" r="0.45" fill="#a9b9dc"/>
<circle cx="120.72" cy="268.98" r="0.45" fill="#a9b9dc"/>
<circle cx="124.72" cy="265.99" r="0.45" fill="#a9b9dc"/>
<circle cx="123.72" cy="279.73" r="0.45" fill="#a9b9dc"/>
<circle cx="120.28" cy="271.18" r="0.45" fill="#a9b9dc"/>
<circle cx="125.11" cy="270.71" r="0.45" fill="#a9b9dc"/>
<circle cx="130.76" cy="251.4" r="0.45" fill="#a9b9dc"/>
<circle cx="125.87" cy="264.27" r="0.45" fill="#a9b9dc"/>
<circle cx="121.87" cy="257.68" r="0.45" fill="#a9b9dc"/>
<circle cx="118.64" cy="255.97" r="0.45" fill="#a9b9dc"/>
<circle cx="116.51" cy="290.45" r="0.45" fill="#a9b9dc"/>
<circle cx="135.59" cy="266.1" r="0.45" fill="#a9b9dc"/>
<circle cx="129.06" cy="256.49" r="0.45" fill="#a9b9dc"/>
<circle cx="124.96" cy="280.02" r="0.45" fill="#a9b9dc"/>
<circle cx="123.71" cy="256.25" r="0.45" fill="#a9b9dc"/>
<circle cx="122.35" cy="256.28" r="0.45" fill="#a9b9dc"/>
<circle cx="114.49" cy="263.74" r="0.45" fill="#a9b9dc"/>
<circle cx="121.27" cy="258.09" r="0.45" fill="#a9b9dc"/>
<circle cx="117.96" cy="256.94" r="0.45" fill="#a9b9dc"/>
<circle cx="125.61" cy="279.58" r="0.45" fill="#a9b9dc"/>
<circle cx="122.57" cy="287.79" r="0.45" fill="#a9b9dc"/>
<circle cx="112.96" cy="268.67" r="0.45" fill="#a9b9dc"/>
<circle cx="116.11" cy="264.43" r="0.45" fill="#a9b9dc"/>
<circle cx="124.7" cy="271.45" r="0.45" fill="#a9b9dc"/>
<circle cx="131.71" cy="260.59" r="0.45" fill="#a9b9dc"/>
<circle cx="115.53" cy="264.17" r="0.45" fill="#a9b9dc"/>
<circle cx="126" cy="259.19" r="0.45" fill="#a9b9dc"/>
<circle cx="130.1" cy="282.41" r="0.45" fill="#a9b9dc"/>
<circle cx="114.3" cy="269.53" r="0.45" fill="#a9b9dc"/>
<circle cx="130.94" cy="247.27" r="0.45" fill="#a9b9dc"/>
<circle cx="125.4" cy="263.8" r="0.45" fill="#a9b9dc"/>
<circle cx="114.29" cy="278.82" r="0.45" fill="#a9b9dc"/>
<circle cx="125.48" cy="261.33" r="0.45" fill="#a9b9dc"/>
<circle cx="127.03" cy="272.26" r="0.45" fill="#a9b9dc"/>
<circle cx="129.25" cy="271.65" r="0.45" fill="#a9b9dc"/>
<circle cx="126.79" cy="254.53" r="0.45" fill="#a9b9dc"/>
<circle cx="121.13" cy="267.25" r="0.45" fill="#a9b9dc"/>
<circle cx="121.41" cy="255.72" r="0.45" fill="#a9b9dc"/>
<circle cx="124.22" cy="260.31" r="0.45" fill="#a9b9dc"/>
<circle cx="121.16" cy="257.34" r="0.45" fill="#a9b9dc"/>
<circle cx="118.89" cy="265.04" r="0.45" fill="#a9b9dc"/>
<circle cx="119.61" cy="272.62" r="0.45" fill="#a9b9dc"/>
<circle cx="123.03" cy="267.29" r="0.45" fill="#a9b9dc"/>
<circle cx="126.77" cy="278.39" r="0.45" fill="#a9b9dc"/>
<circle cx="128.1" cy="268.22" r="0.45" fill="#a9b9dc"/>
<circle cx="122.89" cy="258.15" r="0.45" fill="#a9b9dc"/>
<circle cx="121.66" cy="272.65" r="0.45" fill="#a9b9dc"/>
<circle cx="125.55" cy="262.22" r="0.45" fill="#a9b9dc"/>
<circle cx="114.91" cy="251.06" r="0.45" fill="#a9b9dc"/>
<circle cx="126.2" cy="276.01" r="0.45" fill="#a9b9dc"/>
<circle cx="126.55" cy="252.62" r="0.45" fill="#a9b9dc"/>
<circle cx="122.55" cy="268.16" r="0.45" fill="#a9b9dc"/>
<circle cx="117.74" cy="269.38" r="0.45" fill="#a9b9dc"/>
<circle cx="122.63" cy="257.87" r="0.45" fill="#a9b9dc"/>
<circle cx="115.53" cy="273.9" r="0.45" fill="#a9b9dc"/>
<circle cx="126.43" cy="257.35" r="0.45" fill="#a9b9dc"/>
<circle cx="117.08" cy="274.67" r="0.45" fill="#a9b9dc"/>
<circle cx="128.07" cy="263.03" r="0.45" fill="#a9b9dc"/>
<circle cx="134.87" cy="263.18" r="0.45" fill="#a9b9dc"/>
<circle cx="116.8" cy="276.64" r="0.45" fill="#a9b9dc"/>
<circle cx="122.72" cy="269.36" r="0.45" fill="#a9b9dc"/>
<circle cx="124.26" cy="256.24" r="0.45" fill="#a9b9dc"/>
<circle cx="115.91" cy="264.11" r="0.45" fill="#a9b9dc"/>
<circle cx="133.58" cy="256.23" r="0.45" fill="#a9b9dc"/>
<circle cx="133.26" cy="268.15" r="0.45" fill="#a9b9dc"/>
<circle cx="116.42" cy="268.6" r="0.45" fill="#a9b9dc"/>
<circle cx="127.87" cy="257.24" r="0.45" fill="#a9b9dc"/>
<circle cx="116.44" cy="270.29" r="0.45" fill="#a9b9dc"/>
<circle cx="118.49" cy="251.59" r="0.45" fill="#a9b9dc"/>
<circle cx="122.36" cy="267.67" r="0.45" fill="#a9b9dc"/>
<circle cx="120.21" cy="254.51" r="0.45" fill="#a9b9dc"/>
<circle cx="125.45" cy="248.98" r="0.45" fill="#a9b9dc"/>
<circle cx="127.64" cy="270.77" r="0.45" fill="#a9b9dc"/>
<circle cx="135.42" cy="274.59" r="0.45" fill="#a9b9dc"/>
<circle cx="126.42" cy="268.56" r="0.45" fill="#a9b9dc"/>
<circle cx="124.19" cy="253.11" r="0.45" fill="#a9b9dc"/>
<circle cx="133.96" cy="271.12" r="0.45" fill="#a9b9dc"/>
<circle cx="122.05" cy="254.86" r="0.45" fill="#a9b9dc"/>
<circle cx="134.1" cy="271.17" r="0.45" fill="#a9b9dc"/>
<circle cx="115.94" cy="272.53" r="0.45" fill="#a9b9dc"/>
<circle cx="136.9" cy="265.78" r="0.45" fill="#a9b9dc"/>
<circle cx="126.72" cy="261.96" r="0.45" fill="#a9b9dc"/>
<circle cx="119.72" cy="276.43" r="0.45" fill="#a9b9dc"/>
<circle cx="144.94" cy="267.13" r="0.45" fill="#a9b9dc"/>
<circle cx="123.16" cy="273.71" r="0.45" fill="#a9b9dc"/>
<circle cx="121.93" cy="273.08" r="0.45" fill="#a9b9dc"/>
<circle cx="129.63" cy="256.13" r="0.45" fill="#a9b9dc"/>
<circle cx="116.71" cy="265.28" r="0.45" fill="#a9b9dc"/>
<circle cx="129.66" cy="268.69" r="0.45" fill="#a9b9dc"/>
<circle cx="132.44" cy="252.63" r="0.45" fill="#a9b9dc"/>
<circle cx="127.35" cy="259.96" r="0.45" fill="#a9b9dc"/>
<circle cx="124.68" cy="269.12" r="0.45" fill="#a9b9dc"/>
<circle cx="117.41" cy="263.78" r="0.45" fill="#a9b9dc"/>
<circle cx="116.09" cy="268.58" r="0.45" fill="#a9b9dc"/>
<circle cx="118.22" cy="261.21" r="0.45" fill="#a9b9dc"/>
<circle cx="125.49" cy="259.66" r="0.45" fill="#a9b9dc"/>
<circle cx="131.8" cy="259.82" r="0.45" fill="#a9b9dc"/>
<circle cx="129.77" cy="268.74" r="0.45" fill="#a9b9dc"/>
<circle cx="116.98" cy="263.88" r="0.45" fill="#a9b9dc"/>
<circle cx="118.32" cy="262.49" r="0.45" fill="#a9b9dc"/>
<circle cx="122.16" cy="283.64" r="0.45" fill="#a9b9dc"/>
<circle cx="121.16" cy="281.21" r="0.45" fill="#a9b9dc"/>
<circle cx="127.03" cy="253.33" r="0.45" fill="#a9b9dc"/>
<circle cx="130.98" cy="269.78" r="0.45" fill="#a9b9dc"/>
<circle cx="122.58" cy="263.57" r="0.45" fill="#a9b9dc"/>
<circle cx="125.76" cy="263.06" r="0.45" fill="#a9b9dc"/>
<circle cx="120.37" cy="262.42" r="0.45" fill="#a9b9dc"/>
<circle cx="131.94" cy="259.99" r="0.45" fill="#a9b9dc"/>
<circle cx="126.57" cy="254.85" r="0.45" fill="#a9b9dc"/>
<circle cx="119.17" cy="252.69" r="0.45" fill="#a9b9dc"/>
<circle cx="122.66" cy="272.61" r="0.45" fill="#a9b9dc"/>
<circle cx="126.07" cy="261.23" r="0.45" fill="#a9b9dc"/>
<circle cx="128.15" cy="262.64" r="0.45" fill="#a9b9dc"/>
<circle cx="126.52" cy="268.65" r="0.45" fill="#a9b9dc"/>
<circle cx="127.67" cy="242.02" r="0.45" fill="#a9b9dc"/>
<circle cx="115.17" cy="273.49" r="0.45" fill="#a9b9dc"/>
<circle cx="123.27" cy="287.72" r="0.45" fill="#a9b9dc"/>
<circle cx="122.41" cy="260.66" r="0.45" fill="#a9b9dc"/>
<circle cx="134.12" cy="271.38" r="0.45" fill="#a9b9dc"/>
<circle cx="136.86" cy="270.93" r="0.45" fill="#a9b9dc"/>
<circle cx="122.62" cy="273.01" r="0.45" fill="#a9b9dc"/>
<circle cx="118.66" cy="261.68" r="0.45" fill="#a9b9dc"/>
<circle cx="120.24" cy="263.85" r="0.45" fill="#a9b9dc"/>
<circle cx="129.27" cy="261.34" r="0.45" fill="#a9b9dc"/>
<circle cx="126.18" cy="261.18" r="0.45" fill="#a9b9dc"/>
<circle cx="129.98" cy="239.35" r="0.45" fill="#a9b9dc"/>
<circle cx="122.59" cy="267.63" r="0.45" fill="#a9b9dc"/>
<circle cx="116.7" cy="275.8" r="0.45" fill="#a9b9dc"/>
<circle cx="125.46" cy="278.39" r="0.45" fill="#a9b9dc"/>
<circle cx="130.51" cy="272.2" r="0.45" fill="#a9b9dc"/>
<circle cx="122.99" cy="255.5" r="0.45" fill="#a9b9dc"/>
<circle cx="122.51" cy="261.55" r="0.45" fill="#a9b9dc"/>
<circle cx="125.69" cy="261.5" r="0.45" fill="#a9b9dc"/>
<circle cx="144.67" cy="250.56" r="0.45" fill="#a9b9dc"/>
<circle cx="131.95" cy="261.46" r="0.45" fill="#a9b9dc"/>
<circle cx="122.36" cy="274.95" r="0.45" fill="#a9b9dc"/>
<circle cx="124.02" cy="254.28" r="0.45" fill="#a9b9dc"/>
<circle cx="126.8" cy="264.11" r="0.45" fill="#a9b9dc"/>
<circle cx="116.86" cy="258.81" r="0.45" fill="#a9b9dc"/>
<circle cx="127.26" cy="268.89" r="0.45" fill="#a9b9dc"/>
<circle cx="122.04" cy="286.96" r="0.45" fill="#a9b9dc"/>
<circle cx="126.84" cy="260.07" r="0.45" fill="#a9b9dc"/>
<circle cx="125.6" cy="264.83" r="0.45" fill="#a9b9dc"/>
<circle cx="114.6" cy="285.94" r="0.45" fill="#a9b9dc"/>
<circle cx="122.76" cy="263.33" r="0.45" fill="#a9b9dc"/>
<circle cx="120.18" cy="275.47" r="0.45" fill="#a9b9dc"/>
<circle cx="124.19" cy="282.47" r="0.45" fill="#a9b9dc"/>
<circle cx="129.33" cy="281.88" r="0.45" fill="#a9b9dc"/>
<circle cx="138.42" cy="259.62" r="0.45" fill="#c0cbe2"/>
<circle cx="134.15" cy="254.37" r="0.45" fill="#c0cbe2"/>
<circle cx="116.62" cy="250.39" r="0.45" fill="#c0cbe2"/>
<circle cx="127.15" cy="249.71" r="0.45" fill="#c0cbe2"/>
<circle cx="156.43" cy="258.52" r="0.45" fill="#c0cbe2"/>
<circle cx="156.55" cy="264.28" r="0.45" fill="#c0cbe2"/>
<circle cx="152.42" cy="265.69" r="0.45" fill="#c0cbe2"/>
<circle cx="131.83" cy="263.74" r="0.45" fill="#c0cbe2"/>
<circle cx="135.65" cy="250.89" r="0.45" fill="#c0cbe2"/>
<circle cx="156.13" cy="276.86" r="0.45" fill="#c0cbe2"/>
<circle cx="126.8" cy="272.75" r="0.45" fill="#c0cbe2"/>
<circle cx="151.21" cy="247.83" r="0.45" fill="#c0cbe2"/>
<circle cx="143.69" cy="259.58" r="0.45" fill="#c0cbe2"/>
<circle cx="145.06" cy="252.56" r="0.45" fill="#c0cbe2"/>
<circle cx="122.66" cy="256.3" r="0.45" fill="#c0cbe2"/>
<circle cx="151.62" cy="263.56" r="0.45" fill="#c0cbe2"/>
<circle cx="148.92" cy="266.62" r="0.45" fill="#c0cbe2"/>
<circle cx="126.63" cy="255.59" r="0.45" fill="#c0cbe2"/>
<circle cx="144.59" cy="265.63" r="0.45" fill="#c0cbe2"/>
<circle cx="142.1" cy="260.99" r="0.45" fill="#c0cbe2"/>
<circle cx="141.8" cy="276.22" r="0.45" fill="#c0cbe2"/>
<circle cx="173.39" cy="258.27" r="0.45" fill="#c0cbe2"/>
<circle cx="115.29" cy="257.29" r="0.45" fill="#c0cbe2"/>
<circle cx="120.66" cy="249.46" r="0.45" fill="#c0cbe2"/>
<circle cx="143.03" cy="272.51" r="0.45" fill="#c0cbe2"/>
<circle cx="146.24" cy="262.44" r="0.45" fill="#c0cbe2"/>
<circle cx="153.73" cy="257.93" r="0.45" fill="#c0cbe2"/>
<circle cx="128.44" cy="255.06" r="0.45" fill="#c0cbe2"/>
<circle cx="144.54" cy="253.33" r="0.45" fill="#c0cbe2"/>
<circle cx="131" cy="252.54" r="0.45" fill="#c0cbe2"/>
<circle cx="119.75" cy="246.13" r="0.45" fill="#c0cbe2"/>
<circle cx="138.78" cy="252.53" r="0.45" fill="#c0cbe2"/>
<circle cx="140.51" cy="269.52" r="0.45" fill="#c0cbe2"/>
<circle cx="144.04" cy="255.69" r="0.45" fill="#c0cbe2"/>
<circle cx="124.18" cy="245.62" r="0.45" fill="#c0cbe2"/>
<circle cx="145.06" cy="247.59" r="0.45" fill="#c0cbe2"/>
<circle cx="145.79" cy="245.66" r="0.45" fill="#c0cbe2"/>
<circle cx="141.81" cy="255.3" r="0.45" fill="#c0cbe2"/>
<circle cx="153.42" cy="252.22" r="0.45" fill="#c0cbe2"/>
<circle cx="134.98" cy="258.37" r="0.45" fill="#c0cbe2"/>
<circle cx="140.74" cy="272.26" r="0.45" fill="#c0cbe2"/>
<circle cx="136.53" cy="250.84" r="0.45" fill="#c0cbe2"/>
<circle cx="135.7" cy="260.56" r="0.45" fill="#c0cbe2"/>
<circle cx="143.15" cy="262.67" r="0.45" fill="#c0cbe2"/>
<circle cx="121.36" cy="279.84" r="0.45" fill="#c0cbe2"/>
<circle cx="164.79" cy="255.7" r="0.45" fill="#c0cbe2"/>
<circle cx="123.71" cy="257.49" r="0.45" fill="#c0cbe2"/>
<circle cx="145.59" cy="234.52" r="0.45" fill="#c0cbe2"/>
<circle cx="140.18" cy="241.78" r="0.45" fill="#c0cbe2"/>
<circle cx="146.17" cy="269.3" r="0.45" fill="#c0cbe2"/>
<circle cx="153.92" cy="241.51" r="0.45" fill="#c0cbe2"/>
<circle cx="158.61" cy="264.72" r="0.45" fill="#c0cbe2"/>
<circle cx="135.14" cy="260.83" r="0.45" fill="#c0cbe2"/>
<circle cx="160.44" cy="252.81" r="0.45" fill="#c0cbe2"/>
<circle cx="139.79" cy="250.62" r="0.45" fill="#c0cbe2"/>
<circle cx="155.58" cy="235.28" r="0.45" fill="#c0cbe2"/>
<circle cx="159.12" cy="246.69" r="0.45" fill="#c0cbe2"/>
<circle cx="152.48" cy="240.36" r="0.45" fill="#c0cbe2"/>
<circle cx="127.38" cy="250.25" r="0.45" fill="#c0cbe2"/>
<circle cx="151.16" cy="240.4" r="0.45" fill="#c0cbe2"/>
<path d="M113.5,250 C113,244.5 120,243.5 126,244.5 C132,245.5 137,248 138,252.5 C140,251.5 143,252.5 146.5,254.5 C150,256.5 153,258 157,259.5 C161,261 165,262 167.5,265 C169.5,268 168.5,274 168,279 C167.5,284 164,287.5 160,288 C155,288.5 150,288.5 146,287 C142.5,285.5 140.5,282 139.5,278.5 C138,282 134,285.5 128,285 C123,284.5 119,282 116.5,277 C114,271 113.5,262 113.5,250 Z" fill="#fff" stroke="#5a6788" stroke-width="0.75"/>
<path d="M115.5,262 C115.5,268 117,273 119,277 C121,280.5 124,281 126.5,279 C128,281 131,280 132.5,277 C134.5,272 135.5,268 136,264" fill="none" stroke="#6276a8" stroke-width="0.6"/>
<path d="M140.5,256 C146,256 152,259 157,262 C162,264.5 165.5,268 165.5,273 C165.5,279 163,284 158,285 C153,286 147,284 143,280 C140.5,276 140,268 140.5,256 Z" fill="none" stroke="#6b7fae" stroke-width="0.55"/>
<ellipse cx="125.2" cy="257.0" rx="10.4" ry="9.0" fill="#e3e9f6" stroke="none"/>
<ellipse cx="125" cy="257.2" rx="10.4" ry="9" fill="none" stroke="#7189c2" stroke-width="0.6"/>
<ellipse cx="125.1" cy="257.5" rx="8.6" ry="7.3" fill="none" stroke="#7189c2" stroke-width="0.6"/>
<ellipse cx="125.2" cy="257.8" rx="6.8" ry="5.7" fill="none" stroke="#7189c2" stroke-width="0.6"/>
<ellipse cx="125.2" cy="258" rx="5" ry="4.2" fill="none" stroke="#7189c2" stroke-width="0.6"/>
<ellipse cx="125.2" cy="258.2" rx="3.4" ry="2.9" fill="none" stroke="#7189c2" stroke-width="0.6"/>
<ellipse cx="125.2" cy="258.3" rx="2" ry="1.6" fill="none" stroke="#7189c2" stroke-width="0.6"/>
<ellipse cx="161.3" cy="272.5" rx="3.4" ry="5.2" fill="none" stroke="#5a6788" stroke-width="0.6"/>
<path d="M148.5,275 l2,0 M149.5,274 l0,2" stroke="#6b7fae" stroke-width="0.5"/>
<line x1="138" y1="222.4" x2="138" y2="298.8" stroke="#444" stroke-width="0.8" />
<line x1="111.3" y1="265.2" x2="191.2" y2="265.2" stroke="#444" stroke-width="0.8" />
<text x="113.8" y="231.6" font-size="5.2" fill="#333" stroke="#333" stroke-width="0.22" font-weight="bold">60%</text>
<text x="189.6" y="231.6" font-size="5.2" fill="#333" stroke="#333" stroke-width="0.22" text-anchor="end" font-weight="bold">6%</text>
<text x="113.8" y="296.2" font-size="5.2" fill="#333" stroke="#333" stroke-width="0.22" font-weight="bold">12%</text>
<text x="189.6" y="296.2" font-size="5.2" fill="#333" stroke="#333" stroke-width="0.22" text-anchor="end" font-weight="bold">22%</text>
<line x1="262.5" y1="212.1" x2="262.5" y2="301.4" stroke="#8a8a8a" stroke-width="0.8" />
<line x1="262.5" y1="301.4" x2="354.82" y2="301.4" stroke="#8a8a8a" stroke-width="0.8" />
<line x1="260.5" y1="301.4" x2="262.5" y2="301.4" stroke="#8a8a8a" stroke-width="0.7" />
<text x="257.4" y="303.4" font-size="5.6" fill="#333" stroke="#333" stroke-width="0.22" text-anchor="end">0</text>
<line x1="260.5" y1="283.54" x2="262.5" y2="283.54" stroke="#8a8a8a" stroke-width="0.7" />
<text x="257.4" y="285.54" font-size="5.6" fill="#333" stroke="#333" stroke-width="0.22" text-anchor="end">20</text>
<line x1="260.5" y1="265.68" x2="262.5" y2="265.68" stroke="#8a8a8a" stroke-width="0.7" />
<text x="257.4" y="267.68" font-size="5.6" fill="#333" stroke="#333" stroke-width="0.22" text-anchor="end">40</text>
<line x1="260.5" y1="247.82" x2="262.5" y2="247.82" stroke="#8a8a8a" stroke-width="0.7" />
<text x="257.4" y="249.82" font-size="5.6" fill="#333" stroke="#333" stroke-width="0.22" text-anchor="end">60</text>
<line x1="260.5" y1="229.96" x2="262.5" y2="229.96" stroke="#8a8a8a" stroke-width="0.7" />
<text x="257.4" y="231.96" font-size="5.6" fill="#333" stroke="#333" stroke-width="0.22" text-anchor="end">80</text>
<line x1="260.5" y1="212.1" x2="262.5" y2="212.1" stroke="#8a8a8a" stroke-width="0.7" />
<text x="257.4" y="214.1" font-size="5.6" fill="#333" stroke="#333" stroke-width="0.22" text-anchor="end">100</text>
<line x1="262.5" y1="301.4" x2="262.5" y2="303.4" stroke="#8a8a8a" stroke-width="0.7" />
<text x="262.5" y="311.6" font-size="6.6" fill="#222" stroke="#222" stroke-width="0.22" text-anchor="middle">0</text>
<line x1="285.58" y1="301.4" x2="285.58" y2="303.4" stroke="#8a8a8a" stroke-width="0.7" />
<text x="285.58" y="311.6" font-size="6.6" fill="#222" stroke="#222" stroke-width="0.22" text-anchor="middle">4</text>
<line x1="308.66" y1="301.4" x2="308.66" y2="303.4" stroke="#8a8a8a" stroke-width="0.7" />
<text x="308.66" y="311.6" font-size="6.6" fill="#222" stroke="#222" stroke-width="0.22" text-anchor="middle">8</text>
<line x1="331.74" y1="301.4" x2="331.74" y2="303.4" stroke="#8a8a8a" stroke-width="0.7" />
<text x="331.74" y="311.6" font-size="6.6" fill="#222" stroke="#222" stroke-width="0.22" text-anchor="middle">12</text>
<line x1="354.82" y1="301.4" x2="354.82" y2="303.4" stroke="#8a8a8a" stroke-width="0.7" />
<text x="354.82" y="311.6" font-size="6.6" fill="#222" stroke="#222" stroke-width="0.22" text-anchor="middle">16</text>
<text x="308.8" y="321.2" font-size="8.6" fill="#222" stroke="#222" stroke-width="0.22" text-anchor="middle">Day</text>
<line x1="274.04" y1="261.3" x2="274.04" y2="275.59" stroke="#111" stroke-width="0.9" />
<line x1="272.74" y1="261.3" x2="275.34" y2="261.3" stroke="#111" stroke-width="0.9" />
<line x1="272.74" y1="275.59" x2="275.34" y2="275.59" stroke="#111" stroke-width="0.9" />
<line x1="285.58" y1="254.96" x2="285.58" y2="272.82" stroke="#111" stroke-width="0.9" />
<line x1="284.28" y1="254.96" x2="286.88" y2="254.96" stroke="#111" stroke-width="0.9" />
<line x1="284.28" y1="272.82" x2="286.88" y2="272.82" stroke="#111" stroke-width="0.9" />
<line x1="297.12" y1="256.75" x2="297.12" y2="272.82" stroke="#111" stroke-width="0.9" />
<line x1="295.82" y1="256.75" x2="298.42" y2="256.75" stroke="#111" stroke-width="0.9" />
<line x1="295.82" y1="272.82" x2="298.42" y2="272.82" stroke="#111" stroke-width="0.9" />
<line x1="308.66" y1="244.34" x2="308.66" y2="271.13" stroke="#111" stroke-width="0.9" />
<line x1="307.36" y1="244.34" x2="309.96" y2="244.34" stroke="#111" stroke-width="0.9" />
<line x1="307.36" y1="271.13" x2="309.96" y2="271.13" stroke="#111" stroke-width="0.9" />
<line x1="320.2" y1="249.34" x2="320.2" y2="254.7" stroke="#111" stroke-width="0.9" />
<line x1="318.9" y1="249.34" x2="321.5" y2="249.34" stroke="#111" stroke-width="0.9" />
<line x1="318.9" y1="254.7" x2="321.5" y2="254.7" stroke="#111" stroke-width="0.9" />
<line x1="331.74" y1="244.52" x2="331.74" y2="260.59" stroke="#111" stroke-width="0.9" />
<line x1="330.44" y1="244.52" x2="333.04" y2="244.52" stroke="#111" stroke-width="0.9" />
<line x1="330.44" y1="260.59" x2="333.04" y2="260.59" stroke="#111" stroke-width="0.9" />
<line x1="343.28" y1="244.87" x2="343.28" y2="260.95" stroke="#111" stroke-width="0.9" />
<line x1="341.98" y1="244.87" x2="344.58" y2="244.87" stroke="#111" stroke-width="0.9" />
<line x1="341.98" y1="260.95" x2="344.58" y2="260.95" stroke="#111" stroke-width="0.9" />
<line x1="354.82" y1="233.35" x2="354.82" y2="256.57" stroke="#111" stroke-width="0.9" />
<line x1="353.52" y1="233.35" x2="356.12" y2="233.35" stroke="#111" stroke-width="0.9" />
<line x1="353.52" y1="256.57" x2="356.12" y2="256.57" stroke="#111" stroke-width="0.9" />
<line x1="274.04" y1="278" x2="274.04" y2="285.15" stroke="#111" stroke-width="0.9" />
<line x1="272.74" y1="278" x2="275.34" y2="278" stroke="#111" stroke-width="0.9" />
<line x1="272.74" y1="285.15" x2="275.34" y2="285.15" stroke="#111" stroke-width="0.9" />
<line x1="285.58" y1="273.45" x2="285.58" y2="280.59" stroke="#111" stroke-width="0.9" />
<line x1="284.28" y1="273.45" x2="286.88" y2="273.45" stroke="#111" stroke-width="0.9" />
<line x1="284.28" y1="280.59" x2="286.88" y2="280.59" stroke="#111" stroke-width="0.9" />
<line x1="297.12" y1="278.99" x2="297.12" y2="286.13" stroke="#111" stroke-width="0.9" />
<line x1="295.82" y1="278.99" x2="298.42" y2="278.99" stroke="#111" stroke-width="0.9" />
<line x1="295.82" y1="286.13" x2="298.42" y2="286.13" stroke="#111" stroke-width="0.9" />
<line x1="308.66" y1="270.23" x2="308.66" y2="289.88" stroke="#111" stroke-width="0.9" />
<line x1="307.36" y1="270.23" x2="309.96" y2="270.23" stroke="#111" stroke-width="0.9" />
<line x1="307.36" y1="289.88" x2="309.96" y2="289.88" stroke="#111" stroke-width="0.9" />
<line x1="320.2" y1="272.29" x2="320.2" y2="293.72" stroke="#111" stroke-width="0.9" />
<line x1="318.9" y1="272.29" x2="321.5" y2="272.29" stroke="#111" stroke-width="0.9" />
<line x1="318.9" y1="293.72" x2="321.5" y2="293.72" stroke="#111" stroke-width="0.9" />
<line x1="331.74" y1="270.86" x2="331.74" y2="292.29" stroke="#111" stroke-width="0.9" />
<line x1="330.44" y1="270.86" x2="333.04" y2="270.86" stroke="#111" stroke-width="0.9" />
<line x1="330.44" y1="292.29" x2="333.04" y2="292.29" stroke="#111" stroke-width="0.9" />
<line x1="343.28" y1="283.36" x2="343.28" y2="288.72" stroke="#111" stroke-width="0.9" />
<line x1="341.98" y1="283.36" x2="344.58" y2="283.36" stroke="#111" stroke-width="0.9" />
<line x1="341.98" y1="288.72" x2="344.58" y2="288.72" stroke="#111" stroke-width="0.9" />
<line x1="354.82" y1="283.81" x2="354.82" y2="294.52" stroke="#111" stroke-width="0.9" />
<line x1="353.52" y1="283.81" x2="356.12" y2="283.81" stroke="#111" stroke-width="0.9" />
<line x1="353.52" y1="294.52" x2="356.12" y2="294.52" stroke="#111" stroke-width="0.9" />
<polyline points="262.5,301.4 274.04,281.58 285.58,277.02 297.12,282.56 308.66,280.06 320.2,283 331.74,281.58 343.28,286.04 354.82,289.17" fill="none" stroke="#5479b4" stroke-width="1.3" />
<circle cx="262.5" cy="301.4" r="1.2" fill="#5479b4" stroke="#5479b4" stroke-width="0.2"/>
<circle cx="274.04" cy="281.58" r="1.2" fill="#5479b4" stroke="#5479b4" stroke-width="0.2"/>
<circle cx="285.58" cy="277.02" r="1.2" fill="#5479b4" stroke="#5479b4" stroke-width="0.2"/>
<circle cx="297.12" cy="282.56" r="1.2" fill="#5479b4" stroke="#5479b4" stroke-width="0.2"/>
<circle cx="308.66" cy="280.06" r="1.2" fill="#5479b4" stroke="#5479b4" stroke-width="0.2"/>
<circle cx="320.2" cy="283" r="1.2" fill="#5479b4" stroke="#5479b4" stroke-width="0.2"/>
<circle cx="331.74" cy="281.58" r="1.2" fill="#5479b4" stroke="#5479b4" stroke-width="0.2"/>
<circle cx="343.28" cy="286.04" r="1.2" fill="#5479b4" stroke="#5479b4" stroke-width="0.2"/>
<circle cx="354.82" cy="289.17" r="1.2" fill="#5479b4" stroke="#5479b4" stroke-width="0.2"/>
<polyline points="262.5,301.4 274.04,268.45 285.58,263.89 297.12,264.79 308.66,257.73 320.2,252.02 331.74,252.55 343.28,252.91 354.82,244.96" fill="none" stroke="#111" stroke-width="1.45" />
<circle cx="262.5" cy="301.4" r="1.3" fill="#000" stroke="#000" stroke-width="0.2"/>
<circle cx="274.04" cy="268.45" r="1.3" fill="#000" stroke="#000" stroke-width="0.2"/>
<circle cx="285.58" cy="263.89" r="1.3" fill="#000" stroke="#000" stroke-width="0.2"/>
<circle cx="297.12" cy="264.79" r="1.3" fill="#000" stroke="#000" stroke-width="0.2"/>
<circle cx="308.66" cy="257.73" r="1.3" fill="#000" stroke="#000" stroke-width="0.2"/>
<circle cx="320.2" cy="252.02" r="1.3" fill="#000" stroke="#000" stroke-width="0.2"/>
<circle cx="331.74" cy="252.55" r="1.3" fill="#000" stroke="#000" stroke-width="0.2"/>
<circle cx="343.28" cy="252.91" r="1.3" fill="#000" stroke="#000" stroke-width="0.2"/>
<circle cx="354.82" cy="244.96" r="1.3" fill="#000" stroke="#000" stroke-width="0.2"/>
<polygon points="274,251.86 274.63,253.14 276.03,253.34 275.02,254.33 275.26,255.73 274,255.07 272.74,255.73 272.98,254.33 271.97,253.34 273.37,253.14" fill="#000" stroke="#000" stroke-width="0.5" stroke-linejoin="round"/>
<polygon points="285.6,246.66 286.23,247.94 287.63,248.14 286.62,249.13 286.86,250.53 285.6,249.87 284.34,250.53 284.58,249.13 283.57,248.14 284.97,247.94" fill="#000" stroke="#000" stroke-width="0.5" stroke-linejoin="round"/>
<polygon points="297.1,246.66 297.73,247.94 299.13,248.14 298.12,249.13 298.36,250.53 297.1,249.87 295.84,250.53 296.08,249.13 295.07,248.14 296.47,247.94" fill="#000" stroke="#000" stroke-width="0.5" stroke-linejoin="round"/>
<polygon points="320.2,235.86 320.83,237.14 322.23,237.34 321.22,238.33 321.46,239.73 320.2,239.07 318.94,239.73 319.18,238.33 318.17,237.34 319.57,237.14" fill="#000" stroke="#000" stroke-width="0.5" stroke-linejoin="round"/>
<polygon points="331.7,231.26 332.33,232.54 333.73,232.74 332.72,233.73 332.96,235.13 331.7,234.47 330.44,235.13 330.68,233.73 329.67,232.74 331.07,232.54" fill="#000" stroke="#000" stroke-width="0.5" stroke-linejoin="round"/>
<polygon points="343.3,231.26 343.93,232.54 345.33,232.74 344.32,233.73 344.56,235.13 343.3,234.47 342.04,235.13 342.28,233.73 341.27,232.74 342.67,232.54" fill="#000" stroke="#000" stroke-width="0.5" stroke-linejoin="round"/>
<polygon points="354.8,220.26 355.43,221.54 356.83,221.74 355.82,222.73 356.06,224.13 354.8,223.47 353.54,224.13 353.78,222.73 352.77,221.74 354.17,221.54" fill="#000" stroke="#000" stroke-width="0.5" stroke-linejoin="round"/>
<line x1="267.7" y1="213.6" x2="278.7" y2="213.6" stroke="#111" stroke-width="1.1" />
<circle cx="273.2" cy="213.6" r="1.3" fill="#000" stroke="#000" stroke-width="0.2"/>
<text x="279.3" y="216.4" font-size="8.2" fill="#111" stroke="#111" stroke-width="0.22" textLength="25.6" lengthAdjust="spacingAndGlyphs">control</text>
<line x1="267.7" y1="224.6" x2="278.7" y2="224.6" stroke="#5479b4" stroke-width="1.1" />
<circle cx="273.2" cy="224.6" r="1.2" fill="#5479b4" stroke="#5479b4" stroke-width="0.2"/>
<text x="279.3" y="227.4" font-size="8.2" fill="#111" stroke="#111" stroke-width="0.22" textLength="13.6" lengthAdjust="spacingAndGlyphs">DL1</text>
<text transform="translate(231.6,257.3) rotate(-90)" font-size="8.6" fill="#111" stroke="#111" stroke-width="0.22" text-anchor="middle" textLength="47.3" lengthAdjust="spacingAndGlyphs">% mIL6R on</text>
<text transform="translate(243.4,257.3) rotate(-90)" font-size="8.6" fill="#111" stroke="#111" stroke-width="0.22" text-anchor="middle" textLength="81.4" lengthAdjust="spacingAndGlyphs">CD34+CD45RA- cells</text>
<line x1="410.4" y1="211.1" x2="410.4" y2="300.6" stroke="#8a8a8a" stroke-width="0.8" />
<line x1="410.4" y1="300.6" x2="510.8" y2="300.6" stroke="#8a8a8a" stroke-width="0.8" />
<line x1="408.4" y1="300.6" x2="410.4" y2="300.6" stroke="#8a8a8a" stroke-width="0.7" />
<text x="405.2" y="302.6" font-size="5.6" fill="#333" stroke="#333" stroke-width="0.22" text-anchor="end">0</text>
<line x1="408.4" y1="282.7" x2="410.4" y2="282.7" stroke="#8a8a8a" stroke-width="0.7" />
<text x="405.2" y="284.7" font-size="5.6" fill="#333" stroke="#333" stroke-width="0.22" text-anchor="end">20</text>
<line x1="408.4" y1="264.8" x2="410.4" y2="264.8" stroke="#8a8a8a" stroke-width="0.7" />
<text x="405.2" y="266.8" font-size="5.6" fill="#333" stroke="#333" stroke-width="0.22" text-anchor="end">40</text>
<line x1="408.4" y1="246.9" x2="410.4" y2="246.9" stroke="#8a8a8a" stroke-width="0.7" />
<text x="405.2" y="248.9" font-size="5.6" fill="#333" stroke="#333" stroke-width="0.22" text-anchor="end">60</text>
<line x1="408.4" y1="229" x2="410.4" y2="229" stroke="#8a8a8a" stroke-width="0.7" />
<text x="405.2" y="231" font-size="5.6" fill="#333" stroke="#333" stroke-width="0.22" text-anchor="end">80</text>
<line x1="408.4" y1="211.1" x2="410.4" y2="211.1" stroke="#8a8a8a" stroke-width="0.7" />
<text x="405.2" y="213.1" font-size="5.6" fill="#333" stroke="#333" stroke-width="0.22" text-anchor="end">100</text>
<line x1="410.4" y1="300.6" x2="410.4" y2="302.6" stroke="#8a8a8a" stroke-width="0.7" />
<text x="410.4" y="310.8" font-size="6.6" fill="#222" stroke="#222" stroke-width="0.22" text-anchor="middle">0</text>
<line x1="435.5" y1="300.6" x2="435.5" y2="302.6" stroke="#8a8a8a" stroke-width="0.7" />
<text x="435.5" y="310.8" font-size="6.6" fill="#222" stroke="#222" stroke-width="0.22" text-anchor="middle">4</text>
<line x1="460.6" y1="300.6" x2="460.6" y2="302.6" stroke="#8a8a8a" stroke-width="0.7" />
<text x="460.6" y="310.8" font-size="6.6" fill="#222" stroke="#222" stroke-width="0.22" text-anchor="middle">8</text>
<line x1="485.7" y1="300.6" x2="485.7" y2="302.6" stroke="#8a8a8a" stroke-width="0.7" />
<text x="485.7" y="310.8" font-size="6.6" fill="#222" stroke="#222" stroke-width="0.22" text-anchor="middle">12</text>
<line x1="510.8" y1="300.6" x2="510.8" y2="302.6" stroke="#8a8a8a" stroke-width="0.7" />
<text x="510.8" y="310.8" font-size="6.6" fill="#222" stroke="#222" stroke-width="0.22" text-anchor="middle">16</text>
<text x="462.3" y="320.4" font-size="8.6" fill="#222" stroke="#222" stroke-width="0.22" text-anchor="middle">Day</text>
<line x1="422.95" y1="263.37" x2="422.95" y2="279.48" stroke="#111" stroke-width="0.9" />
<line x1="421.65" y1="263.37" x2="424.25" y2="263.37" stroke="#111" stroke-width="0.9" />
<line x1="421.65" y1="279.48" x2="424.25" y2="279.48" stroke="#111" stroke-width="0.9" />
<line x1="435.5" y1="252.36" x2="435.5" y2="272.05" stroke="#111" stroke-width="0.9" />
<line x1="434.2" y1="252.36" x2="436.8" y2="252.36" stroke="#111" stroke-width="0.9" />
<line x1="434.2" y1="272.05" x2="436.8" y2="272.05" stroke="#111" stroke-width="0.9" />
<line x1="448.05" y1="260.77" x2="448.05" y2="270.62" stroke="#111" stroke-width="0.9" />
<line x1="446.75" y1="260.77" x2="449.35" y2="260.77" stroke="#111" stroke-width="0.9" />
<line x1="446.75" y1="270.62" x2="449.35" y2="270.62" stroke="#111" stroke-width="0.9" />
<line x1="460.6" y1="252.9" x2="460.6" y2="274.38" stroke="#111" stroke-width="0.9" />
<line x1="459.3" y1="252.9" x2="461.9" y2="252.9" stroke="#111" stroke-width="0.9" />
<line x1="459.3" y1="274.38" x2="461.9" y2="274.38" stroke="#111" stroke-width="0.9" />
<line x1="473.15" y1="242.16" x2="473.15" y2="260.06" stroke="#111" stroke-width="0.9" />
<line x1="471.85" y1="242.16" x2="474.45" y2="242.16" stroke="#111" stroke-width="0.9" />
<line x1="471.85" y1="260.06" x2="474.45" y2="260.06" stroke="#111" stroke-width="0.9" />
<line x1="485.7" y1="250.48" x2="485.7" y2="259.43" stroke="#111" stroke-width="0.9" />
<line x1="484.4" y1="250.48" x2="487" y2="250.48" stroke="#111" stroke-width="0.9" />
<line x1="484.4" y1="259.43" x2="487" y2="259.43" stroke="#111" stroke-width="0.9" />
<line x1="498.25" y1="229.98" x2="498.25" y2="256.83" stroke="#111" stroke-width="0.9" />
<line x1="496.95" y1="229.98" x2="499.55" y2="229.98" stroke="#111" stroke-width="0.9" />
<line x1="496.95" y1="256.83" x2="499.55" y2="256.83" stroke="#111" stroke-width="0.9" />
<line x1="510.8" y1="229.63" x2="510.8" y2="236.79" stroke="#111" stroke-width="0.9" />
<line x1="509.5" y1="229.63" x2="512.1" y2="229.63" stroke="#111" stroke-width="0.9" />
<line x1="509.5" y1="236.79" x2="512.1" y2="236.79" stroke="#111" stroke-width="0.9" />
<line x1="422.95" y1="279.12" x2="422.95" y2="289.86" stroke="#111" stroke-width="0.9" />
<line x1="421.65" y1="279.12" x2="424.25" y2="279.12" stroke="#111" stroke-width="0.9" />
<line x1="421.65" y1="289.86" x2="424.25" y2="289.86" stroke="#111" stroke-width="0.9" />
<line x1="435.5" y1="269.9" x2="435.5" y2="277.06" stroke="#111" stroke-width="0.9" />
<line x1="434.2" y1="269.9" x2="436.8" y2="269.9" stroke="#111" stroke-width="0.9" />
<line x1="434.2" y1="277.06" x2="436.8" y2="277.06" stroke="#111" stroke-width="0.9" />
<line x1="448.05" y1="271.15" x2="448.05" y2="287.26" stroke="#111" stroke-width="0.9" />
<line x1="446.75" y1="271.15" x2="449.35" y2="271.15" stroke="#111" stroke-width="0.9" />
<line x1="446.75" y1="287.26" x2="449.35" y2="287.26" stroke="#111" stroke-width="0.9" />
<line x1="460.6" y1="272.59" x2="460.6" y2="290.49" stroke="#111" stroke-width="0.9" />
<line x1="459.3" y1="272.59" x2="461.9" y2="272.59" stroke="#111" stroke-width="0.9" />
<line x1="459.3" y1="290.49" x2="461.9" y2="290.49" stroke="#111" stroke-width="0.9" />
<line x1="473.15" y1="273.48" x2="473.15" y2="289.59" stroke="#111" stroke-width="0.9" />
<line x1="471.85" y1="273.48" x2="474.45" y2="273.48" stroke="#111" stroke-width="0.9" />
<line x1="471.85" y1="289.59" x2="474.45" y2="289.59" stroke="#111" stroke-width="0.9" />
<line x1="485.7" y1="276.79" x2="485.7" y2="294.69" stroke="#111" stroke-width="0.9" />
<line x1="484.4" y1="276.79" x2="487" y2="276.79" stroke="#111" stroke-width="0.9" />
<line x1="484.4" y1="294.69" x2="487" y2="294.69" stroke="#111" stroke-width="0.9" />
<line x1="498.25" y1="273.66" x2="498.25" y2="287.98" stroke="#111" stroke-width="0.9" />
<line x1="496.95" y1="273.66" x2="499.55" y2="273.66" stroke="#111" stroke-width="0.9" />
<line x1="496.95" y1="287.98" x2="499.55" y2="287.98" stroke="#111" stroke-width="0.9" />
<line x1="510.8" y1="270.17" x2="510.8" y2="284.49" stroke="#111" stroke-width="0.9" />
<line x1="509.5" y1="270.17" x2="512.1" y2="270.17" stroke="#111" stroke-width="0.9" />
<line x1="509.5" y1="284.49" x2="512.1" y2="284.49" stroke="#111" stroke-width="0.9" />
<polyline points="410.4,300.6 422.95,284.49 435.5,273.48 448.05,279.21 460.6,281.54 473.15,281.54 485.7,285.74 498.25,280.82 510.8,277.33" fill="none" stroke="#5479b4" stroke-width="1.3" />
<circle cx="410.4" cy="300.6" r="1.2" fill="#5479b4" stroke="#5479b4" stroke-width="0.2"/>
<circle cx="422.95" cy="284.49" r="1.2" fill="#5479b4" stroke="#5479b4" stroke-width="0.2"/>
<circle cx="435.5" cy="273.48" r="1.2" fill="#5479b4" stroke="#5479b4" stroke-width="0.2"/>
<circle cx="448.05" cy="279.21" r="1.2" fill="#5479b4" stroke="#5479b4" stroke-width="0.2"/>
<circle cx="460.6" cy="281.54" r="1.2" fill="#5479b4" stroke="#5479b4" stroke-width="0.2"/>
<circle cx="473.15" cy="281.54" r="1.2" fill="#5479b4" stroke="#5479b4" stroke-width="0.2"/>
<circle cx="485.7" cy="285.74" r="1.2" fill="#5479b4" stroke="#5479b4" stroke-width="0.2"/>
<circle cx="498.25" cy="280.82" r="1.2" fill="#5479b4" stroke="#5479b4" stroke-width="0.2"/>
<circle cx="510.8" cy="277.33" r="1.2" fill="#5479b4" stroke="#5479b4" stroke-width="0.2"/>
<polyline points="410.4,300.6 422.95,271.42 435.5,262.2 448.05,265.7 460.6,263.64 473.15,251.11 485.7,254.96 498.25,243.41 510.8,233.21" fill="none" stroke="#111" stroke-width="1.45" />
<circle cx="410.4" cy="300.6" r="1.3" fill="#000" stroke="#000" stroke-width="0.2"/>
<circle cx="422.95" cy="271.42" r="1.3" fill="#000" stroke="#000" stroke-width="0.2"/>
<circle cx="435.5" cy="262.2" r="1.3" fill="#000" stroke="#000" stroke-width="0.2"/>
<circle cx="448.05" cy="265.7" r="1.3" fill="#000" stroke="#000" stroke-width="0.2"/>
<circle cx="460.6" cy="263.64" r="1.3" fill="#000" stroke="#000" stroke-width="0.2"/>
<circle cx="473.15" cy="251.11" r="1.3" fill="#000" stroke="#000" stroke-width="0.2"/>
<circle cx="485.7" cy="254.96" r="1.3" fill="#000" stroke="#000" stroke-width="0.2"/>
<circle cx="498.25" cy="243.41" r="1.3" fill="#000" stroke="#000" stroke-width="0.2"/>
<circle cx="510.8" cy="233.21" r="1.3" fill="#000" stroke="#000" stroke-width="0.2"/>
<polygon points="421.3,249.36 421.93,250.64 423.33,250.84 422.32,251.83 422.56,253.23 421.3,252.57 420.04,253.23 420.28,251.83 419.27,250.84 420.67,250.64" fill="#000" stroke="#000" stroke-width="0.5" stroke-linejoin="round"/>
<polygon points="447.3,245.06 447.93,246.34 449.33,246.54 448.32,247.53 448.56,248.93 447.3,248.27 446.04,248.93 446.28,247.53 445.27,246.54 446.67,246.34" fill="#000" stroke="#000" stroke-width="0.5" stroke-linejoin="round"/>
<polygon points="459.4,235.86 460.03,237.14 461.43,237.34 460.42,238.33 460.66,239.73 459.4,239.07 458.14,239.73 458.38,238.33 457.37,237.34 458.77,237.14" fill="#000" stroke="#000" stroke-width="0.5" stroke-linejoin="round"/>
<polygon points="473,230.66 473.63,231.94 475.03,232.14 474.02,233.13 474.26,234.53 473,233.87 471.74,234.53 471.98,233.13 470.97,232.14 472.37,231.94" fill="#000" stroke="#000" stroke-width="0.5" stroke-linejoin="round"/>
<polygon points="485.4,235.86 486.03,237.14 487.43,237.34 486.42,238.33 486.66,239.73 485.4,239.07 484.14,239.73 484.38,238.33 483.37,237.34 484.77,237.14" fill="#000" stroke="#000" stroke-width="0.5" stroke-linejoin="round"/>
<polygon points="497.5,218.26 498.13,219.54 499.53,219.74 498.52,220.73 498.76,222.13 497.5,221.47 496.24,222.13 496.48,220.73 495.47,219.74 496.87,219.54" fill="#000" stroke="#000" stroke-width="0.5" stroke-linejoin="round"/>
<polygon points="509,215.36 509.63,216.64 511.03,216.84 510.02,217.83 510.26,219.23 509,218.57 507.74,219.23 507.98,217.83 506.97,216.84 508.37,216.64" fill="#000" stroke="#000" stroke-width="0.5" stroke-linejoin="round"/>
<line x1="413.5" y1="213.8" x2="424.5" y2="213.8" stroke="#111" stroke-width="1.1" />
<circle cx="419" cy="213.8" r="1.3" fill="#000" stroke="#000" stroke-width="0.2"/>
<text x="425.1" y="216.6" font-size="8.2" fill="#111" stroke="#111" stroke-width="0.22" textLength="25.6" lengthAdjust="spacingAndGlyphs">control</text>
<line x1="413.5" y1="224.8" x2="424.5" y2="224.8" stroke="#5479b4" stroke-width="1.1" />
<circle cx="419" cy="224.8" r="1.2" fill="#5479b4" stroke="#5479b4" stroke-width="0.2"/>
<text x="425.1" y="227.6" font-size="8.2" fill="#111" stroke="#111" stroke-width="0.22" textLength="13.6" lengthAdjust="spacingAndGlyphs">DL1</text>
<text transform="translate(379.6,256.3) rotate(-90)" font-size="8.6" fill="#111" stroke="#111" stroke-width="0.22" text-anchor="middle" textLength="47.4" lengthAdjust="spacingAndGlyphs">% mIL6R on</text>
<text transform="translate(391.7,256.3) rotate(-90)" font-size="8.6" fill="#111" stroke="#111" stroke-width="0.22" text-anchor="middle" textLength="84.8" lengthAdjust="spacingAndGlyphs">CD34+CD45RA+ cells</text>
<text x="216.6" y="205.8" font-size="12.8" fill="#000" stroke="#000" stroke-width="0.22" font-weight="bold" textLength="8.3" lengthAdjust="spacingAndGlyphs">D</text>
<text x="230.8" y="204.8" font-size="11.4" fill="#222" stroke="#222" stroke-width="0.22" textLength="10.4" lengthAdjust="spacingAndGlyphs">(i)</text>
<text x="367.3" y="204.8" font-size="11.4" fill="#222" stroke="#222" stroke-width="0.22" textLength="11.2" lengthAdjust="spacingAndGlyphs">(ii)</text>
<line x1="60.3" y1="350.8" x2="60.3" y2="412.3" stroke="#8a8a8a" stroke-width="0.8" />
<line x1="60.3" y1="412.3" x2="164.6" y2="412.3" stroke="#8a8a8a" stroke-width="0.8" />
<line x1="58.1" y1="412.3" x2="60.3" y2="412.3" stroke="#8a8a8a" stroke-width="0.7" />
<text x="54" y="414.9" font-size="7.2" fill="#222" stroke="#222" stroke-width="0.22" text-anchor="end">0</text>
<line x1="58.1" y1="400" x2="60.3" y2="400" stroke="#8a8a8a" stroke-width="0.7" />
<text x="54" y="402.6" font-size="7.2" fill="#222" stroke="#222" stroke-width="0.22" text-anchor="end" textLength="16.1" lengthAdjust="spacingAndGlyphs">1000</text>
<line x1="58.1" y1="387.7" x2="60.3" y2="387.7" stroke="#8a8a8a" stroke-width="0.7" />
<text x="54" y="390.3" font-size="7.2" fill="#222" stroke="#222" stroke-width="0.22" text-anchor="end" textLength="16.1" lengthAdjust="spacingAndGlyphs">2000</text>
<line x1="58.1" y1="375.4" x2="60.3" y2="375.4" stroke="#8a8a8a" stroke-width="0.7" />
<text x="54" y="378" font-size="7.2" fill="#222" stroke="#222" stroke-width="0.22" text-anchor="end" textLength="16.1" lengthAdjust="spacingAndGlyphs">3000</text>
<line x1="58.1" y1="363.1" x2="60.3" y2="363.1" stroke="#8a8a8a" stroke-width="0.7" />
<text x="54" y="365.7" font-size="7.2" fill="#222" stroke="#222" stroke-width="0.22" text-anchor="end" textLength="16.1" lengthAdjust="spacingAndGlyphs">4000</text>
<line x1="58.1" y1="350.8" x2="60.3" y2="350.8" stroke="#8a8a8a" stroke-width="0.7" />
<text x="54" y="353.4" font-size="7.2" fill="#222" stroke="#222" stroke-width="0.22" text-anchor="end" textLength="16.1" lengthAdjust="spacingAndGlyphs">5000</text>
<line x1="60.4" y1="412.3" x2="60.4" y2="465" stroke="#8a8a8a" stroke-width="0.8" />
<line x1="86.4" y1="412.3" x2="86.4" y2="447.7" stroke="#8a8a8a" stroke-width="0.8" />
<line x1="112.4" y1="412.3" x2="112.4" y2="465" stroke="#8a8a8a" stroke-width="0.8" />
<line x1="138.6" y1="412.3" x2="138.6" y2="447.7" stroke="#8a8a8a" stroke-width="0.8" />
<line x1="164.6" y1="412.3" x2="164.6" y2="465" stroke="#8a8a8a" stroke-width="0.8" />
<rect x="66.3" y="390.8" width="14.4" height="21.5" fill="#000" />
<line x1="73.5" y1="385.4" x2="73.5" y2="390.8" stroke="#222" stroke-width="0.9" />
<line x1="71.9" y1="385.4" x2="75.1" y2="385.4" stroke="#222" stroke-width="0.9" />
<rect x="92.4" y="404.19" width="14.4" height="8.11" fill="#000" />
<line x1="99.6" y1="401.21" x2="99.6" y2="404.19" stroke="#222" stroke-width="0.9" />
<line x1="98" y1="401.21" x2="101.2" y2="401.21" stroke="#222" stroke-width="0.9" />
<rect x="119.2" y="363.35" width="13.2" height="48.95" fill="#4872c0" stroke="#1a2f5c" stroke-width="1.1" />
<line x1="125.8" y1="356.9" x2="125.8" y2="362.8" stroke="#222" stroke-width="0.9" />
<line x1="124.2" y1="356.9" x2="127.4" y2="356.9" stroke="#222" stroke-width="0.9" />
<rect x="145.3" y="389.46" width="13.2" height="22.84" fill="#4872c0" stroke="#1a2f5c" stroke-width="1.1" />
<line x1="151.9" y1="381.5" x2="151.9" y2="388.91" stroke="#222" stroke-width="0.9" />
<line x1="150.3" y1="381.5" x2="153.5" y2="381.5" stroke="#222" stroke-width="0.9" />
<line x1="74.6" y1="374.6" x2="100" y2="374.6" stroke="#888" stroke-width="1" />
<line x1="125.4" y1="350.3" x2="150.8" y2="350.3" stroke="#888" stroke-width="1" />
<polygon points="87.7,366.79 88.26,367.93 89.52,368.11 88.61,369 88.82,370.25 87.7,369.66 86.58,370.25 86.79,369 85.88,368.11 87.14,367.93" fill="#000" stroke="#000" stroke-width="0.5" stroke-linejoin="round"/>
<polygon points="136.6,342.09 137.16,343.23 138.42,343.41 137.51,344.3 137.72,345.55 136.6,344.96 135.48,345.55 135.69,344.3 134.78,343.41 136.04,343.23" fill="#000" stroke="#000" stroke-width="0.5" stroke-linejoin="round"/>
<text transform="translate(77.1,418.8) rotate(-90)" font-size="8.8" fill="#111" stroke="#111" stroke-width="0.22" text-anchor="end" textLength="28.5" lengthAdjust="spacingAndGlyphs">non-FB</text>
<text transform="translate(103.2,418.8) rotate(-90)" font-size="8.8" fill="#111" stroke="#111" stroke-width="0.22" text-anchor="end" textLength="8.9" lengthAdjust="spacingAndGlyphs">FB</text>
<text transform="translate(129.4,418.8) rotate(-90)" font-size="8.8" fill="#111" stroke="#111" stroke-width="0.22" text-anchor="end" textLength="28.5" lengthAdjust="spacingAndGlyphs">non-FB</text>
<text transform="translate(155.5,418.8) rotate(-90)" font-size="8.8" fill="#111" stroke="#111" stroke-width="0.22" text-anchor="end" textLength="8.9" lengthAdjust="spacingAndGlyphs">FB</text>
<text x="86" y="462.8" font-size="8.8" fill="#111" stroke="#111" stroke-width="0.22" text-anchor="middle" textLength="19.5" lengthAdjust="spacingAndGlyphs">-DL1</text>
<text x="138.4" y="462.8" font-size="8.8" fill="#111" stroke="#111" stroke-width="0.22" text-anchor="middle" textLength="19.8" lengthAdjust="spacingAndGlyphs">+DL1</text>
<text transform="translate(28.6,405) rotate(-90)" font-size="9.6" fill="#111" stroke="#111" stroke-width="0.22" text-anchor="middle" textLength="69" lengthAdjust="spacingAndGlyphs">[sIL-6R] (pg/mL)</text>
<text x="0.8" y="349.2" font-size="12.8" fill="#000" stroke="#000" stroke-width="0.22" font-weight="bold" textLength="7.3" lengthAdjust="spacingAndGlyphs">E</text>
<line x1="237" y1="363" x2="237" y2="446.6" stroke="#8a8a8a" stroke-width="0.8" />
<line x1="237" y1="446.6" x2="301.8" y2="446.6" stroke="#8a8a8a" stroke-width="0.8" />
<line x1="234.8" y1="446.6" x2="237" y2="446.6" stroke="#8a8a8a" stroke-width="0.7" />
<text x="230.6" y="449.5" font-size="8" fill="#222" stroke="#222" stroke-width="0.22" text-anchor="end">0</text>
<line x1="234.8" y1="425.7" x2="237" y2="425.7" stroke="#8a8a8a" stroke-width="0.7" />
<text x="230.6" y="428.6" font-size="8" fill="#222" stroke="#222" stroke-width="0.22" text-anchor="end">20</text>
<line x1="234.8" y1="404.8" x2="237" y2="404.8" stroke="#8a8a8a" stroke-width="0.7" />
<text x="230.6" y="407.7" font-size="8" fill="#222" stroke="#222" stroke-width="0.22" text-anchor="end">40</text>
<line x1="234.8" y1="383.9" x2="237" y2="383.9" stroke="#8a8a8a" stroke-width="0.7" />
<text x="230.6" y="386.8" font-size="8" fill="#222" stroke="#222" stroke-width="0.22" text-anchor="end">60</text>
<line x1="234.8" y1="363" x2="237" y2="363" stroke="#8a8a8a" stroke-width="0.7" />
<text x="230.6" y="365.9" font-size="8" fill="#222" stroke="#222" stroke-width="0.22" text-anchor="end">80</text>
<line x1="237" y1="446.6" x2="237" y2="449" stroke="#8a8a8a" stroke-width="0.7" />
<line x1="269.5" y1="446.6" x2="269.5" y2="449" stroke="#8a8a8a" stroke-width="0.7" />
<line x1="301.8" y1="446.6" x2="301.8" y2="449" stroke="#8a8a8a" stroke-width="0.7" />
<rect x="244.2" y="398.22" width="18.6" height="48.38" fill="#000" />
<line x1="253.5" y1="388.08" x2="253.5" y2="398.22" stroke="#000" stroke-width="0.9" />
<line x1="251.9" y1="388.08" x2="255.1" y2="388.08" stroke="#000" stroke-width="0.9" />
<rect x="276.2" y="373.66" width="18.6" height="72.94" fill="#000" />
<line x1="285.5" y1="365.93" x2="285.5" y2="373.66" stroke="#000" stroke-width="0.9" />
<line x1="283.9" y1="365.93" x2="287.1" y2="365.93" stroke="#000" stroke-width="0.9" />
<text x="253.5" y="463.8" font-size="9.2" fill="#111" stroke="#111" stroke-width="0.22" text-anchor="middle" textLength="18.6" lengthAdjust="spacingAndGlyphs">-DL1</text>
<text x="285.5" y="463.8" font-size="9.2" fill="#111" stroke="#111" stroke-width="0.22" text-anchor="middle" textLength="20.5" lengthAdjust="spacingAndGlyphs">+DL1</text>
<text transform="translate(216.4,405) rotate(-90)" font-size="10.4" fill="#111" stroke="#111" stroke-width="0.22" text-anchor="middle" textLength="59.3" lengthAdjust="spacingAndGlyphs">% ADAM17+</text>
<text x="203.9" y="349.2" font-size="12.8" fill="#000" stroke="#000" stroke-width="0.22" font-weight="bold" textLength="7.1" lengthAdjust="spacingAndGlyphs">F</text>
<line x1="357.5" y1="372.4" x2="357.5" y2="448" stroke="#8a8a8a" stroke-width="0.8" />
<line x1="357.5" y1="448" x2="417.6" y2="448" stroke="#8a8a8a" stroke-width="0.8" />
<line x1="355.3" y1="448" x2="357.5" y2="448" stroke="#8a8a8a" stroke-width="0.7" />
<text x="351.2" y="450.6" font-size="7.2" fill="#222" stroke="#222" stroke-width="0.22" text-anchor="end">0</text>
<line x1="355.3" y1="429.1" x2="357.5" y2="429.1" stroke="#8a8a8a" stroke-width="0.7" />
<text x="351.2" y="431.7" font-size="7.2" fill="#222" stroke="#222" stroke-width="0.22" text-anchor="end">20</text>
<line x1="355.3" y1="410.2" x2="357.5" y2="410.2" stroke="#8a8a8a" stroke-width="0.7" />
<text x="351.2" y="412.8" font-size="7.2" fill="#222" stroke="#222" stroke-width="0.22" text-anchor="end">40</text>
<line x1="355.3" y1="391.3" x2="357.5" y2="391.3" stroke="#8a8a8a" stroke-width="0.7" />
<text x="351.2" y="393.9" font-size="7.2" fill="#222" stroke="#222" stroke-width="0.22" text-anchor="end">60</text>
<line x1="355.3" y1="372.4" x2="357.5" y2="372.4" stroke="#8a8a8a" stroke-width="0.7" />
<text x="351.2" y="375" font-size="7.2" fill="#222" stroke="#222" stroke-width="0.22" text-anchor="end">80</text>
<line x1="357.5" y1="448" x2="357.5" y2="450.4" stroke="#8a8a8a" stroke-width="0.7" />
<line x1="387.55" y1="448" x2="387.55" y2="450.4" stroke="#8a8a8a" stroke-width="0.7" />
<line x1="417.6" y1="448" x2="417.6" y2="450.4" stroke="#8a8a8a" stroke-width="0.7" />
<rect x="364.45" y="384.78" width="17.6" height="63.22" fill="#000" />
<line x1="373.25" y1="375.8" x2="373.25" y2="384.78" stroke="#000" stroke-width="0.9" />
<line x1="371.65" y1="375.8" x2="374.85" y2="375.8" stroke="#000" stroke-width="0.9" />
<rect x="394.05" y="425.32" width="17.6" height="22.68" fill="#000" />
<line x1="402.85" y1="423.15" x2="402.85" y2="425.32" stroke="#000" stroke-width="0.9" />
<line x1="401.25" y1="423.15" x2="404.45" y2="423.15" stroke="#000" stroke-width="0.9" />
<text x="372.6" y="463.8" font-size="8.6" fill="#111" stroke="#111" stroke-width="0.22" text-anchor="middle" textLength="16.5" lengthAdjust="spacingAndGlyphs">-DL1</text>
<text x="403" y="463.8" font-size="8.6" fill="#111" stroke="#111" stroke-width="0.22" text-anchor="middle" textLength="18.5" lengthAdjust="spacingAndGlyphs">+DL1</text>
<text transform="translate(338.9,410.7) rotate(-90)" font-size="8.6" fill="#111" stroke="#111" stroke-width="0.22" text-anchor="middle" textLength="38.5" lengthAdjust="spacingAndGlyphs">% CD126+</text>
<line x1="459" y1="370" x2="459" y2="447.1" stroke="#8a8a8a" stroke-width="0.8" />
<line x1="459" y1="447.1" x2="519" y2="447.1" stroke="#8a8a8a" stroke-width="0.8" />
<line x1="456.8" y1="447.1" x2="459" y2="447.1" stroke="#8a8a8a" stroke-width="0.7" />
<text x="452.1" y="449.7" font-size="7.2" fill="#222" stroke="#222" stroke-width="0.22" text-anchor="end">0</text>
<line x1="456.8" y1="434.25" x2="459" y2="434.25" stroke="#8a8a8a" stroke-width="0.7" />
<text x="452.1" y="436.85" font-size="7.2" fill="#222" stroke="#222" stroke-width="0.22" text-anchor="end">5</text>
<line x1="456.8" y1="421.4" x2="459" y2="421.4" stroke="#8a8a8a" stroke-width="0.7" />
<text x="452.1" y="424" font-size="7.2" fill="#222" stroke="#222" stroke-width="0.22" text-anchor="end">10</text>
<line x1="456.8" y1="408.55" x2="459" y2="408.55" stroke="#8a8a8a" stroke-width="0.7" />
<text x="452.1" y="411.15" font-size="7.2" fill="#222" stroke="#222" stroke-width="0.22" text-anchor="end">15</text>
<line x1="456.8" y1="395.7" x2="459" y2="395.7" stroke="#8a8a8a" stroke-width="0.7" />
<text x="452.1" y="398.3" font-size="7.2" fill="#222" stroke="#222" stroke-width="0.22" text-anchor="end">20</text>
<line x1="456.8" y1="382.85" x2="459" y2="382.85" stroke="#8a8a8a" stroke-width="0.7" />
<text x="452.1" y="385.45" font-size="7.2" fill="#222" stroke="#222" stroke-width="0.22" text-anchor="end">25</text>
<line x1="456.8" y1="370" x2="459" y2="370" stroke="#8a8a8a" stroke-width="0.7" />
<text x="452.1" y="372.6" font-size="7.2" fill="#222" stroke="#222" stroke-width="0.22" text-anchor="end">30</text>
<line x1="459" y1="447.1" x2="459" y2="449.5" stroke="#8a8a8a" stroke-width="0.7" />
<line x1="489" y1="447.1" x2="489" y2="449.5" stroke="#8a8a8a" stroke-width="0.7" />
<line x1="519" y1="447.1" x2="519" y2="449.5" stroke="#8a8a8a" stroke-width="0.7" />
<rect x="465.65" y="396.99" width="17.6" height="50.11" fill="#000" />
<line x1="474.45" y1="382.08" x2="474.45" y2="396.99" stroke="#000" stroke-width="0.9" />
<line x1="472.85" y1="382.08" x2="476.05" y2="382.08" stroke="#000" stroke-width="0.9" />
<rect x="495.35" y="399.81" width="17.6" height="47.29" fill="#000" />
<line x1="504.15" y1="391.07" x2="504.15" y2="399.81" stroke="#000" stroke-width="0.9" />
<line x1="502.55" y1="391.07" x2="505.75" y2="391.07" stroke="#000" stroke-width="0.9" />
<text x="474.6" y="464" font-size="8.6" fill="#111" stroke="#111" stroke-width="0.22" text-anchor="middle" textLength="16.5" lengthAdjust="spacingAndGlyphs">-DL1</text>
<text x="504" y="464" font-size="8.6" fill="#111" stroke="#111" stroke-width="0.22" text-anchor="middle" textLength="18.5" lengthAdjust="spacingAndGlyphs">+DL1</text>
<text transform="translate(436.9,410.4) rotate(-90)" font-size="8.6" fill="#111" stroke="#111" stroke-width="0.22" text-anchor="middle" textLength="40.6" lengthAdjust="spacingAndGlyphs">% CD126+</text>
<line x1="373.6" y1="367.5" x2="399.3" y2="367.5" stroke="#888" stroke-width="1" />
<polygon points="385.7,360.79 386.26,361.93 387.52,362.11 386.61,363 386.82,364.25 385.7,363.66 384.58,364.25 384.79,363 383.88,362.11 385.14,361.93" fill="#000" stroke="#000" stroke-width="0.5" stroke-linejoin="round"/>
<text x="322.6" y="349.7" font-size="13" fill="#000" stroke="#000" stroke-width="0.22" font-weight="bold" textLength="9.4" lengthAdjust="spacingAndGlyphs">G</text>
<text x="342.6" y="353.9" font-size="10.4" fill="#222" stroke="#222" stroke-width="0.22" textLength="7.8" lengthAdjust="spacingAndGlyphs">(i)</text>
<text x="355.7" y="354.2" font-size="11.4" fill="#111" stroke="#111" stroke-width="0.22" textLength="40.2" lengthAdjust="spacingAndGlyphs">surface</text>
<text x="431.6" y="354" font-size="10.6" fill="#222" stroke="#222" stroke-width="0.22" textLength="11.4" lengthAdjust="spacingAndGlyphs">(ii)</text>
<text x="449.5" y="354" font-size="11.4" fill="#111" stroke="#111" stroke-width="0.22" textLength="63.4" lengthAdjust="spacingAndGlyphs">intracellular</text>
<text x="0.8" y="491.9" font-size="13" fill="#000" stroke="#000" stroke-width="0.22" font-weight="bold" textLength="7.8" lengthAdjust="spacingAndGlyphs">H</text>
<line x1="18.8" y1="554.5" x2="308" y2="554.5" stroke="#222" stroke-width="1.2" />
<line x1="18.8" y1="634.7" x2="309.5" y2="634.7" stroke="#222" stroke-width="1.2" />
<text x="15" y="526.7" font-size="11" fill="#111" stroke="#111" stroke-width="0.22" textLength="25.2" lengthAdjust="spacingAndGlyphs">- DL1</text>
<text x="15" y="541.3" font-size="11" fill="#111" stroke="#111" stroke-width="0.22" textLength="18.2" lengthAdjust="spacingAndGlyphs">- FB</text>
<text x="15" y="598.9" font-size="11" fill="#111" stroke="#111" stroke-width="0.22" textLength="27" lengthAdjust="spacingAndGlyphs">+ DL1</text>
<text x="15" y="613.9" font-size="11" fill="#111" stroke="#111" stroke-width="0.22" textLength="18.2" lengthAdjust="spacingAndGlyphs">- FB</text>
<text x="15" y="678.8" font-size="11" fill="#111" stroke="#111" stroke-width="0.22" textLength="27" lengthAdjust="spacingAndGlyphs">+ DL1</text>
<text x="15" y="693.8" font-size="11" fill="#111" stroke="#111" stroke-width="0.22" textLength="20.4" lengthAdjust="spacingAndGlyphs">+ FB</text>
<ellipse cx="115.9" cy="526.8" rx="23.5" ry="22.7" fill="none" stroke="#1a1a1a" stroke-width="1.3"/>
<text x="73.8" y="491" font-size="5.8" fill="#9a3a52" stroke="#9a3a52" stroke-width="0.22" textLength="13" lengthAdjust="spacingAndGlyphs">sIL6R</text>
<polygon points="89.2,484 93.1,488 97,484 97,499 93.1,504.2 89.2,499" fill="#b3202c" />
<rect x="108.7" y="488.1" width="11.5" height="25.6" fill="#57308a" />
<polygon points="111,488.1 118,488.1 118,490.8 114.5,494.2 111,490.8" fill="#fff" />
<polygon points="111.2,493.6 114.6,496.6 118,493.6 118,510.8 114.6,514 111.2,510.8" fill="#b3202c" />
<text x="55" y="518.6" font-size="7" fill="#9a3a52" stroke="#9a3a52" stroke-width="0.22" textLength="36.2" lengthAdjust="spacingAndGlyphs">IL6 signaling</text>
<rect x="75.7" y="521.9" width="25.6" height="1.5" fill="#57308a" />
<rect x="75.7" y="533.6" width="25.6" height="1.5" fill="#57308a" />
<polygon points="72.8,525.9 97.5,525.9 100.9,529.15 97.5,532.4 72.8,532.4" fill="#b3202c" />
<polyline points="79.6,525.9 83,529.15 79.6,532.4" fill="none" stroke="#f2d8d8" stroke-width="1" />
<text x="104.8" y="525.2" font-size="7.4" fill="#222" stroke="#222" stroke-width="0.22" font-weight="bold" textLength="17.1" lengthAdjust="spacingAndGlyphs">STAT3</text>
<text x="104.8" y="534.1" font-size="7.8" fill="#222" stroke="#222" stroke-width="0.22" textLength="29" lengthAdjust="spacingAndGlyphs">activation</text>
<text x="149.5" y="511.2" font-size="7" fill="#111" stroke="#111" stroke-width="0.22" textLength="47.3" lengthAdjust="spacingAndGlyphs">IL6 cis-signaling</text>
<polygon points="148.6,514.6 202.2,514.6 202.2,512 208,517 202.2,522 202.2,519.4 148.6,519.4" fill="#fff" stroke="#111" stroke-width="1" stroke-linejoin="miter"/>
<text x="149.5" y="532.2" font-size="7" fill="#111" stroke="#111" stroke-width="0.22" textLength="54" lengthAdjust="spacingAndGlyphs">IL6 trans-signaling</text>
<polygon points="148.6,536.2 202.2,536.2 202.2,533.5 208,538.5 202.2,543.5 202.2,540.8 148.6,540.8" fill="#fff" stroke="#111" stroke-width="1" stroke-linejoin="miter"/>
<circle cx="241.5" cy="509.5" r="13.9" fill="none" stroke="#7e3346" stroke-width="1.1"/>
<circle cx="227" cy="535.9" r="14" fill="none" stroke="#7e3346" stroke-width="1.1"/>
<circle cx="257.6" cy="535.6" r="14.1" fill="none" stroke="#6fae66" stroke-width="1.1"/>
<text x="232.1" y="508.9" font-size="7.0" fill="#9a3a52" textLength="18.5" lengthAdjust="spacingAndGlyphs">CD14<tspan font-size="4" dy="-2.6">+</tspan><tspan dy="2.6">/</tspan></text>
<text x="232.1" y="516.3" font-size="7.0" fill="#9a3a52" textLength="15.5" lengthAdjust="spacingAndGlyphs">CD15<tspan font-size="4" dy="-2.6">+</tspan></text>
<text x="217.6" y="535.3" font-size="7.0" fill="#9a3a52" textLength="18.5" lengthAdjust="spacingAndGlyphs">CD14<tspan font-size="4" dy="-2.6">+</tspan><tspan dy="2.6">/</tspan></text>
<text x="217.6" y="542.7" font-size="7.0" fill="#9a3a52" textLength="15.5" lengthAdjust="spacingAndGlyphs">CD15<tspan font-size="4" dy="-2.6">+</tspan></text>
<text x="307" y="520.5" font-size="7" fill="#111" stroke="#111" stroke-width="0.22" text-anchor="middle" textLength="42.7" lengthAdjust="spacingAndGlyphs">Un-supportive</text>
<text x="307" y="530" font-size="7" fill="#111" stroke="#111" stroke-width="0.22" text-anchor="middle" textLength="56.8" lengthAdjust="spacingAndGlyphs">microenvironment</text>
<circle cx="115.5" cy="606.7" r="23.8" fill="none" stroke="#1a1a1a" stroke-width="1.3"/>
<polygon points="77,557.5 81,561.5 85,557.5 85,572.3 81,577.5 77,572.3" fill="#b3202c" />
<polygon points="89.5,562.5 93.35,566.5 97.2,562.5 97.2,577.3 93.35,582.5 89.5,577.3" fill="#b3202c" />
<rect x="110.9" y="569.3" width="2.5" height="24.8" fill="#57308a" />
<rect x="120.1" y="569.3" width="2.5" height="24.8" fill="#57308a" />
<polyline points="115.9,584.5 115.9,563.6 102,563.6" fill="none" stroke="#111" stroke-width="0.9" />
<polygon points="98.9,563.6 102.6,561.6 102.6,565.6" fill="#111" />
<text x="107" y="562.9" font-size="6.6" fill="#111" stroke="#111" stroke-width="0.22" textLength="36.1" lengthAdjust="spacingAndGlyphs">Loss of mIL6R</text>
<text x="50" y="598.6" font-size="7" fill="#3d70c0" stroke="#3d70c0" stroke-width="0.22" textLength="40" lengthAdjust="spacingAndGlyphs">DL1 signaling</text>
<polygon points="62.4,601.7 82,601.7 84.6,605.9 98.7,605.9 98.7,611 73,611 73,605.9 62.4,605.9" fill="#3d70c0" />
<line x1="73" y1="606" x2="83.4" y2="606" stroke="#8fb0e0" stroke-width="0.5" />
<text x="102.2" y="603.5" font-size="7.4" fill="#222" stroke="#222" stroke-width="0.22" font-weight="bold" textLength="17.7" lengthAdjust="spacingAndGlyphs">STAT3</text>
<text x="102.2" y="612.4" font-size="7.8" fill="#222" stroke="#222" stroke-width="0.22" textLength="29.6" lengthAdjust="spacingAndGlyphs">activation</text>
<text x="150.4" y="584.5" font-size="7" fill="#111" stroke="#111" stroke-width="0.22" textLength="46.4" lengthAdjust="spacingAndGlyphs">IL6 cis-signaling</text>
<polygon points="148.4,592.5 203.5,592.5 203.5,589.7 208.3,594.7 203.5,599.7 203.5,596.9 148.4,596.9" fill="#fff" stroke="#111" stroke-width="1" stroke-linejoin="miter"/>
<text x="150.4" y="609.6" font-size="7" fill="#111" stroke="#111" stroke-width="0.22" textLength="53.8" lengthAdjust="spacingAndGlyphs">IL6 trans-signaling</text>
<polygon points="148.4,613.3 203.5,613.3 203.5,610.9 208.3,615.6 203.5,620.3 203.5,617.9 148.4,617.9" fill="#fff" stroke="#111" stroke-width="1" stroke-linejoin="miter"/>
<path d="M169.6,589.4 L178.6,600.2 M178.6,589.4 L169.6,600.2" stroke="#000" stroke-width="3.1" stroke-linecap="butt"/>
<circle cx="243.8" cy="587.6" r="14.1" fill="none" stroke="#6fae66" stroke-width="1.1"/>
<circle cx="229.6" cy="614.4" r="14.1" fill="none" stroke="#7e3346" stroke-width="1.1"/>
<circle cx="260" cy="613.7" r="14.3" fill="none" stroke="#6fae66" stroke-width="1.1"/>
<text x="220.2" y="613.8" font-size="7.0" fill="#9a3a52" textLength="18.5" lengthAdjust="spacingAndGlyphs">CD14<tspan font-size="4" dy="-2.6">+</tspan><tspan dy="2.6">/</tspan></text>
<text x="220.2" y="621.2" font-size="7.0" fill="#9a3a52" textLength="15.5" lengthAdjust="spacingAndGlyphs">CD15<tspan font-size="4" dy="-2.6">+</tspan></text>
<text x="312" y="594.4" font-size="7" fill="#111" stroke="#111" stroke-width="0.22" text-anchor="middle" textLength="50" lengthAdjust="spacingAndGlyphs">Semi-supportive</text>
<text x="311.8" y="602.4" font-size="7" fill="#111" stroke="#111" stroke-width="0.22" text-anchor="middle" textLength="57.5" lengthAdjust="spacingAndGlyphs">microenvironment</text>
<circle cx="115.6" cy="684.7" r="24" fill="none" stroke="#1a1a1a" stroke-width="1.3"/>
<text x="31.2" y="646" font-size="6.4" fill="#111" stroke="#111" stroke-width="0.22" textLength="48.8" lengthAdjust="spacingAndGlyphs">Reduction of sIL6R</text>
<line x1="82.3" y1="649.5" x2="63.5" y2="649.5" stroke="#111" stroke-width="0.9" />
<polygon points="60.6,649.5 64.4,647.5 64.4,651.5" fill="#111" />
<polygon points="87,642 90.6,646 94.2,642 94.2,657.3 90.6,662.5 87,657.3" fill="#b3202c" />
<rect x="109" y="645" width="2.2" height="24.5" fill="#57308a" />
<rect x="118.5" y="645" width="2.2" height="24.5" fill="#57308a" />
<text x="50" y="677" font-size="7" fill="#3d70c0" stroke="#3d70c0" stroke-width="0.22" textLength="39.5" lengthAdjust="spacingAndGlyphs">DL1 signaling</text>
<polygon points="62.5,680.3 82.1,680.3 84.7,684.5 98.8,684.5 98.8,689.6 73.1,689.6 73.1,684.5 62.5,684.5" fill="#3d70c0" />
<line x1="73.1" y1="684.6" x2="83.5" y2="684.6" stroke="#8fb0e0" stroke-width="0.5" />
<text x="102" y="681.5" font-size="7.4" fill="#222" stroke="#222" stroke-width="0.22" font-weight="bold" textLength="17.9" lengthAdjust="spacingAndGlyphs">STAT3</text>
<text x="102" y="690.4" font-size="7.8" fill="#222" stroke="#222" stroke-width="0.22" textLength="29.8" lengthAdjust="spacingAndGlyphs">activation</text>
<text x="152" y="665" font-size="7" fill="#111" stroke="#111" stroke-width="0.22" textLength="48" lengthAdjust="spacingAndGlyphs">IL6 cis-signaling</text>
<polygon points="151.2,670.6 205.5,670.6 205.5,667.4 210.5,673 205.5,678.6 205.5,675.4 151.2,675.4" fill="#fff" stroke="#111" stroke-width="1" stroke-linejoin="miter"/>
<text x="152" y="688.8" font-size="7" fill="#111" stroke="#111" stroke-width="0.22" textLength="54.2" lengthAdjust="spacingAndGlyphs">IL6 trans-signaling</text>
<polygon points="151.2,694 205.5,694 205.5,690.8 210.5,696.4 205.5,702 205.5,698.8 151.2,698.8" fill="#fff" stroke="#111" stroke-width="1" stroke-linejoin="miter"/>
<path d="M171.7,667.5 L180.7,678.3 M180.7,667.5 L171.7,678.3" stroke="#000" stroke-width="3.1" stroke-linecap="butt"/>
<path d="M171.7,690.8 L180.7,701.6 M180.7,690.8 L171.7,701.6" stroke="#000" stroke-width="3.1" stroke-linecap="butt"/>
<circle cx="248.3" cy="663.4" r="14.1" fill="none" stroke="#6fae66" stroke-width="1.1"/>
<circle cx="234.2" cy="690.6" r="14.2" fill="none" stroke="#6fae66" stroke-width="1.1"/>
<circle cx="264.6" cy="690" r="14.4" fill="none" stroke="#6fae66" stroke-width="1.1"/>
<text x="316.5" y="672.5" font-size="7" fill="#111" stroke="#111" stroke-width="0.22" text-anchor="middle" textLength="50.5" lengthAdjust="spacingAndGlyphs">More supportive</text>
<text x="316.8" y="681.2" font-size="7" fill="#111" stroke="#111" stroke-width="0.22" text-anchor="middle" textLength="57.5" lengthAdjust="spacingAndGlyphs">microenvironment</text>
</svg>
</body></html>
